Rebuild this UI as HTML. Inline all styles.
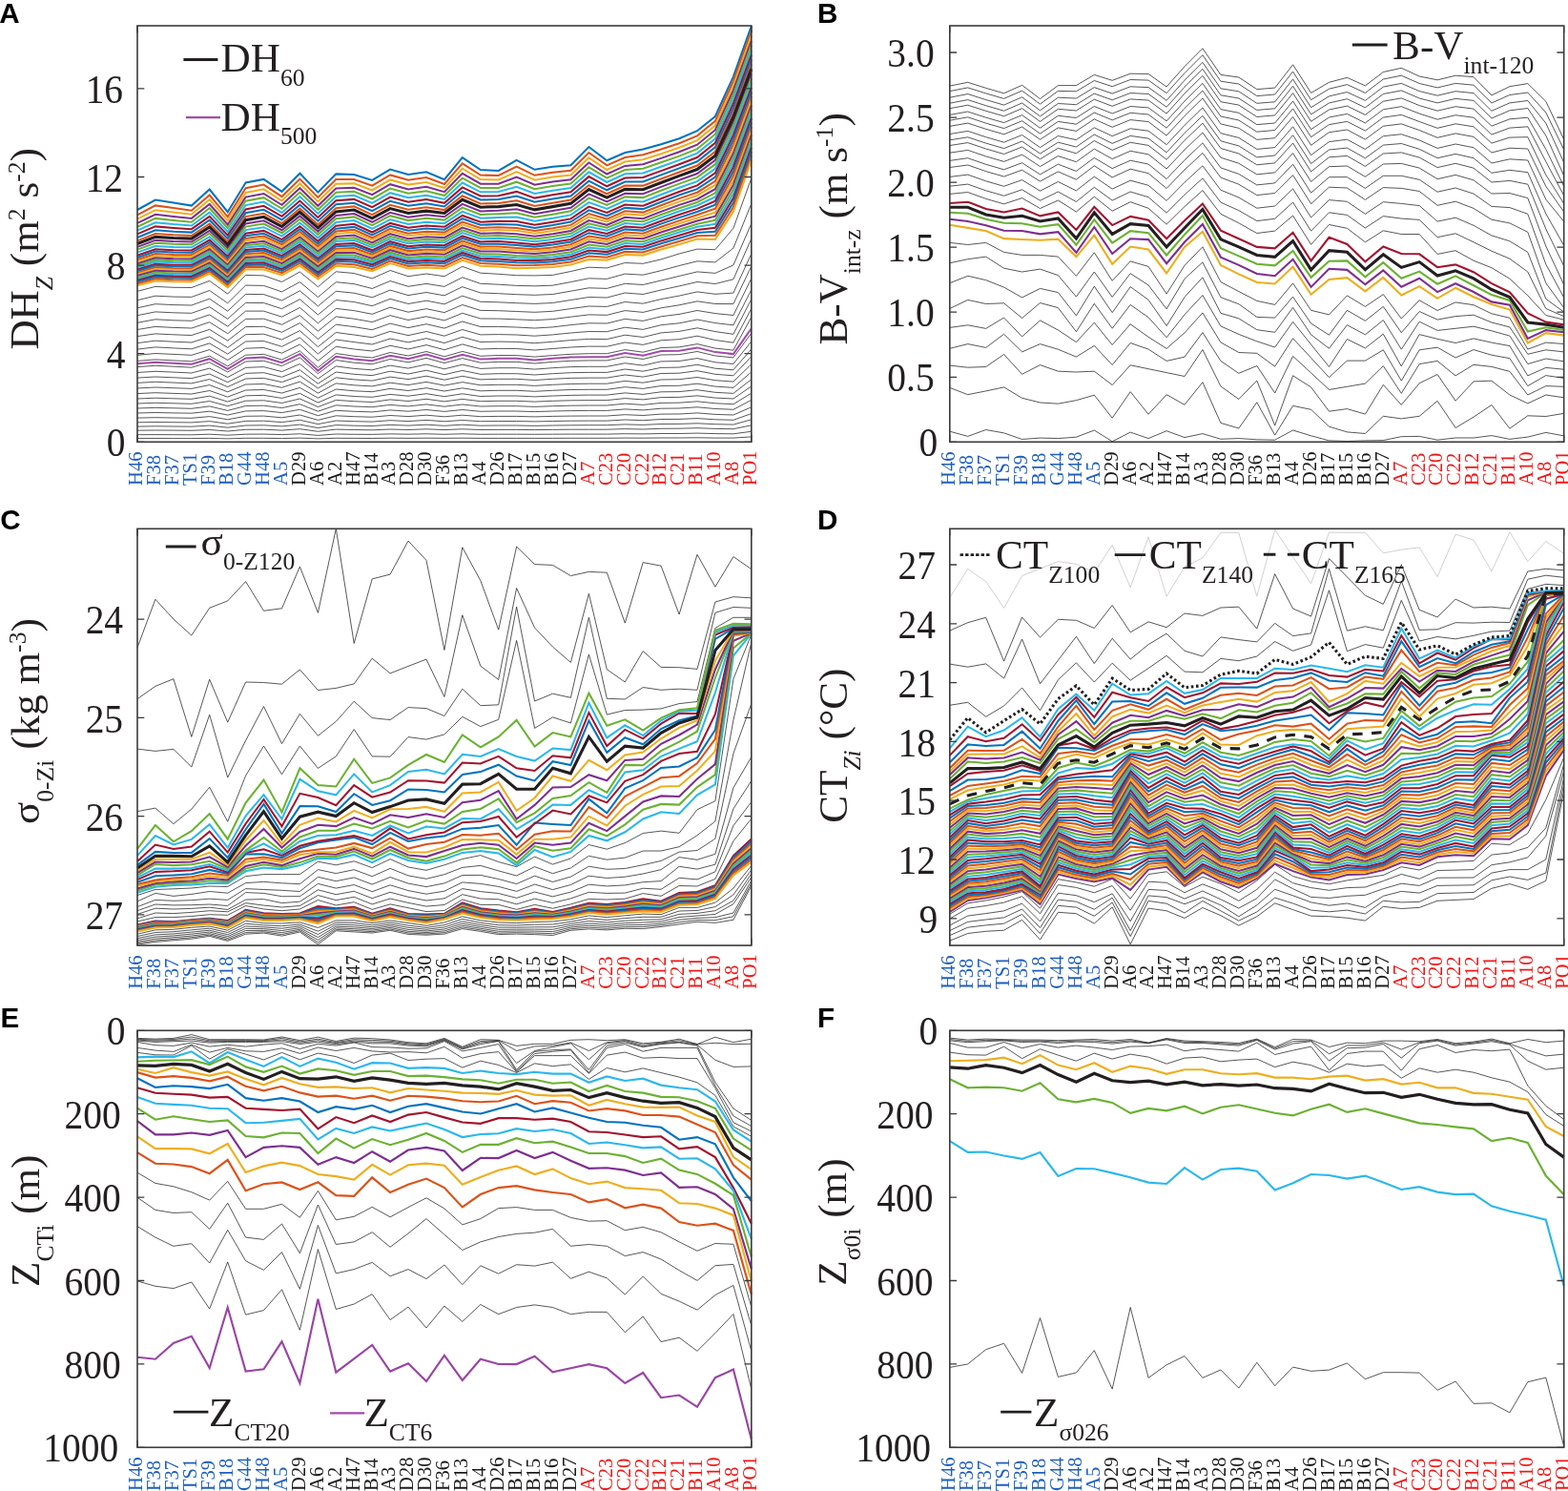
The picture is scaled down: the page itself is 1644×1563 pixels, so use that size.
<!DOCTYPE html>
<html lang="en"><head><meta charset="utf-8"><title>Figure</title>
<style>html,body{margin:0;padding:0;background:#fff}body{width:1644px;height:1563px;overflow:hidden}svg{display:block}</style></head>
<body>
<svg xmlns="http://www.w3.org/2000/svg" width="1644" height="1563" viewBox="0 0 1644 1563">
<rect width="1644" height="1563" fill="#fff"/>
<g id="panelA">
<clipPath id="clipA"><rect x="143" y="26.5" width="646" height="437.3"/></clipPath>
<g clip-path="url(#clipA)" fill="none" stroke-linejoin="miter" stroke-miterlimit="4" stroke-linecap="butt">
<polyline points="144,305.4 162.9,300.4 181.9,301.3 200.8,301.5 219.7,294.4 238.7,308.1 257.6,288.4 276.5,288.9 295.5,295.5 314.4,285 333.4,300.7 352.3,284.8 371.2,286.5 390.2,291.9 409.1,283.5 428,289.7 447,287 465.9,289.7 484.8,279.4 503.8,286.2 522.7,287.3 541.6,288.7 560.6,288.9 579.5,288.4 598.4,284.5 617.4,280.2 636.3,280.9 655.3,275.5 674.2,276.3 693.1,271.9 712.1,266 731,261.1 749.9,261.7 768.9,239.3 787.8,186.8" stroke="#262626" stroke-width="0.78"/>
<polyline points="144,314.7 162.9,310.2 181.9,311.1 200.8,311.4 219.7,304.5 238.7,317.8 257.6,299.1 276.5,299.4 295.5,305.9 314.4,295.6 333.4,311.5 352.3,295.7 371.2,297.6 390.2,302.5 409.1,294.5 428,300.3 447,297.4 465.9,300.4 484.8,290.8 503.8,297.3 522.7,298.2 541.6,299.4 560.6,299.8 579.5,299.2 598.4,295.6 617.4,291.8 636.3,292.4 655.3,287.1 674.2,288.2 693.1,283.7 712.1,278.5 731,273.8 749.9,274.9 768.9,260.1 787.8,213.5" stroke="#262626" stroke-width="0.78"/>
<polyline points="144,322.8 162.9,318.7 181.9,319.6 200.8,320 219.7,313.2 238.7,326.2 257.6,308.4 276.5,308.6 295.5,315 314.4,304.8 333.4,320.9 352.3,305.3 371.2,307.2 390.2,311.8 409.1,304.1 428,309.6 447,306.5 465.9,309.8 484.8,300.7 503.8,307 522.7,307.7 541.6,308.7 560.6,309.3 579.5,308.5 598.4,305.2 617.4,301.8 636.3,302.4 655.3,297.3 674.2,298.5 693.1,294 712.1,289.4 731,284.9 749.9,286.4 768.9,277.9 787.8,234.3" stroke="#262626" stroke-width="0.78"/>
<polyline points="144,330.7 162.9,326.9 181.9,327.8 200.8,328.3 219.7,321.7 238.7,334.3 257.6,317.4 276.5,317.5 295.5,323.7 314.4,313.7 333.4,330 352.3,314.5 371.2,316.5 390.2,320.7 409.1,313.3 428,318.5 447,315.2 465.9,318.8 484.8,310.2 503.8,316.3 522.7,316.8 541.6,317.7 560.6,318.4 579.5,317.5 598.4,314.5 617.4,311.5 636.3,312 655.3,307 674.2,308.5 693.1,304 712.1,299.9 731,295.5 749.9,297.5 768.9,292.8 787.8,250.2" stroke="#262626" stroke-width="0.78"/>
<polyline points="144,338.3 162.9,334.8 181.9,335.8 200.8,336.3 219.7,329.9 238.7,342.2 257.6,326.1 276.5,326.1 295.5,332.2 314.4,322.4 333.4,338.8 352.3,323.4 371.2,325.6 390.2,329.3 409.1,322.2 428,327.2 447,323.7 465.9,327.6 484.8,319.5 503.8,325.4 522.7,325.7 541.6,326.5 560.6,327.3 579.5,326.3 598.4,323.6 617.4,321 636.3,321.4 655.3,316.5 674.2,318.2 693.1,313.6 712.1,310.1 731,305.9 749.9,308.3 768.9,307.1 787.8,266" stroke="#262626" stroke-width="0.78"/>
<polyline points="144,345.5 162.9,342.4 181.9,343.4 200.8,344 219.7,337.7 238.7,349.7 257.6,334.4 276.5,334.2 295.5,340.3 314.4,330.6 333.4,347.2 352.3,331.9 371.2,334.2 390.2,337.6 409.1,330.7 428,335.5 447,331.8 465.9,335.9 484.8,328.3 503.8,334 522.7,334.1 541.6,334.8 560.6,335.7 579.5,334.6 598.4,332.2 617.4,329.9 636.3,330.3 655.3,325.6 674.2,327.4 693.1,322.8 712.1,319.8 731,315.8 749.9,318.5 768.9,318.6 787.8,279" stroke="#262626" stroke-width="0.78"/>
<polyline points="144,352.6 162.9,349.9 181.9,350.8 200.8,351.5 219.7,345.4 238.7,357.1 257.6,342.6 276.5,342.3 295.5,348.3 314.4,338.6 333.4,355.5 352.3,340.2 371.2,342.6 390.2,345.7 409.1,339.1 428,343.6 447,339.7 465.9,344.1 484.8,337 503.8,342.5 522.7,342.4 541.6,343 560.6,344 579.5,342.9 598.4,340.6 617.4,338.8 636.3,339 655.3,334.4 674.2,336.4 693.1,331.8 712.1,329.4 731,325.5 749.9,328.6 768.9,330.5 787.8,291.8" stroke="#262626" stroke-width="0.78"/>
<polyline points="144,359.6 162.9,357.2 181.9,358.2 200.8,359 219.7,352.9 238.7,364.4 257.6,350.7 276.5,350.2 295.5,356.1 314.4,346.6 333.4,363.6 352.3,348.5 371.2,351 390.2,353.7 409.1,347.4 428,351.6 447,347.5 465.9,352.2 484.8,345.5 503.8,350.9 522.7,350.6 541.6,351 560.6,352.2 579.5,350.9 598.4,349 617.4,347.5 636.3,347.7 655.3,343.2 674.2,345.4 693.1,340.7 712.1,338.8 731,335 749.9,338.6 768.9,340.8 787.8,303.7" stroke="#262626" stroke-width="0.78"/>
<polyline points="144,366.1 162.9,363.9 181.9,364.9 200.8,365.8 219.7,359.9 238.7,371.1 257.6,358 276.5,357.5 295.5,363.3 314.4,353.9 333.4,371 352.3,356 371.2,358.6 390.2,361 409.1,355 428,358.9 447,354.7 465.9,359.6 484.8,353.3 503.8,358.5 522.7,358.1 541.6,358.4 560.6,359.7 579.5,358.3 598.4,356.6 617.4,355.4 636.3,355.6 655.3,351.2 674.2,353.5 693.1,348.9 712.1,347.4 731,343.8 749.9,347.6 768.9,350.3 787.8,313.6" stroke="#262626" stroke-width="0.78"/>
<polyline points="144,372.3 162.9,370.5 181.9,371.4 200.8,372.3 219.7,366.6 238.7,377.5 257.6,365.2 276.5,364.5 295.5,370.2 314.4,361 333.4,378.3 352.3,363.3 371.2,366 390.2,368 409.1,362.3 428,366 447,361.6 465.9,366.7 484.8,360.9 503.8,366 522.7,365.4 541.6,365.5 560.6,367 579.5,365.5 598.4,364 617.4,363.1 636.3,363.2 655.3,359 674.2,361.4 693.1,356.8 712.1,355.7 731,352.2 749.9,356.5 768.9,359.2 787.8,323.5" stroke="#262626" stroke-width="0.78"/>
<polyline points="144,378.4 162.9,376.9 181.9,377.9 200.8,378.8 219.7,373.2 238.7,383.9 257.6,372.2 276.5,371.4 295.5,377.1 314.4,367.9 333.4,385.3 352.3,370.5 371.2,373.3 390.2,375 409.1,369.5 428,373 447,368.5 465.9,373.8 484.8,368.4 503.8,373.3 522.7,372.5 541.6,372.6 560.6,374.1 579.5,372.6 598.4,371.3 617.4,370.7 636.3,370.7 655.3,366.6 674.2,369.2 693.1,364.5 712.1,363.9 731,360.6 749.9,365.1 768.9,367.1 787.8,332.4" stroke="#262626" stroke-width="0.78"/>
<polyline points="144,384.6 162.9,383.3 181.9,384.2 200.8,385.2 219.7,379.8 238.7,390 257.6,379 276.5,378.3 295.5,383.6 314.4,374.9 333.4,391.7 352.3,377.5 371.2,380.2 390.2,381.7 409.1,376.5 428,379.8 447,375.4 465.9,380.6 484.8,375.6 503.8,380.2 522.7,379.4 541.6,379.4 560.6,381 579.5,379.4 598.4,378.3 617.4,377.9 636.3,377.9 655.3,374 674.2,376.5 693.1,372 712.1,371.7 731,368.5 749.9,373 768.9,374.9 787.8,349.3" stroke="#262626" stroke-width="0.78"/>
<polyline points="144,390.5 162.9,389.3 181.9,390.1 200.8,391 219.7,386.1 238.7,395.5 257.6,385.4 276.5,384.6 295.5,389.6 314.4,381.5 333.4,397.1 352.3,383.9 371.2,386.4 390.2,387.8 409.1,383.1 428,386.1 447,382 465.9,386.8 484.8,382.2 503.8,386.4 522.7,385.7 541.6,385.7 560.6,387.1 579.5,385.7 598.4,384.6 617.4,384.3 636.3,384.3 655.3,380.7 674.2,383.1 693.1,378.9 712.1,378.5 731,375.6 749.9,379.8 768.9,381.5 787.8,357.9" stroke="#262626" stroke-width="0.78"/>
<polyline points="144,396.1 162.9,395 181.9,395.8 200.8,396.6 219.7,392 238.7,400.7 257.6,391.4 276.5,390.7 295.5,395.3 314.4,387.8 333.4,402.2 352.3,390 371.2,392.3 390.2,393.6 409.1,389.2 428,392 447,388.2 465.9,392.7 484.8,388.4 503.8,392.3 522.7,391.7 541.6,391.7 560.6,393 579.5,391.7 598.4,390.7 617.4,390.4 636.3,390.4 655.3,387 674.2,389.2 693.1,385.4 712.1,385.1 731,382.3 749.9,386.2 768.9,387.8 787.8,366" stroke="#262626" stroke-width="0.78"/>
<polyline points="144,401.4 162.9,400.3 181.9,401.1 200.8,401.9 219.7,397.6 238.7,405.6 257.6,397 276.5,396.4 295.5,400.6 314.4,393.8 333.4,407 352.3,395.8 371.2,397.9 390.2,399.1 409.1,395.1 428,397.6 447,394.2 465.9,398.2 484.8,394.3 503.8,397.9 522.7,397.3 541.6,397.3 560.6,398.5 579.5,397.3 598.4,396.4 617.4,396.1 636.3,396.1 655.3,393 674.2,395.1 693.1,391.5 712.1,391.2 731,388.7 749.9,392.3 768.9,393.8 787.8,373.7" stroke="#262626" stroke-width="0.78"/>
<polyline points="144,407 162.9,406 181.9,406.7 200.8,407.4 219.7,403.6 238.7,410.8 257.6,403 276.5,402.5 295.5,406.3 314.4,400.1 333.4,412.1 352.3,401.9 371.2,403.8 390.2,404.9 409.1,401.2 428,403.6 447,400.4 465.9,404.1 484.8,400.6 503.8,403.8 522.7,403.3 541.6,403.3 560.6,404.4 579.5,403.3 598.4,402.5 617.4,402.2 636.3,402.2 655.3,399.4 674.2,401.2 693.1,398 712.1,397.7 731,395.5 749.9,398.7 768.9,400.1 787.8,381.8" stroke="#262626" stroke-width="0.78"/>
<polyline points="144,412.6 162.9,411.7 181.9,412.4 200.8,413 219.7,409.5 238.7,416.1 257.6,409 276.5,408.5 295.5,412 314.4,406.4 333.4,417.2 352.3,408 371.2,409.8 390.2,410.7 409.1,407.4 428,409.5 447,406.7 465.9,410 484.8,406.8 503.8,409.8 522.7,409.3 541.6,409.3 560.6,410.3 579.5,409.3 598.4,408.5 617.4,408.3 636.3,408.3 655.3,405.7 674.2,407.4 693.1,404.5 712.1,404.3 731,402.2 749.9,405.1 768.9,406.4 787.8,389.9" stroke="#262626" stroke-width="0.78"/>
<polyline points="144,418 162.9,417.2 181.9,417.8 200.8,418.3 219.7,415.2 238.7,421.1 257.6,414.8 276.5,414.4 295.5,417.4 314.4,412.4 333.4,422.1 352.3,413.9 371.2,415.5 390.2,416.3 409.1,413.4 428,415.2 447,412.7 465.9,415.7 484.8,412.8 503.8,415.5 522.7,415 541.6,415 560.6,415.9 579.5,415 598.4,414.4 617.4,414.1 636.3,414.1 655.3,411.9 674.2,413.4 693.1,410.8 712.1,410.6 731,408.7 749.9,411.3 768.9,412.4 787.8,397.7" stroke="#262626" stroke-width="0.78"/>
<polyline points="144,423 162.9,422.3 181.9,422.8 200.8,423.3 219.7,420.5 238.7,425.7 257.6,420.2 276.5,419.8 295.5,422.5 314.4,418 333.4,426.6 352.3,419.4 371.2,420.7 390.2,421.5 409.1,418.9 428,420.5 447,418.3 465.9,420.9 484.8,418.4 503.8,420.7 522.7,420.3 541.6,420.3 560.6,421.1 579.5,420.3 598.4,419.8 617.4,419.6 636.3,419.6 655.3,417.6 674.2,418.9 693.1,416.6 712.1,416.4 731,414.8 749.9,417.1 768.9,418 787.8,404.9" stroke="#262626" stroke-width="0.78"/>
<polyline points="144,428 162.9,427.4 181.9,427.8 200.8,428.3 219.7,425.9 238.7,430.4 257.6,425.5 276.5,425.2 295.5,427.6 314.4,423.7 333.4,431.2 352.3,424.8 371.2,426 390.2,426.7 409.1,424.4 428,425.9 447,423.9 465.9,426.2 484.8,424 503.8,426 522.7,425.7 541.6,425.7 560.6,426.4 579.5,425.7 598.4,425.2 617.4,425 636.3,425 655.3,423.2 674.2,424.4 693.1,422.4 712.1,422.2 731,420.8 749.9,422.8 768.9,423.7 787.8,412.2" stroke="#262626" stroke-width="0.78"/>
<polyline points="144,433 162.9,432.5 181.9,432.9 200.8,433.2 219.7,431.2 238.7,435.1 257.6,430.9 276.5,430.6 295.5,432.6 314.4,429.3 333.4,435.7 352.3,430.3 371.2,431.3 390.2,431.9 409.1,429.9 428,431.2 447,429.5 465.9,431.4 484.8,429.5 503.8,431.3 522.7,431 541.6,431 560.6,431.6 579.5,431 598.4,430.6 617.4,430.4 636.3,430.4 655.3,428.9 674.2,429.9 693.1,428.2 712.1,428 731,426.8 749.9,428.5 768.9,429.3 787.8,419.4" stroke="#262626" stroke-width="0.78"/>
<polyline points="144,438.1 162.9,437.7 181.9,438 200.8,438.3 219.7,436.6 238.7,439.8 257.6,436.3 276.5,436.1 295.5,437.8 314.4,435 333.4,440.4 352.3,435.8 371.2,436.7 390.2,437.2 409.1,435.5 428,436.6 447,435.2 465.9,436.8 484.8,435.2 503.8,436.7 522.7,436.4 541.6,436.4 560.6,436.9 579.5,436.4 598.4,436.1 617.4,436 636.3,436 655.3,434.7 674.2,435.5 693.1,434.1 712.1,434 731,432.9 749.9,434.4 768.9,435 787.8,426.8" stroke="#262626" stroke-width="0.78"/>
<polyline points="144,442.8 162.9,442.5 181.9,442.7 200.8,442.9 219.7,441.6 238.7,444.2 257.6,441.4 276.5,441.2 295.5,442.6 314.4,440.3 333.4,444.6 352.3,441 371.2,441.7 390.2,442.1 409.1,440.7 428,441.6 447,440.4 465.9,441.8 484.8,440.5 503.8,441.7 522.7,441.5 541.6,441.5 560.6,441.9 579.5,441.5 598.4,441.2 617.4,441.1 636.3,441.1 655.3,440 674.2,440.7 693.1,439.5 712.1,439.4 731,438.6 749.9,439.8 768.9,440.3 787.8,433.6" stroke="#262626" stroke-width="0.78"/>
<polyline points="144,447.1 162.9,446.8 181.9,447 200.8,447.2 219.7,446.1 238.7,448.2 257.6,446 276.5,445.8 295.5,446.9 314.4,445.1 333.4,448.6 352.3,445.6 371.2,446.2 390.2,446.5 409.1,445.4 428,446.1 447,445.2 465.9,446.3 484.8,445.2 503.8,446.2 522.7,446 541.6,446 560.6,446.4 579.5,446 598.4,445.8 617.4,445.7 636.3,445.7 655.3,444.9 674.2,445.4 693.1,444.5 712.1,444.4 731,443.8 749.9,444.7 768.9,445.1 787.8,439.8" stroke="#262626" stroke-width="0.78"/>
<polyline points="144,451.2 162.9,451 181.9,451.1 200.8,451.3 219.7,450.5 238.7,452 257.6,450.3 276.5,450.2 295.5,451.1 314.4,449.7 333.4,452.3 352.3,450.1 371.2,450.5 390.2,450.8 409.1,450 428,450.5 447,449.8 465.9,450.6 484.8,449.8 503.8,450.5 522.7,450.4 541.6,450.4 560.6,450.6 579.5,450.4 598.4,450.2 617.4,450.2 636.3,450.2 655.3,449.6 674.2,450 693.1,449.3 712.1,449.2 731,448.7 749.9,449.4 768.9,449.7 787.8,445.8" stroke="#262626" stroke-width="0.78"/>
<polyline points="144,455.7 162.9,455.6 181.9,455.7 200.8,455.8 219.7,455.2 238.7,456.2 257.6,455.2 276.5,455.1 295.5,455.6 314.4,454.8 333.4,456.4 352.3,455 371.2,455.3 390.2,455.4 409.1,454.9 428,455.2 447,454.8 465.9,455.3 484.8,454.8 503.8,455.3 522.7,455.2 541.6,455.2 560.6,455.3 579.5,455.2 598.4,455.1 617.4,455.1 636.3,455.1 655.3,454.7 674.2,454.9 693.1,454.5 712.1,454.5 731,454.1 749.9,454.6 768.9,454.8 787.8,452.3" stroke="#262626" stroke-width="0.78"/>
<polyline points="144,459.6 162.9,459.5 181.9,459.6 200.8,459.6 219.7,459.4 238.7,459.9 257.6,459.3 276.5,459.3 295.5,459.6 314.4,459.1 333.4,459.9 352.3,459.3 371.2,459.4 390.2,459.5 409.1,459.2 428,459.4 447,459.2 465.9,459.4 484.8,459.2 503.8,459.4 522.7,459.4 541.6,459.4 560.6,459.4 579.5,459.4 598.4,459.3 617.4,459.3 636.3,459.3 655.3,459.1 674.2,459.2 693.1,459 712.1,459 731,458.8 749.9,459.1 768.9,459.1 787.8,457.9" stroke="#262626" stroke-width="0.78"/>
<polyline points="144,220 162.9,209.6 181.9,212.6 200.8,215.6 219.7,198.6 238.7,222.2 257.6,191.5 276.5,187.9 295.5,200.8 314.4,181.7 333.4,201.6 352.3,182.4 371.2,183 390.2,189 409.1,177.5 428,183 447,180.3 465.9,188.2 484.8,165.1 503.8,178.1 522.7,178.9 541.6,167.9 560.6,177.8 579.5,174.8 598.4,173.2 617.4,154 636.3,168.2 655.3,160 674.2,156.6 693.1,151.2 712.1,145.2 731,137.2 749.9,122 768.9,80.3 787.8,27.4" stroke="#0072BD" stroke-width="2.05"/>
<polyline points="144,225.3 162.9,215.4 181.9,218.1 200.8,220.7 219.7,204.5 238.7,227.3 257.6,197.2 276.5,193.6 295.5,206.1 314.4,187.6 333.4,206.9 352.3,188 371.2,188 390.2,194.7 409.1,183.4 428,188.8 447,186.1 465.9,193 484.8,171.4 503.8,183.5 522.7,184 541.6,174.6 560.6,183.8 579.5,180.7 598.4,178.7 617.4,160 636.3,173.4 655.3,165 674.2,162.3 693.1,156.5 712.1,150.2 731,142.4 749.9,126.9 768.9,85.1 787.8,32.7" stroke="#DB5218" stroke-width="2.05"/>
<polyline points="144,229.6 162.9,220.2 181.9,222.6 200.8,224.8 219.7,209.3 238.7,231.4 257.6,202 276.5,198.3 295.5,210.5 314.4,192.5 333.4,211.4 352.3,192.8 371.2,192.4 390.2,199.5 409.1,188.4 428,193.6 447,191 465.9,197.1 484.8,176.7 503.8,188.1 522.7,188.4 541.6,180.1 560.6,188.8 579.5,185.6 598.4,183.5 617.4,165.3 636.3,178 655.3,169.5 674.2,167.3 693.1,161.2 712.1,154.8 731,147.1 749.9,131.5 768.9,89.8 787.8,37.7" stroke="#EDAE1F" stroke-width="2.05"/>
<polyline points="144,233.9 162.9,224.8 181.9,227 200.8,228.9 219.7,214 238.7,235.5 257.6,206.6 276.5,203 295.5,214.8 314.4,197.2 333.4,215.7 352.3,197.4 371.2,196.7 390.2,204.2 409.1,193.2 428,198.4 447,195.8 465.9,201.2 484.8,181.9 503.8,192.7 522.7,192.8 541.6,185.6 560.6,193.8 579.5,190.5 598.4,188.2 617.4,170.5 636.3,182.5 655.3,173.9 674.2,172.2 693.1,165.9 712.1,159.3 731,151.7 749.9,136.2 768.9,94.6 787.8,42.8" stroke="#7D2E8F" stroke-width="2.05"/>
<polyline points="144,237.7 162.9,228.9 181.9,231 200.8,232.7 219.7,218.2 238.7,239.2 257.6,210.8 276.5,207.2 295.5,218.8 314.4,201.6 333.4,219.8 352.3,201.7 371.2,200.7 390.2,208.5 409.1,197.6 428,202.8 447,200.2 465.9,205.1 484.8,186.7 503.8,196.9 522.7,196.9 541.6,190.7 560.6,198.3 579.5,195.1 598.4,192.5 617.4,175.3 636.3,186.7 655.3,178.1 674.2,176.7 693.1,170.3 712.1,163.6 731,156.1 749.9,140.7 768.9,99.3 787.8,47.7" stroke="#6BB132" stroke-width="2.05"/>
<polyline points="144,241.6 162.9,233.2 181.9,235.1 200.8,236.5 219.7,222.6 238.7,243 257.6,215.1 276.5,211.6 295.5,222.9 314.4,206.1 333.4,223.9 352.3,206.1 371.2,204.8 390.2,212.9 409.1,202.2 428,207.3 447,204.7 465.9,209 484.8,191.6 503.8,201.3 522.7,201.1 541.6,195.8 560.6,203 579.5,199.7 598.4,197 617.4,180.3 636.3,191 655.3,182.3 674.2,181.4 693.1,174.7 712.1,167.9 731,160.6 749.9,145.3 768.9,104.1 787.8,52.7" stroke="#2BB7EC" stroke-width="2.05"/>
<polyline points="144,245.4 162.9,237.4 181.9,239 200.8,240.2 219.7,226.8 238.7,246.7 257.6,219.4 276.5,215.8 295.5,226.8 314.4,210.5 333.4,227.9 352.3,210.3 371.2,208.9 390.2,217.2 409.1,206.6 428,211.7 447,209.1 465.9,212.8 484.8,196.4 503.8,205.5 522.7,205.2 541.6,200.9 560.6,207.6 579.5,204.2 598.4,201.3 617.4,185.1 636.3,195.3 655.3,186.5 674.2,186 693.1,179.1 712.1,172.2 731,165 749.9,149.8 768.9,108.8 787.8,57.7" stroke="#A1132E" stroke-width="2.05"/>
<polyline points="144,249 162.9,241.3 181.9,242.7 200.8,243.6 219.7,230.7 238.7,250.2 257.6,223.3 276.5,219.8 295.5,230.5 314.4,214.6 333.4,231.7 352.3,214.3 371.2,212.7 390.2,221.2 409.1,210.8 428,215.8 447,213.3 465.9,216.5 484.8,200.8 503.8,209.5 522.7,209.1 541.6,205.6 560.6,211.8 579.5,208.5 598.4,205.5 617.4,189.7 636.3,199.3 655.3,190.6 674.2,190.4 693.1,183.4 712.1,176.4 731,169.3 749.9,154.3 768.9,113.5 787.8,62.5" stroke="#0072BD" stroke-width="2.05"/>
<polyline points="144,252.4 162.9,245 181.9,246.3 200.8,247 219.7,234.5 238.7,253.5 257.6,227.1 276.5,223.7 295.5,234.2 314.4,218.6 333.4,235.4 352.3,218.3 371.2,216.4 390.2,225.2 409.1,214.8 428,219.8 447,217.3 465.9,220.1 484.8,205.2 503.8,213.5 522.7,212.9 541.6,210.2 560.6,216 579.5,212.7 598.4,209.6 617.4,194.3 636.3,203.3 655.3,194.6 674.2,194.6 693.1,187.5 712.1,180.5 731,173.5 749.9,158.8 768.9,118.3 787.8,67.4" stroke="#DB5218" stroke-width="2.05"/>
<polyline points="144,258.9 162.9,251.9 181.9,253 200.8,253.5 219.7,241.8 238.7,260 257.6,234.5 276.5,231.3 295.5,241.2 314.4,226.4 333.4,242.6 352.3,226 371.2,224 390.2,232.8 409.1,222.8 428,227.7 447,225.3 465.9,227.3 484.8,213.8 503.8,221.4 522.7,220.7 541.6,219.3 560.6,224.2 579.5,221 598.4,217.7 617.4,203.4 636.3,211.4 655.3,202.7 674.2,203.3 693.1,195.9 712.1,188.8 731,182 749.9,167.8 768.9,127.7 787.8,77.3" stroke="#7D2E8F" stroke-width="2.05"/>
<polyline points="144,261.6 162.9,254.8 181.9,255.8 200.8,256.2 219.7,244.7 238.7,262.7 257.6,237.6 276.5,234.6 295.5,244.2 314.4,229.7 333.4,245.8 352.3,229.3 371.2,227.4 390.2,236.1 409.1,226.2 428,231.1 447,228.8 465.9,230.6 484.8,217.6 503.8,224.9 522.7,224.2 541.6,223.2 560.6,227.8 579.5,224.7 598.4,221.3 617.4,207.6 636.3,215 655.3,206.4 674.2,207.1 693.1,199.8 712.1,192.6 731,185.9 749.9,172.2 768.9,132.5 787.8,82" stroke="#6BB132" stroke-width="2.05"/>
<polyline points="144,264.6 162.9,258 181.9,259 200.8,259.3 219.7,248.2 238.7,265.7 257.6,241.1 276.5,238.2 295.5,247.6 314.4,233.5 333.4,249.3 352.3,233.1 371.2,231.1 390.2,239.8 409.1,230 428,234.9 447,232.7 465.9,234.2 484.8,221.8 503.8,228.8 522.7,228.1 541.6,227.6 560.6,231.8 579.5,228.7 598.4,225.4 617.4,212.1 636.3,219 655.3,210.4 674.2,211.4 693.1,204 712.1,196.8 731,190.2 749.9,176.8 768.9,137.2 787.8,87" stroke="#2BB7EC" stroke-width="2.05"/>
<polyline points="144,267.7 162.9,261.2 181.9,262.2 200.8,262.4 219.7,251.6 238.7,268.8 257.6,244.7 276.5,241.9 295.5,251.1 314.4,237.3 333.4,252.9 352.3,236.8 371.2,234.8 390.2,243.5 409.1,233.9 428,238.7 447,236.6 465.9,237.8 484.8,226 503.8,232.7 522.7,231.9 541.6,232 560.6,235.8 579.5,232.8 598.4,229.4 617.4,216.6 636.3,223 655.3,214.5 674.2,215.7 693.1,208.2 712.1,201 731,194.4 749.9,181.3 768.9,141.9 787.8,91.9" stroke="#A1132E" stroke-width="2.05"/>
<polyline points="144,270 162.9,263.6 181.9,264.6 200.8,264.8 219.7,254.1 238.7,271.1 257.6,247.3 276.5,244.8 295.5,253.7 314.4,240.2 333.4,255.6 352.3,239.7 371.2,237.9 390.2,246.4 409.1,236.8 428,241.7 447,239.6 465.9,240.7 484.8,229.2 503.8,235.8 522.7,235.1 541.6,235.4 560.6,238.9 579.5,236 598.4,232.6 617.4,220.3 636.3,226.3 655.3,217.9 674.2,219.1 693.1,211.7 712.1,204.5 731,198.1 749.9,185.6 768.9,146.7 787.8,96.6" stroke="#0072BD" stroke-width="2.05"/>
<polyline points="144,272.3 162.9,266 181.9,267 200.8,267.2 219.7,256.7 238.7,273.5 257.6,250 276.5,247.6 295.5,256.3 314.4,243 333.4,258.4 352.3,242.6 371.2,240.9 390.2,249.3 409.1,239.8 428,244.7 447,242.7 465.9,243.6 484.8,232.5 503.8,238.9 522.7,238.3 541.6,238.9 560.6,242 579.5,239.3 598.4,235.9 617.4,224 636.3,229.6 655.3,221.3 674.2,222.6 693.1,215.2 712.1,208.1 731,201.7 749.9,189.8 768.9,151.4 787.8,101.2" stroke="#DB5218" stroke-width="2.05"/>
<polyline points="144,274.2 162.9,268 181.9,268.9 200.8,269.1 219.7,258.8 238.7,275.4 257.6,252.3 276.5,250 295.5,258.5 314.4,245.5 333.4,260.7 352.3,245.1 371.2,243.6 390.2,251.7 409.1,242.3 428,247.2 447,245.3 465.9,246.2 484.8,235.3 503.8,241.7 522.7,241.1 541.6,241.8 560.6,244.7 579.5,242.1 598.4,238.7 617.4,227.3 636.3,232.5 655.3,224.4 674.2,225.7 693.1,218.4 712.1,211.4 731,205 749.9,193.9 768.9,156.1 787.8,105.7" stroke="#EDAE1F" stroke-width="2.05"/>
<polyline points="144,276.4 162.9,270.4 181.9,271.3 200.8,271.5 219.7,261.3 238.7,277.7 257.6,254.9 276.5,252.8 295.5,261.1 314.4,248.4 333.4,263.5 352.3,248.1 371.2,246.6 390.2,254.5 409.1,245.2 428,250.2 447,248.3 465.9,249.1 484.8,238.5 503.8,244.8 522.7,244.3 541.6,245.2 560.6,247.8 579.5,245.3 598.4,242 617.4,231 636.3,235.8 655.3,227.8 674.2,229.2 693.1,221.9 712.1,214.9 731,208.7 749.9,198.2 768.9,160.8 787.8,110.3" stroke="#7D2E8F" stroke-width="2.05"/>
<polyline points="144,278.3 162.9,272.4 181.9,273.3 200.8,273.4 219.7,263.4 238.7,279.7 257.6,257.2 276.5,255.3 295.5,263.4 314.4,250.8 333.4,265.8 352.3,250.6 371.2,249.3 390.2,257 409.1,247.8 428,252.8 447,250.9 465.9,251.7 484.8,241.3 503.8,247.5 522.7,247.1 541.6,248.2 560.6,250.5 579.5,248.1 598.4,244.8 617.4,234.3 636.3,238.7 655.3,231 674.2,232.3 693.1,225 712.1,218.2 731,212 749.9,202.3 768.9,165.5 787.8,114.8" stroke="#6BB132" stroke-width="2.05"/>
<polyline points="144,280.2 162.9,274.4 181.9,275.3 200.8,275.4 219.7,265.5 238.7,281.6 257.6,259.5 276.5,257.7 295.5,265.6 314.4,253.3 333.4,268.2 352.3,253.1 371.2,251.9 390.2,259.4 409.1,250.3 428,255.3 447,253.5 465.9,254.3 484.8,244.1 503.8,250.3 522.7,249.9 541.6,251.1 560.6,253.2 579.5,250.9 598.4,247.7 617.4,237.6 636.3,241.7 655.3,234.1 674.2,235.4 693.1,228.2 712.1,221.5 731,215.3 749.9,206.4 768.9,170.2 787.8,119.3" stroke="#2BB7EC" stroke-width="2.05"/>
<polyline points="144,282.5 162.9,276.8 181.9,277.7 200.8,277.8 219.7,268.1 238.7,283.9 257.6,262.1 276.5,260.5 295.5,268.2 314.4,256.2 333.4,271 352.3,256 371.2,255 390.2,262.3 409.1,253.2 428,258.3 447,256.6 465.9,257.2 484.8,247.4 503.8,253.4 522.7,253.1 541.6,254.5 560.6,256.3 579.5,254.1 598.4,250.9 617.4,241.2 636.3,245 655.3,237.5 674.2,238.8 693.1,231.7 712.1,225 731,218.9 749.9,210.6 768.9,174.9 787.8,123.9" stroke="#A1132E" stroke-width="2.05"/>
<polyline points="144,284.1 162.9,278.4 181.9,279.3 200.8,279.5 219.7,269.8 238.7,285.6 257.6,264.1 276.5,262.6 295.5,270.1 314.4,258.3 333.4,273 352.3,258.2 371.2,257.4 390.2,264.4 409.1,255.4 428,260.5 447,258.8 465.9,259.6 484.8,249.8 503.8,255.8 522.7,255.7 541.6,257.1 560.6,258.6 579.5,256.6 598.4,253.5 617.4,244.2 636.3,247.7 655.3,240.4 674.2,241.6 693.1,234.6 712.1,228.1 731,222 749.9,214.6 768.9,179.6 787.8,128.3" stroke="#0072BD" stroke-width="2.05"/>
<polyline points="144,286 162.9,280.4 181.9,281.3 200.8,281.4 219.7,271.9 238.7,287.5 257.6,266.3 276.5,265 295.5,272.4 314.4,260.8 333.4,275.4 352.3,260.7 371.2,260.1 390.2,266.8 409.1,257.9 428,263.1 447,261.5 465.9,262.2 484.8,252.6 503.8,258.6 522.7,258.5 541.6,260 560.6,261.3 579.5,259.4 598.4,256.3 617.4,247.5 636.3,250.6 655.3,243.5 674.2,244.7 693.1,237.8 712.1,231.4 731,225.3 749.9,218.7 768.9,184.3 787.8,132.8" stroke="#DB5218" stroke-width="2.05"/>
<polyline points="144,287.5 162.9,282 181.9,282.8 200.8,283 219.7,273.6 238.7,289.1 257.6,268.1 276.5,267 295.5,274.2 314.4,262.8 333.4,277.3 352.3,262.8 371.2,262.4 390.2,268.8 409.1,260 428,265.2 447,263.6 465.9,264.5 484.8,254.9 503.8,260.9 522.7,261 541.6,262.4 560.6,263.5 579.5,261.8 598.4,258.8 617.4,250.4 636.3,253.2 655.3,246.3 674.2,247.4 693.1,240.6 712.1,234.3 731,228.4 749.9,222.7 768.9,189 787.8,137.1" stroke="#EDAE1F" stroke-width="2.05"/>
<polyline points="144,289.1 162.9,283.7 181.9,284.5 200.8,284.7 219.7,275.4 238.7,290.7 257.6,270.1 276.5,269.1 295.5,276.1 314.4,264.9 333.4,279.4 352.3,264.9 371.2,264.8 390.2,270.9 409.1,262.2 428,267.4 447,265.9 465.9,266.8 484.8,257.3 503.8,263.4 522.7,263.6 541.6,265 560.6,265.9 579.5,264.3 598.4,261.4 617.4,253.3 636.3,255.9 655.3,249.2 674.2,250.2 693.1,243.5 712.1,237.4 731,231.4 749.9,226.7 768.9,193.7 787.8,141.5" stroke="#7D2E8F" stroke-width="2.05"/>
<polyline points="144,290.9 162.9,285.6 181.9,286.5 200.8,286.7 219.7,277.5 238.7,292.7 257.6,272.3 276.5,271.5 295.5,278.4 314.4,267.3 333.4,281.8 352.3,267.4 371.2,267.5 390.2,273.3 409.1,264.7 428,269.9 447,268.5 465.9,269.4 484.8,260.1 503.8,266.1 522.7,266.4 541.6,267.9 560.6,268.6 579.5,267.1 598.4,264.2 617.4,256.6 636.3,258.8 655.3,252.3 674.2,253.3 693.1,246.7 712.1,240.7 731,234.8 749.9,230.8 768.9,198.4 787.8,146" stroke="#6BB132" stroke-width="2.05"/>
<polyline points="144,292.4 162.9,287.2 181.9,288 200.8,288.3 219.7,279.2 238.7,294.2 257.6,274.1 276.5,273.5 295.5,280.2 314.4,269.4 333.4,283.7 352.3,269.5 371.2,269.8 390.2,275.3 409.1,266.8 428,272.1 447,270.7 465.9,271.7 484.8,262.5 503.8,268.5 522.7,268.9 541.6,270.3 560.6,270.8 579.5,269.4 598.4,266.7 617.4,259.5 636.3,261.4 655.3,255.1 674.2,256 693.1,249.5 712.1,243.6 731,237.8 749.9,234.7 768.9,203.1 787.8,150.3" stroke="#2BB7EC" stroke-width="2.05"/>
<polyline points="144,294 162.9,288.9 181.9,289.7 200.8,290 219.7,280.9 238.7,295.9 257.6,276.1 276.5,275.6 295.5,282.1 314.4,271.5 333.4,285.8 352.3,271.7 371.2,272.2 390.2,277.4 409.1,269 428,274.3 447,273 465.9,274 484.8,264.9 503.8,271 522.7,271.5 541.6,272.9 560.6,273.1 579.5,271.9 598.4,269.2 617.4,262.5 636.3,264.1 655.3,258 674.2,258.7 693.1,252.4 712.1,246.7 731,240.9 749.9,238.7 768.9,207.8 787.8,154.7" stroke="#A1132E" stroke-width="2.05"/>
<polyline points="144,295.5 162.9,290.4 181.9,291.3 200.8,291.6 219.7,282.6 238.7,297.4 257.6,277.9 276.5,277.6 295.5,283.9 314.4,273.5 333.4,287.8 352.3,273.8 371.2,274.5 390.2,279.4 409.1,271.1 428,276.4 447,275.2 465.9,276.3 484.8,267.2 503.8,273.3 522.7,273.9 541.6,275.3 560.6,275.4 579.5,274.3 598.4,271.7 617.4,265.3 636.3,266.7 655.3,260.8 674.2,261.4 693.1,255.3 712.1,249.7 731,243.9 749.9,242.7 768.9,212.5 787.8,159" stroke="#0072BD" stroke-width="2.05"/>
<polyline points="144,297.4 162.9,292.4 181.9,293.2 200.8,293.5 219.7,284.7 238.7,299.4 257.6,280.1 276.5,280 295.5,286.2 314.4,275.9 333.4,290.1 352.3,276.3 371.2,277.2 390.2,281.9 409.1,273.6 428,279 447,277.8 465.9,278.9 484.8,270 503.8,276.1 522.7,276.8 541.6,278.3 560.6,278 579.5,277.1 598.4,274.5 617.4,268.6 636.3,269.7 655.3,263.9 674.2,264.5 693.1,258.4 712.1,252.9 731,247.2 749.9,246.8 768.9,217.2 787.8,163.5" stroke="#DB5218" stroke-width="2.05"/>
<polyline points="144,299.3 162.9,294.4 181.9,295.2 200.8,295.5 219.7,286.8 238.7,301.3 257.6,282.4 276.5,282.4 295.5,288.4 314.4,278.4 333.4,292.5 352.3,278.8 371.2,279.9 390.2,284.3 409.1,276.1 428,281.5 447,280.4 465.9,281.5 484.8,272.8 503.8,278.8 522.7,279.6 541.6,281.2 560.6,280.7 579.5,279.9 598.4,277.4 617.4,271.9 636.3,272.6 655.3,267 674.2,267.6 693.1,261.6 712.1,256.2 731,250.5 749.9,250.9 768.9,221.9 787.8,168" stroke="#EDAE1F" stroke-width="2.05"/>
<polyline points="144,381.2 162.9,379.8 181.9,380.8 200.8,381.8 219.7,376.2 238.7,386.8 257.6,375.4 276.5,374.6 295.5,380.2 314.4,371.1 333.4,388.6 352.3,373.8 371.2,376.6 390.2,378.2 409.1,372.8 428,376.2 447,371.6 465.9,377 484.8,371.8 503.8,376.6 522.7,375.8 541.6,375.8 560.6,377.4 579.5,375.8 598.4,374.6 617.4,374.2 636.3,374.2 655.3,370.1 674.2,372.8 693.1,368.1 712.1,367.7 731,364.4 749.9,369.1 768.9,371.1 787.8,344.4" stroke="#a24baa" stroke-width="2.0"/>
<polyline points="144,255.5 162.9,248.4 181.9,249.5 200.8,250.1 219.7,238 238.7,256.6 257.6,230.6 276.5,227.3 295.5,237.5 314.4,222.3 333.4,238.8 352.3,221.9 371.2,220 390.2,228.8 409.1,218.6 428,223.5 447,221.1 465.9,223.5 484.8,209.3 503.8,217.2 522.7,216.6 541.6,214.5 560.6,219.9 579.5,216.6 598.4,213.4 617.4,198.6 636.3,207.1 655.3,198.4 674.2,198.7 693.1,191.5 712.1,184.4 731,177.5 749.9,163.2 768.9,123 787.8,72.2" stroke="#231f20" stroke-width="3.1"/>
</g>
<rect x="144" y="27" width="643.8" height="436.3" fill="none" stroke="#3a3a3a" stroke-width="1.6"/>
<path d="M144 463.3h7.3M787.8 463.3h-7.3M144 370.7h7.3M787.8 370.7h-7.3M144 278.1h7.3M787.8 278.1h-7.3M144 185.5h7.3M787.8 185.5h-7.3M144 92.9h7.3M787.8 92.9h-7.3M144 463.3v-7.3M144 27v7.3M787.8 463.3v-7.3M787.8 27v7.3" stroke="#3a3a3a" stroke-width="1.3" fill="none"/>
<g font-family="'Liberation Serif',serif" font-size="40.5" fill="#231f20" text-anchor="end">
<text transform="translate(131.5 478.4) scale(0.975 1.045)">0</text>
<text transform="translate(131.5 385.8) scale(0.975 1.045)">4</text>
<text transform="translate(131.5 293.2) scale(0.975 1.045)">8</text>
<text transform="translate(129.1 200.6) scale(0.975 1.045)">12</text>
<text transform="translate(129.1 108) scale(0.975 1.045)">16</text>
</g>
<g font-family="'Liberation Serif',serif" font-size="20.5" text-anchor="start">
<text transform="translate(149.3 508.9) rotate(-90)" fill="#1f5fbf">H46</text>
<text transform="translate(168.2 508.9) rotate(-90)" fill="#1f5fbf">F38</text>
<text transform="translate(187.2 508.9) rotate(-90)" fill="#1f5fbf">F37</text>
<text transform="translate(206.1 508.9) rotate(-90)" fill="#1f5fbf">TS1</text>
<text transform="translate(225 508.9) rotate(-90)" fill="#1f5fbf">F39</text>
<text transform="translate(244 508.9) rotate(-90)" fill="#1f5fbf">B18</text>
<text transform="translate(262.9 508.9) rotate(-90)" fill="#1f5fbf">G44</text>
<text transform="translate(281.8 508.9) rotate(-90)" fill="#1f5fbf">H48</text>
<text transform="translate(300.8 508.9) rotate(-90)" fill="#1f5fbf">A5</text>
<text transform="translate(319.7 508.9) rotate(-90)" fill="#1a1a1a">D29</text>
<text transform="translate(338.7 508.9) rotate(-90)" fill="#1a1a1a">A6</text>
<text transform="translate(357.6 508.9) rotate(-90)" fill="#1a1a1a">A2</text>
<text transform="translate(376.5 508.9) rotate(-90)" fill="#1a1a1a">H47</text>
<text transform="translate(395.5 508.9) rotate(-90)" fill="#1a1a1a">B14</text>
<text transform="translate(414.4 508.9) rotate(-90)" fill="#1a1a1a">A3</text>
<text transform="translate(433.3 508.9) rotate(-90)" fill="#1a1a1a">D28</text>
<text transform="translate(452.3 508.9) rotate(-90)" fill="#1a1a1a">D30</text>
<text transform="translate(471.2 508.9) rotate(-90)" fill="#1a1a1a">F36</text>
<text transform="translate(490.1 508.9) rotate(-90)" fill="#1a1a1a">B13</text>
<text transform="translate(509.1 508.9) rotate(-90)" fill="#1a1a1a">A4</text>
<text transform="translate(528 508.9) rotate(-90)" fill="#1a1a1a">D26</text>
<text transform="translate(546.9 508.9) rotate(-90)" fill="#1a1a1a">B17</text>
<text transform="translate(565.9 508.9) rotate(-90)" fill="#1a1a1a">B15</text>
<text transform="translate(584.8 508.9) rotate(-90)" fill="#1a1a1a">B16</text>
<text transform="translate(603.7 508.9) rotate(-90)" fill="#1a1a1a">D27</text>
<text transform="translate(622.7 508.9) rotate(-90)" fill="#f01818">A7</text>
<text transform="translate(641.6 508.9) rotate(-90)" fill="#f01818">C23</text>
<text transform="translate(660.6 508.9) rotate(-90)" fill="#f01818">C20</text>
<text transform="translate(679.5 508.9) rotate(-90)" fill="#f01818">C22</text>
<text transform="translate(698.4 508.9) rotate(-90)" fill="#f01818">B12</text>
<text transform="translate(717.4 508.9) rotate(-90)" fill="#f01818">C21</text>
<text transform="translate(736.3 508.9) rotate(-90)" fill="#f01818">B11</text>
<text transform="translate(755.2 508.9) rotate(-90)" fill="#f01818">A10</text>
<text transform="translate(774.2 508.9) rotate(-90)" fill="#f01818">A8</text>
<text transform="translate(793.1 508.9) rotate(-90)" fill="#f01818">PO1</text>
</g>
<text x="-0.8" y="23.8" font-family="'Liberation Sans',sans-serif" font-weight="bold" font-size="29.6" fill="#000">A</text>
<text transform="translate(40.1 366.6) rotate(-90)" font-family="'Liberation Serif','DejaVu Serif',serif" font-size="43.2" fill="#231f20" xml:space="preserve"><tspan>DH</tspan><tspan font-size="25.6" font-style="italic" dy="14.7">Z</tspan><tspan dy="-14.7"> (m</tspan><tspan font-size="25.6" dy="-14.6">2</tspan><tspan dy="14.6"> s</tspan><tspan font-size="25.6" dy="-14.6">-2</tspan><tspan dy="14.6">)</tspan></text><line x1="192.4" y1="62.5" x2="228.4" y2="62.5" stroke="#231f20" stroke-width="2.9"/><text x="231.6" y="75.4" font-family="'Liberation Serif','DejaVu Serif',serif" font-size="43.2" fill="#231f20" xml:space="preserve"><tspan>DH</tspan><tspan font-size="25.6" dy="14.7">60</tspan></text><line x1="194.9" y1="123.2" x2="231.0" y2="123.2" stroke="#a24baa" stroke-width="2.3"/><text x="231.6" y="136.7" font-family="'Liberation Serif','DejaVu Serif',serif" font-size="43.2" fill="#231f20" xml:space="preserve"><tspan>DH</tspan><tspan font-size="25.6" dy="14.7">500</tspan></text>
</g>
<g id="panelB">
<clipPath id="clipB"><rect x="994.8" y="26.5" width="646.1" height="437.3"/></clipPath>
<g clip-path="url(#clipB)" fill="none" stroke-linejoin="miter" stroke-miterlimit="4" stroke-linecap="butt">
<polyline points="995.8,90.1 1014.7,86.3 1033.7,92.3 1052.6,97.8 1071.6,89.3 1090.5,103.6 1109.4,89.6 1128.4,89.6 1147.3,78.4 1166.2,84.3 1185.2,77.2 1204.1,77.5 1223.1,91 1242,69.7 1260.9,50.7 1279.9,78.4 1298.8,81 1317.8,93.6 1336.7,92.1 1355.6,67.8 1374.6,97.4 1393.5,86.3 1412.4,81.3 1431.4,89.9 1450.3,75.5 1469.3,71.3 1488.2,80 1507.1,83.8 1526.1,79.2 1545,80.7 1563.9,99.9 1582.9,90.7 1601.8,87.6 1620.8,106.3 1639.7,146.1" stroke="#262626" stroke-width="0.78"/>
<polyline points="995.8,95.6 1014.7,91.9 1033.7,97.9 1052.6,103.4 1071.6,95.1 1090.5,109.1 1109.4,95.4 1128.4,95.8 1147.3,84.5 1166.2,90.7 1185.2,83.5 1204.1,84.1 1223.1,97.7 1242,76.6 1260.9,57.7 1279.9,85.2 1298.8,88 1317.8,100.6 1336.7,99 1355.6,75.1 1374.6,104.7 1393.5,93.2 1412.4,88.6 1431.4,97.4 1450.3,83 1469.3,79.2 1488.2,87.5 1507.1,91.9 1526.1,87.4 1545,89.2 1563.9,108 1582.9,99.5 1601.8,97 1620.8,117.9 1639.7,156.8" stroke="#262626" stroke-width="0.78"/>
<polyline points="995.8,102.2 1014.7,98.5 1033.7,104.6 1052.6,110.1 1071.6,101.8 1090.5,115.8 1109.4,102.2 1128.4,103.1 1147.3,91.6 1166.2,98.1 1185.2,90.8 1204.1,91.6 1223.1,105.3 1242,84.2 1260.9,65.4 1279.9,92.8 1298.8,95.8 1317.8,108.3 1336.7,106.8 1355.6,83 1374.6,112.7 1393.5,100.9 1412.4,96.5 1431.4,105.4 1450.3,91.1 1469.3,87.4 1488.2,95.6 1507.1,100.2 1526.1,95.7 1545,97.6 1563.9,116.3 1582.9,107.9 1601.8,105.5 1620.8,129.1 1639.7,170.3" stroke="#262626" stroke-width="0.78"/>
<polyline points="995.8,108.2 1014.7,104.6 1033.7,110.7 1052.6,116.2 1071.6,108 1090.5,121.9 1109.4,108.5 1128.4,109.7 1147.3,98.1 1166.2,104.8 1185.2,97.5 1204.1,98.5 1223.1,112.3 1242,91.2 1260.9,72.4 1279.9,99.8 1298.8,103 1317.8,115.4 1336.7,113.8 1355.6,90.3 1374.6,119.9 1393.5,108 1412.4,103.7 1431.4,112.8 1450.3,98.5 1469.3,94.9 1488.2,103 1507.1,107.9 1526.1,103.4 1545,105.4 1563.9,124 1582.9,115.8 1601.8,113.5 1620.8,142.1 1639.7,184.1" stroke="#262626" stroke-width="0.78"/>
<polyline points="995.8,113.7 1014.7,110.2 1033.7,116.3 1052.6,121.8 1071.6,113.7 1090.5,127.4 1109.4,114.3 1128.4,116 1147.3,104.2 1166.2,111.3 1185.2,103.9 1204.1,105.1 1223.1,119.1 1242,98.1 1260.9,79.4 1279.9,106.7 1298.8,110.1 1317.8,122.5 1336.7,120.9 1355.6,97.6 1374.6,127.3 1393.5,115 1412.4,111.1 1431.4,120.4 1450.3,106.2 1469.3,102.9 1488.2,110.6 1507.1,116.2 1526.1,111.7 1545,114.1 1563.9,132.2 1582.9,124.8 1601.8,123.2 1620.8,156.4 1639.7,195.3" stroke="#262626" stroke-width="0.78"/>
<polyline points="995.8,120.4 1014.7,117 1033.7,123.2 1052.6,128.6 1071.6,120.6 1090.5,134.2 1109.4,121.3 1128.4,123.5 1147.3,111.5 1166.2,119 1185.2,111.5 1204.1,112.9 1223.1,126.9 1242,106.1 1260.9,87.4 1279.9,114.6 1298.8,118.3 1317.8,130.6 1336.7,129 1355.6,106 1374.6,135.7 1393.5,123 1412.4,119.4 1431.4,128.9 1450.3,114.8 1469.3,111.7 1488.2,119.1 1507.1,125.2 1526.1,120.7 1545,123.2 1563.9,141.1 1582.9,134.1 1601.8,132.8 1620.8,169.4 1639.7,205" stroke="#262626" stroke-width="0.78"/>
<polyline points="995.8,126.2 1014.7,122.8 1033.7,129.1 1052.6,134.6 1071.6,126.7 1090.5,140.1 1109.4,127.4 1128.4,130.2 1147.3,118 1166.2,125.9 1185.2,118.3 1204.1,120 1223.1,134.2 1242,113.5 1260.9,95 1279.9,122 1298.8,126 1317.8,138.2 1336.7,136.5 1355.6,113.9 1374.6,143.7 1393.5,130.6 1412.4,127.4 1431.4,137.1 1450.3,123.1 1469.3,120.4 1488.2,127.5 1507.1,134.3 1526.1,129.8 1545,132.8 1563.9,150.1 1582.9,144.1 1601.8,143.7 1620.8,183.3 1639.7,213.4" stroke="#262626" stroke-width="0.78"/>
<polyline points="995.8,132.3 1014.7,129.1 1033.7,135.3 1052.6,140.8 1071.6,133 1090.5,146.3 1109.4,133.9 1128.4,137.4 1147.3,124.9 1166.2,133.3 1185.2,125.6 1204.1,127.6 1223.1,142.1 1242,121.5 1260.9,103 1279.9,129.9 1298.8,134.3 1317.8,146.4 1336.7,144.7 1355.6,122.5 1374.6,152.3 1393.5,138.7 1412.4,136 1431.4,146.1 1450.3,132.2 1469.3,129.9 1488.2,136.5 1507.1,144.3 1526.1,139.9 1545,143.4 1563.9,160 1582.9,155.2 1601.8,156 1620.8,195.3 1639.7,222" stroke="#262626" stroke-width="0.78"/>
<polyline points="995.8,140.5 1014.7,137.4 1033.7,143.7 1052.6,149.2 1071.6,141.5 1090.5,154.6 1109.4,142.5 1128.4,146.6 1147.3,133.8 1166.2,142.7 1185.2,134.8 1204.1,137.2 1223.1,151.7 1242,131.3 1260.9,112.9 1279.9,139.7 1298.8,144.4 1317.8,156.4 1336.7,154.6 1355.6,132.8 1374.6,162.6 1393.5,148.6 1412.4,146.2 1431.4,156.5 1450.3,142.7 1469.3,140.7 1488.2,147 1507.1,155.4 1526.1,151 1545,154.7 1563.9,171 1582.9,166.8 1601.8,168 1620.8,209 1639.7,232.2" stroke="#262626" stroke-width="0.78"/>
<polyline points="995.8,146.8 1014.7,143.8 1033.7,150.1 1052.6,155.6 1071.6,148.1 1090.5,161 1109.4,149.2 1128.4,154 1147.3,141 1166.2,150.4 1185.2,142.4 1204.1,145.1 1223.1,159.8 1242,139.5 1260.9,121.3 1279.9,147.8 1298.8,152.9 1317.8,164.9 1336.7,163 1355.6,141.7 1374.6,171.5 1393.5,157 1412.4,155.1 1431.4,165.8 1450.3,152.1 1469.3,150.5 1488.2,156.3 1507.1,165.7 1526.1,161.4 1545,165.7 1563.9,181.3 1582.9,178.3 1601.8,180.7 1620.8,224 1639.7,257.3" stroke="#262626" stroke-width="0.78"/>
<polyline points="995.8,152.5 1014.7,149.6 1033.7,156 1052.6,161.5 1071.6,154.1 1090.5,166.8 1109.4,155.3 1128.4,160.8 1147.3,147.5 1166.2,157.4 1185.2,149.3 1204.1,152.4 1223.1,167.3 1242,147.2 1260.9,129.1 1279.9,155.5 1298.8,161 1317.8,172.8 1336.7,170.9 1355.6,150 1374.6,179.9 1393.5,164.8 1412.4,163.4 1431.4,174.4 1450.3,161 1469.3,159.9 1488.2,165.1 1507.1,175.6 1526.1,171.3 1545,176.2 1563.9,191 1582.9,189.4 1601.8,193.2 1620.8,240 1639.7,278.8" stroke="#262626" stroke-width="0.78"/>
<polyline points="995.8,160.2 1014.7,157.4 1033.7,163.9 1052.6,169.4 1071.6,162.1 1090.5,174.6 1109.4,163.5 1128.4,169.7 1147.3,156.1 1166.2,166.6 1185.2,158.3 1204.1,161.8 1223.1,177 1242,157 1260.9,139 1279.9,165.2 1298.8,171.2 1317.8,182.9 1336.7,180.9 1355.6,160.6 1374.6,190.5 1393.5,174.7 1412.4,174 1431.4,185.3 1450.3,172 1469.3,171.4 1488.2,176.1 1507.1,187.7 1526.1,183.4 1545,188.8 1563.9,203 1582.9,202.5 1601.8,207.6 1620.8,258 1639.7,298.5" stroke="#262626" stroke-width="0.78"/>
<polyline points="995.8,168.4 1014.7,165.7 1033.7,172.3 1052.6,177.8 1071.6,170.7 1090.5,182.9 1109.4,172.2 1128.4,179.4 1147.3,165.4 1166.2,176.6 1185.2,168.2 1204.1,172.1 1223.1,187.6 1242,167.8 1260.9,149.9 1279.9,175.9 1298.8,182.4 1317.8,193.9 1336.7,191.9 1355.6,172.2 1374.6,202.2 1393.5,185.7 1412.4,185.6 1431.4,197.4 1450.3,184.3 1469.3,184.3 1488.2,188.3 1507.1,201.2 1526.1,197 1545,203.1 1563.9,216.4 1582.9,217.6 1601.8,224.3 1620.8,277 1639.7,311.9" stroke="#262626" stroke-width="0.78"/>
<polyline points="995.8,175.5 1014.7,173 1033.7,179.6 1052.6,185.1 1071.6,178.2 1090.5,190.1 1109.4,179.9 1128.4,188.2 1147.3,173.8 1166.2,185.9 1185.2,177.2 1204.1,181.7 1223.1,197.5 1242,178 1260.9,160.4 1279.9,186.1 1298.8,193.2 1317.8,204.6 1336.7,202.5 1355.6,183.6 1374.6,213.7 1393.5,196.2 1412.4,197 1431.4,209.4 1450.3,196.6 1469.3,197.4 1488.2,200.5 1507.1,215.3 1526.1,211.2 1545,218.4 1563.9,230.2 1582.9,233.9 1601.8,243.3 1620.8,296.7 1639.7,322.6" stroke="#262626" stroke-width="0.78"/>
<polyline points="995.8,185.4 1014.7,183.1 1033.7,189.8 1052.6,195.3 1071.6,188.6 1090.5,200.2 1109.4,190.5 1128.4,199.9 1147.3,185.1 1166.2,198.1 1185.2,189.2 1204.1,194.3 1223.1,210.4 1242,191.2 1260.9,173.8 1279.9,199.2 1298.8,207 1317.8,218.2 1336.7,216 1355.6,197.9 1374.6,228 1393.5,209.6 1412.4,211.3 1431.4,224.3 1450.3,211.7 1469.3,213.4 1488.2,215.6 1507.1,232.1 1526.1,228.2 1545,236.3 1563.9,246.9 1582.9,252.8 1601.8,264.4 1620.8,313.3 1639.7,327.1" stroke="#262626" stroke-width="0.78"/>
<polyline points="995.8,195.2 1014.7,193.1 1033.7,199.8 1052.6,205.3 1071.6,198.8 1090.5,210.2 1109.4,201 1128.4,211.5 1147.3,196.3 1166.2,210.1 1185.2,201 1204.1,206.7 1223.1,223.2 1242,204.2 1260.9,186.9 1279.9,212.1 1298.8,220.6 1317.8,231.6 1336.7,229.3 1355.6,212 1374.6,242.2 1393.5,222.8 1412.4,225.4 1431.4,239 1450.3,226.6 1469.3,229.1 1488.2,230.4 1507.1,248.7 1526.1,244.8 1545,253.8 1563.9,263.2 1582.9,271.2 1601.8,285 1620.8,323.5 1639.7,331.6" stroke="#262626" stroke-width="0.78"/>
<polyline points="995.8,203.4 1014.7,201.5 1033.7,208.4 1052.6,213.8 1071.6,207.6 1090.5,218.5 1109.4,210 1128.4,222 1147.3,206.2 1166.2,221.2 1185.2,211.7 1204.1,218.3 1223.1,235.2 1242,216.6 1260.9,199.6 1279.9,224.3 1298.8,233.8 1317.8,244.5 1336.7,242.1 1355.6,226 1374.6,256.3 1393.5,235.5 1412.4,239.3 1431.4,253.8 1450.3,241.8 1469.3,245.5 1488.2,245.5 1507.1,266.4 1526.1,262.7 1545,273.2 1563.9,280.7 1582.9,292.2 1601.8,309.8 1620.8,330.5 1639.7,335.2" stroke="#262626" stroke-width="0.78"/>
<polyline points="995.8,254.4 1014.7,256.5 1033.7,254.4 1052.6,264.4 1071.6,267.4 1090.5,267.4 1109.4,269.1 1128.4,289.3 1147.3,264.8 1166.2,294.3 1185.2,273.9 1204.1,279.4 1223.1,308 1242,278.3 1260.9,258.8 1279.9,295.6 1298.8,305.5 1317.8,315.4 1336.7,319.4 1355.6,296.9 1374.6,325.3 1393.5,329.9 1412.4,309.9 1431.4,321.4 1450.3,308.6 1469.3,334 1488.2,314.8 1507.1,325.5 1526.1,316.9 1545,319.7 1563.9,328.8 1582.9,333.3 1601.8,366.1 1620.8,359.1 1639.7,360.5" stroke="#262626" stroke-width="0.78"/>
<polyline points="995.8,275.7 1014.7,271.7 1033.7,269.1 1052.6,281.2 1071.6,285 1090.5,282.1 1109.4,288.6 1128.4,311.1 1147.3,285 1166.2,311.4 1185.2,286.7 1204.1,298.9 1223.1,323.9 1242,292.3 1260.9,274.9 1279.9,311.7 1298.8,318.7 1317.8,332.4 1336.7,333.1 1355.6,311.2 1374.6,339.1 1393.5,351.2 1412.4,325.3 1431.4,336.3 1450.3,321.4 1469.3,348.7 1488.2,326.5 1507.1,335.1 1526.1,331.6 1545,330.2 1563.9,338 1582.9,342.9 1601.8,371.3 1620.8,366.8 1639.7,368.9" stroke="#262626" stroke-width="0.78"/>
<polyline points="995.8,296.7 1014.7,289.3 1033.7,293.6 1052.6,301.1 1071.6,311.9 1090.5,302.4 1109.4,306.6 1128.4,330.9 1147.3,300.2 1166.2,327.7 1185.2,300.6 1204.1,314.3 1223.1,341.6 1242,311.4 1260.9,290.8 1279.9,328.3 1298.8,333.8 1317.8,345.7 1336.7,348.3 1355.6,322.4 1374.6,350.8 1393.5,365.3 1412.4,340.7 1431.4,350.8 1450.3,335.6 1469.3,366.2 1488.2,337.2 1507.1,346.4 1526.1,344.3 1545,342.2 1563.9,346.8 1582.9,352.1 1601.8,381.6 1620.8,376 1639.7,378.8" stroke="#262626" stroke-width="0.78"/>
<polyline points="995.8,323.5 1014.7,314.4 1033.7,318.5 1052.6,317.8 1071.6,333.5 1090.5,317.5 1109.4,322.6 1128.4,347.7 1147.3,318.3 1166.2,344.2 1185.2,319.5 1204.1,332.7 1223.1,353.8 1242,329.8 1260.9,309.5 1279.9,341.9 1298.8,350.4 1317.8,357.8 1336.7,364 1355.6,337.4 1374.6,361.1 1393.5,384.5 1412.4,355.5 1431.4,364.9 1450.3,350.2 1469.3,383.9 1488.2,350.6 1507.1,355.3 1526.1,359.5 1545,354.9 1563.9,359.1 1582.9,362.6 1601.8,393.9 1620.8,385.4 1639.7,387.2" stroke="#262626" stroke-width="0.78"/>
<polyline points="995.8,343.4 1014.7,340.8 1033.7,344.4 1052.6,333 1071.6,352.9 1090.5,335.9 1109.4,346 1128.4,358.6 1147.3,338.2 1166.2,361.5 1185.2,339.8 1204.1,353.3 1223.1,365.4 1242,348.9 1260.9,327.9 1279.9,358.9 1298.8,369.5 1317.8,370.3 1336.7,384.2 1355.6,354.7 1374.6,375.2 1393.5,395.6 1412.4,378.1 1431.4,378.1 1450.3,366.8 1469.3,399.2 1488.2,366.8 1507.1,364.2 1526.1,375 1545,366.6 1563.9,372.2 1582.9,375.7 1601.8,404.6 1620.8,393.6 1639.7,396.4" stroke="#262626" stroke-width="0.78"/>
<polyline points="995.8,365.3 1014.7,360.6 1033.7,364.4 1052.6,350.3 1071.6,368.9 1090.5,360.6 1109.4,366.2 1128.4,374.1 1147.3,362.4 1166.2,382.5 1185.2,359.5 1204.1,366.1 1223.1,378.4 1242,374.2 1260.9,348.6 1279.9,378.4 1298.8,391.3 1317.8,383.5 1336.7,412 1355.6,373.4 1374.6,390.9 1393.5,408.5 1412.4,405.3 1431.4,402.1 1450.3,383.6 1469.3,412.3 1488.2,381.6 1507.1,378.4 1526.1,393.9 1545,382.3 1563.9,384.4 1582.9,389.4 1601.8,414 1620.8,404.6 1639.7,405.3" stroke="#262626" stroke-width="0.78"/>
<polyline points="995.8,383.1 1014.7,385.2 1033.7,384.5 1052.6,371.5 1071.6,392.3 1090.5,382.6 1109.4,389.2 1128.4,390 1147.3,389.2 1166.2,403.6 1185.2,382.8 1204.1,386.7 1223.1,390.6 1242,394.5 1260.9,366.6 1279.9,404.9 1298.8,418.5 1317.8,399 1336.7,446 1355.6,393.8 1374.6,405.9 1393.5,431.2 1412.4,428.6 1431.4,434.1 1450.3,403.4 1469.3,424.4 1488.2,401.8 1507.1,392.5 1526.1,420.3 1545,399.9 1563.9,399.2 1582.9,414 1601.8,422.9 1620.8,414 1639.7,416.8" stroke="#262626" stroke-width="0.78"/>
<polyline points="995.8,406.4 1014.7,413.7 1033.7,409.9 1052.6,405.9 1071.6,417.3 1090.5,422 1109.4,423.2 1128.4,419.7 1147.3,414.2 1166.2,438.2 1185.2,410.7 1204.1,434.3 1223.1,413.7 1242,424.3 1260.9,400.7 1279.9,443.4 1298.8,449 1317.8,421.8 1336.7,456.1 1355.6,425.4 1374.6,429.3 1393.5,447.2 1412.4,452.9 1431.4,454.5 1450.3,436.3 1469.3,438.9 1488.2,436.3 1507.1,420.3 1526.1,448.5 1545,437.2 1563.9,424.5 1582.9,449.2 1601.8,435.8 1620.8,436.5 1639.7,433.4" stroke="#262626" stroke-width="0.78"/>
<polyline points="995.8,452.2 1014.7,457.4 1033.7,450.5 1052.6,453.9 1071.6,460.5 1090.5,459.1 1109.4,459.6 1128.4,458.2 1147.3,451 1166.2,462.8 1185.2,453.1 1204.1,459.6 1223.1,451.7 1242,458.6 1260.9,454.6 1279.9,460.3 1298.8,459.6 1317.8,460.8 1336.7,461.2 1355.6,451 1374.6,456.8 1393.5,461.9 1412.4,462.5 1431.4,461.9 1450.3,461.6 1469.3,457.7 1488.2,457.4 1507.1,461.2 1526.1,459 1545,459 1563.9,456.6 1582.9,460.4 1601.8,458.1 1620.8,453.4 1639.7,456.9" stroke="#262626" stroke-width="0.78"/>
<polyline points="995.8,235.8 1014.7,238.9 1033.7,242 1052.6,250.1 1071.6,251 1090.5,251.8 1109.4,250.6 1128.4,269.1 1147.3,246.6 1166.2,276.8 1185.2,258.5 1204.1,261.5 1223.1,286.5 1242,258.9 1260.9,242.8 1279.9,277.9 1298.8,287.4 1317.8,296 1336.7,297.5 1355.6,279.6 1374.6,308.7 1393.5,292.9 1412.4,291.2 1431.4,305.4 1450.3,290.9 1469.3,309.5 1488.2,300.1 1507.1,312.8 1526.1,301.8 1545,311.2 1563.9,319 1582.9,324.6 1601.8,359.5 1620.8,349.2 1639.7,351.6" stroke="#EDAE1F" stroke-width="2.1"/>
<polyline points="995.8,229.7 1014.7,232 1033.7,236.3 1052.6,241.8 1071.6,242 1090.5,245.4 1109.4,243.2 1128.4,264.8 1147.3,238 1166.2,266 1185.2,250.2 1204.1,251.1 1223.1,276.2 1242,253.7 1260.9,235 1279.9,269.6 1298.8,277.9 1317.8,287 1336.7,289.2 1355.6,271.8 1374.6,300.9 1393.5,281.8 1412.4,282.9 1431.4,298.2 1450.3,283.4 1469.3,300.7 1488.2,291.7 1507.1,306.1 1526.1,297.2 1545,306 1563.9,316.4 1582.9,319.7 1601.8,354.9 1620.8,346.1 1639.7,348.3" stroke="#7D2E8F" stroke-width="2.1"/>
<polyline points="995.8,222.8 1014.7,223.7 1033.7,229.7 1052.6,233.7 1071.6,234.2 1090.5,237.7 1109.4,235.1 1128.4,256.7 1147.3,230.2 1166.2,254.7 1185.2,242.1 1204.1,244.2 1223.1,267.5 1242,245.9 1260.9,226.1 1279.9,260.3 1298.8,268.4 1317.8,276.7 1336.7,278.4 1355.6,263 1374.6,290.9 1393.5,273.8 1412.4,273.4 1431.4,290.4 1450.3,275.1 1469.3,291.7 1488.2,284.6 1507.1,297.7 1526.1,289.4 1545,299.3 1563.9,309.1 1582.9,315 1601.8,347.6 1620.8,343.2 1639.7,346" stroke="#6BB132" stroke-width="2.1"/>
<polyline points="995.8,213 1014.7,211.7 1033.7,219 1052.6,222.5 1071.6,218.5 1090.5,226.4 1109.4,222.5 1128.4,240.9 1147.3,216.8 1166.2,236.1 1185.2,226.9 1204.1,230.7 1223.1,250.2 1242,231.2 1260.9,213.5 1279.9,241.6 1298.8,250.2 1317.8,258.9 1336.7,260.3 1355.6,243.8 1374.6,273.4 1393.5,248.8 1412.4,256 1431.4,274.3 1450.3,258.5 1469.3,266 1488.2,266.3 1507.1,280.2 1526.1,277.4 1545,285.2 1563.9,297.2 1582.9,306.3 1601.8,328.5 1620.8,337.6 1639.7,340.4" stroke="#A2142F" stroke-width="2.1"/>
<polyline points="995.8,217.3 1014.7,217.3 1033.7,225 1052.6,228.2 1071.6,226.3 1090.5,232 1109.4,229 1128.4,250.1 1147.3,222.8 1166.2,245.4 1185.2,234.7 1204.1,236.4 1223.1,258.9 1242,239 1260.9,219.5 1279.9,250.8 1298.8,258.9 1317.8,267.5 1336.7,269.3 1355.6,252.6 1374.6,282.9 1393.5,262.6 1412.4,264.3 1431.4,282.6 1450.3,266.8 1469.3,280.4 1488.2,274.6 1507.1,289 1526.1,283.8 1545,291.9 1563.9,303.5 1582.9,311.5 1601.8,338 1620.8,340.1 1639.7,343.2" stroke="#231f20" stroke-width="3.1"/>
</g>
<rect x="995.8" y="27" width="643.9" height="436.3" fill="none" stroke="#3a3a3a" stroke-width="1.6"/>
<path d="M995.8 463.3h7.3M1639.7 463.3h-7.3M995.8 395.3h7.3M1639.7 395.3h-7.3M995.8 327.2h7.3M1639.7 327.2h-7.3M995.8 259.2h7.3M1639.7 259.2h-7.3M995.8 191.1h7.3M1639.7 191.1h-7.3M995.8 123.1h7.3M1639.7 123.1h-7.3M995.8 55h7.3M1639.7 55h-7.3M995.8 463.3v-7.3M995.8 27v7.3M1639.7 463.3v-7.3M1639.7 27v7.3" stroke="#3a3a3a" stroke-width="1.3" fill="none"/>
<g font-family="'Liberation Serif',serif" font-size="40.5" fill="#231f20" text-anchor="end">
<text transform="translate(983.3 478.4) scale(0.975 1.045)">0</text>
<text transform="translate(979.7 410.4) scale(0.975 1.045)">0.5</text>
<text transform="translate(979.7 342.3) scale(0.975 1.045)">1.0</text>
<text transform="translate(979.7 274.3) scale(0.975 1.045)">1.5</text>
<text transform="translate(979.7 206.2) scale(0.975 1.045)">2.0</text>
<text transform="translate(979.7 138.2) scale(0.975 1.045)">2.5</text>
<text transform="translate(979.7 70.1) scale(0.975 1.045)">3.0</text>
</g>
<g font-family="'Liberation Serif',serif" font-size="20.5" text-anchor="start">
<text transform="translate(1001.1 508.9) rotate(-90)" fill="#1f5fbf">H46</text>
<text transform="translate(1020 508.9) rotate(-90)" fill="#1f5fbf">F38</text>
<text transform="translate(1039 508.9) rotate(-90)" fill="#1f5fbf">F37</text>
<text transform="translate(1057.9 508.9) rotate(-90)" fill="#1f5fbf">TS1</text>
<text transform="translate(1076.9 508.9) rotate(-90)" fill="#1f5fbf">F39</text>
<text transform="translate(1095.8 508.9) rotate(-90)" fill="#1f5fbf">B18</text>
<text transform="translate(1114.7 508.9) rotate(-90)" fill="#1f5fbf">G44</text>
<text transform="translate(1133.7 508.9) rotate(-90)" fill="#1f5fbf">H48</text>
<text transform="translate(1152.6 508.9) rotate(-90)" fill="#1f5fbf">A5</text>
<text transform="translate(1171.5 508.9) rotate(-90)" fill="#1a1a1a">D29</text>
<text transform="translate(1190.5 508.9) rotate(-90)" fill="#1a1a1a">A6</text>
<text transform="translate(1209.4 508.9) rotate(-90)" fill="#1a1a1a">A2</text>
<text transform="translate(1228.4 508.9) rotate(-90)" fill="#1a1a1a">H47</text>
<text transform="translate(1247.3 508.9) rotate(-90)" fill="#1a1a1a">B14</text>
<text transform="translate(1266.2 508.9) rotate(-90)" fill="#1a1a1a">A3</text>
<text transform="translate(1285.2 508.9) rotate(-90)" fill="#1a1a1a">D28</text>
<text transform="translate(1304.1 508.9) rotate(-90)" fill="#1a1a1a">D30</text>
<text transform="translate(1323 508.9) rotate(-90)" fill="#1a1a1a">F36</text>
<text transform="translate(1342 508.9) rotate(-90)" fill="#1a1a1a">B13</text>
<text transform="translate(1360.9 508.9) rotate(-90)" fill="#1a1a1a">A4</text>
<text transform="translate(1379.9 508.9) rotate(-90)" fill="#1a1a1a">D26</text>
<text transform="translate(1398.8 508.9) rotate(-90)" fill="#1a1a1a">B17</text>
<text transform="translate(1417.7 508.9) rotate(-90)" fill="#1a1a1a">B15</text>
<text transform="translate(1436.7 508.9) rotate(-90)" fill="#1a1a1a">B16</text>
<text transform="translate(1455.6 508.9) rotate(-90)" fill="#1a1a1a">D27</text>
<text transform="translate(1474.6 508.9) rotate(-90)" fill="#f01818">A7</text>
<text transform="translate(1493.5 508.9) rotate(-90)" fill="#f01818">C23</text>
<text transform="translate(1512.4 508.9) rotate(-90)" fill="#f01818">C20</text>
<text transform="translate(1531.4 508.9) rotate(-90)" fill="#f01818">C22</text>
<text transform="translate(1550.3 508.9) rotate(-90)" fill="#f01818">B12</text>
<text transform="translate(1569.2 508.9) rotate(-90)" fill="#f01818">C21</text>
<text transform="translate(1588.2 508.9) rotate(-90)" fill="#f01818">B11</text>
<text transform="translate(1607.1 508.9) rotate(-90)" fill="#f01818">A10</text>
<text transform="translate(1626.1 508.9) rotate(-90)" fill="#f01818">A8</text>
<text transform="translate(1645 508.9) rotate(-90)" fill="#f01818">PO1</text>
</g>
<text x="857.0" y="23.8" font-family="'Liberation Sans',sans-serif" font-weight="bold" font-size="29.6" fill="#000">B</text>
<text transform="translate(887.7 361.6) rotate(-90)" font-family="'Liberation Serif','DejaVu Serif',serif" font-size="43.2" fill="#231f20" xml:space="preserve"><tspan>B-V</tspan><tspan font-size="25.6" dy="14.7">int-z</tspan><tspan dy="-14.7"> (m s</tspan><tspan font-size="25.6" dy="-14.6">-1</tspan><tspan dy="14.6">)</tspan></text><line x1="1417.8" y1="47.0" x2="1454.6" y2="47.0" stroke="#231f20" stroke-width="2.9"/><text x="1460.1" y="62.0" font-family="'Liberation Serif','DejaVu Serif',serif" font-size="43.2" fill="#231f20" xml:space="preserve"><tspan>B-V</tspan><tspan font-size="25.6" dy="14.7">int-120</tspan></text>
</g>
<g id="panelC">
<clipPath id="clipC"><rect x="143" y="553.8" width="646" height="437.8"/></clipPath>
<g clip-path="url(#clipC)" fill="none" stroke-linejoin="miter" stroke-miterlimit="4" stroke-linecap="butt">
<polyline points="144,678.9 162.9,628.2 181.9,649 200.8,666.1 219.7,637.3 238.7,629.9 257.6,609.6 276.5,640.3 295.5,637.8 314.4,594.1 333.4,642.3 352.3,554.2 371.2,674.4 390.2,606.9 409.1,602.1 428,567 447,587.4 465.9,681.4 484.8,573.8 503.8,608.6 522.7,660.1 541.6,573 560.6,591.6 579.5,592.4 598.4,603.6 617.4,599.4 636.3,600.2 655.3,653.1 674.2,589.6 693.1,593.2 712.1,644 731,581.3 749.9,615.2 768.9,583.6 787.8,596.6" stroke="#262626" stroke-width="0.78"/>
<polyline points="144,732.7 162.9,719.4 181.9,711.7 200.8,772.4 219.7,712.2 238.7,757.1 257.6,715 276.5,715.5 295.5,717.2 314.4,701.9 333.4,723.5 352.3,721.4 371.2,716.9 390.2,690.2 409.1,705.9 428,698.4 447,691.1 465.9,730.5 484.8,644.8 503.8,698.1 522.7,712.5 541.6,616.5 560.6,658.1 579.5,678.1 598.4,694.4 617.4,622.4 636.3,701.7 655.3,715 674.2,682.6 693.1,699.4 712.1,699.7 731,701.4 749.9,631 768.9,625.7 787.8,626.8" stroke="#262626" stroke-width="0.78"/>
<polyline points="144,785.1 162.9,787.4 181.9,785.4 200.8,804 219.7,749.3 238.7,815 257.6,776.3 276.5,740.5 295.5,779.6 314.4,748.3 333.4,771.3 352.3,756.3 371.2,735.2 390.2,752.6 409.1,754.6 428,741.6 447,742.6 465.9,750.5 484.8,722.2 503.8,739.7 522.7,738.8 541.6,636.2 560.6,735 579.5,727.2 598.4,731.3 617.4,647.3 636.3,732.3 655.3,733 674.2,720.5 693.1,723.3 712.1,722.2 731,723.3 749.9,642.3 768.9,636.5 787.8,637.3" stroke="#262626" stroke-width="0.78"/>
<polyline points="144,850.6 162.9,847.1 181.9,863.7 200.8,848.2 219.7,825.2 238.7,861.3 257.6,813.1 276.5,782 295.5,811.8 314.4,782 333.4,805.4 352.3,792.9 371.2,764.6 390.2,792.9 409.1,793.2 428,772.6 447,775.1 465.9,769.9 484.8,751.3 503.8,761.6 522.7,754.3 541.6,671.4 560.6,763.4 579.5,751.8 598.4,758 617.4,686.1 636.3,749.1 655.3,744.5 674.2,744.1 693.1,742.9 712.1,737.6 731,735.5 749.9,658.4 768.9,647.3 787.8,647.3" stroke="#262626" stroke-width="0.78"/>
<polyline points="144,938.5 162.9,932.5 181.9,931.8 200.8,931 219.7,929 238.7,929.5 257.6,918.6 276.5,916.6 295.5,916.6 314.4,916.6 333.4,903.2 352.3,906.8 371.2,902.8 390.2,909.6 409.1,900.6 428,909 447,912.3 465.9,906.8 484.8,900.5 503.8,896.6 522.7,903.5 541.6,908.7 560.6,898.1 579.5,906.1 598.4,899.9 617.4,885.5 636.3,890.2 655.3,883.6 674.2,873.5 693.1,871.1 712.1,873.3 731,848.7 749.9,839.7 768.9,711.8 787.8,665.2" stroke="#262626" stroke-width="0.78"/>
<polyline points="144,944.9 162.9,936.4 181.9,939.4 200.8,937.4 219.7,934.5 238.7,936.2 257.6,925.6 276.5,924.4 295.5,925.8 314.4,926.7 333.4,911.6 352.3,915.6 371.2,911.7 390.2,918.7 409.1,910.4 428,917.9 447,921.3 465.9,916.7 484.8,909.4 503.8,907.4 522.7,912.9 541.6,918 560.6,908.6 579.5,915.7 598.4,909.9 617.4,897.3 636.3,901.2 655.3,899.1 674.2,892 693.1,892 712.1,887.7 731,875.7 749.9,861 768.9,755 787.8,673.3" stroke="#262626" stroke-width="0.78"/>
<polyline points="144,950.6 162.9,943.4 181.9,944.3 200.8,943.7 219.7,942.2 238.7,943.4 257.6,931.6 276.5,932.5 295.5,933.3 314.4,934.5 333.4,919.3 352.3,923.7 371.2,919.9 390.2,927.1 409.1,919.5 428,926.1 447,929.6 465.9,925.9 484.8,917.5 503.8,917.4 522.7,921.5 541.6,926.6 560.6,918.2 579.5,924.5 598.4,919.1 617.4,908.2 636.3,911.3 655.3,910.5 674.2,906.7 693.1,902.4 712.1,893.1 731,891.5 749.9,879.2 768.9,790 787.8,737.7" stroke="#262626" stroke-width="0.78"/>
<polyline points="144,954.7 162.9,948 181.9,948.9 200.8,948.7 219.7,948 238.7,949.5 257.6,935.6 276.5,936.4 295.5,939.7 314.4,939.7 333.4,926.4 352.3,931.1 371.2,927.5 390.2,934.7 409.1,927.8 428,933.6 447,937.2 465.9,934.2 484.8,924.9 503.8,926.4 522.7,929.4 541.6,934.4 560.6,927 579.5,932.6 598.4,927.5 617.4,918.2 636.3,920.5 655.3,919.2 674.2,916 693.1,911.6 712.1,898.6 731,901.3 749.9,895.3 768.9,825.9 787.8,793.5" stroke="#262626" stroke-width="0.78"/>
<polyline points="144,958.4 162.9,952.2 181.9,953 200.8,952.4 219.7,951.2 238.7,953.5 257.6,943.1 276.5,942.6 295.5,946.6 314.4,945.2 333.4,932.8 352.3,937.7 371.2,934.3 390.2,941.7 409.1,935.3 428,940.3 447,944 465.9,941.8 484.8,931.6 503.8,934.6 522.7,936.5 541.6,941.4 560.6,935 579.5,939.9 598.4,935.1 617.4,927.2 636.3,928.9 655.3,927.9 674.2,924.7 693.1,923.6 712.1,908.3 731,911.1 749.9,906.2 768.9,847.9 787.8,818.5" stroke="#262626" stroke-width="0.78"/>
<polyline points="144,962.8 162.9,957 181.9,957.6 200.8,956.4 219.7,954.7 238.7,955.8 257.6,946.6 276.5,949.1 295.5,951 314.4,949.5 333.4,938.5 352.3,943.7 371.2,940.3 390.2,947.9 409.1,942 428,946.4 447,950.1 465.9,948.5 484.8,937.7 503.8,942 522.7,942.8 541.6,947.8 560.6,942.1 579.5,946.5 598.4,941.9 617.4,935.3 636.3,936.4 655.3,936.1 674.2,931.2 693.1,932.3 712.1,920.3 731,921.9 749.9,913.8 768.9,865.6 787.8,840.6" stroke="#262626" stroke-width="0.78"/>
<polyline points="144,966 162.9,961.6 181.9,961.6 200.8,960.5 219.7,958.7 238.7,959.3 257.6,949.5 276.5,953 295.5,954.7 314.4,953 333.4,943.5 352.3,949 371.2,945.7 390.2,953.4 409.1,947.9 428,951.7 447,955.6 465.9,954.5 484.8,943 503.8,948.4 522.7,948.4 541.6,953.4 560.6,948.4 579.5,952.3 598.4,947.9 617.4,942.4 636.3,943 655.3,942.2 674.2,936.6 693.1,939.3 712.1,928.5 731,929 749.9,921.4 768.9,881.8 787.8,858.2" stroke="#262626" stroke-width="0.78"/>
<polyline points="144,979.2 162.9,974.9 181.9,974.3 200.8,972.3 219.7,971 238.7,975.2 257.6,965.3 276.5,967.7 295.5,968 314.4,966.8 333.4,972.5 352.3,964.9 371.2,964.9 390.2,967.6 409.1,964.9 428,967.6 447,970.3 465.9,967 484.8,960.8 503.8,964.9 522.7,967 541.6,967.6 560.6,966.5 579.5,966 598.4,963.8 617.4,959.9 636.3,961.6 655.3,959.8 674.2,958.1 693.1,958.6 712.1,951.4 731,951.4 749.9,946.2 768.9,931.2 787.8,907.4" stroke="#262626" stroke-width="0.78"/>
<polyline points="144,981.5 162.9,977.5 181.9,976.7 200.8,974.8 219.7,973.2 238.7,977.5 257.6,968.2 276.5,969.9 295.5,970.7 314.4,969 333.4,976.2 352.3,967.1 371.2,967.4 390.2,969.8 409.1,967 428,970.1 447,972.4 465.9,969.6 484.8,963.4 503.8,967.3 522.7,969.7 541.6,970 560.6,969.2 579.5,969 598.4,966.2 617.4,962.8 636.3,964.4 655.3,962.6 674.2,961.3 693.1,961.3 712.1,955 731,954.5 749.9,950.6 768.9,938 787.8,911.8" stroke="#262626" stroke-width="0.78"/>
<polyline points="144,983.6 162.9,979.9 181.9,978.9 200.8,977.1 219.7,975.2 238.7,979.7 257.6,970.9 276.5,971.9 295.5,973.2 314.4,970.9 333.4,979.5 352.3,969.2 371.2,969.7 390.2,971.8 409.1,969 428,972.3 447,974.3 465.9,971.9 484.8,965.9 503.8,969.5 522.7,972.1 541.6,972.2 560.6,971.8 579.5,971.8 598.4,968.4 617.4,965.5 636.3,967 655.3,965.2 674.2,964.3 693.1,963.8 712.1,958.4 731,957.4 749.9,954.7 768.9,944.1 787.8,915.9" stroke="#262626" stroke-width="0.78"/>
<polyline points="144,985.5 162.9,982.1 181.9,980.9 200.8,979.1 219.7,977 238.7,981.6 257.6,973.3 276.5,973.7 295.5,975.5 314.4,972.7 333.4,982.6 352.3,971.2 371.2,971.8 390.2,973.6 409.1,970.8 428,974.4 447,976 465.9,974 484.8,968.1 503.8,971.5 522.7,974.3 541.6,974.2 560.6,974.1 579.5,974.3 598.4,970.4 617.4,968 636.3,969.3 655.3,967.6 674.2,967 693.1,966 712.1,961.5 731,960 749.9,958.4 768.9,947.7 787.8,919.6" stroke="#262626" stroke-width="0.78"/>
<polyline points="144,987.3 162.9,984.1 181.9,982.7 200.8,981 219.7,978.7 238.7,983.4 257.6,975.5 276.5,975.4 295.5,977.6 314.4,974.3 333.4,985.4 352.3,972.9 371.2,973.7 390.2,975.2 409.1,972.5 428,976.3 447,977.6 465.9,975.9 484.8,970.2 503.8,973.3 522.7,976.3 541.6,976 560.6,976.1 579.5,976.6 598.4,972.2 617.4,970.2 636.3,971.4 655.3,969.7 674.2,969.5 693.1,968.1 712.1,964.2 731,962.4 749.9,961.7 768.9,957 787.8,923" stroke="#262626" stroke-width="0.78"/>
<polyline points="144,988.8 162.9,985.9 181.9,984.4 200.8,982.7 219.7,980.1 238.7,985 257.6,977.5 276.5,976.8 295.5,979.5 314.4,975.7 333.4,987.9 352.3,974.4 371.2,975.4 390.2,976.7 409.1,974 428,977.9 447,979 465.9,977.6 484.8,972 503.8,974.9 522.7,978.1 541.6,977.7 560.6,978 579.5,978.7 598.4,973.8 617.4,972.2 636.3,973.3 655.3,971.7 674.2,971.6 693.1,969.9 712.1,966.7 731,964.5 749.9,964.7 768.9,960.7 787.8,926" stroke="#262626" stroke-width="0.78"/>
<polyline points="144,990.2 162.9,987.4 181.9,985.8 200.8,984.2 219.7,981.4 238.7,986.4 257.6,979.2 276.5,978.1 295.5,981.1 314.4,977 333.4,990 352.3,975.8 371.2,976.9 390.2,978 409.1,975.3 428,979.4 447,980.2 465.9,979.1 484.8,973.6 503.8,976.4 522.7,979.6 541.6,979.1 560.6,979.6 579.5,980.5 598.4,975.3 617.4,973.9 636.3,974.9 655.3,973.3 674.2,973.6 693.1,971.5 712.1,968.9 731,966.3 749.9,967.4 768.9,964.3 787.8,928.6" stroke="#262626" stroke-width="0.78"/>
<polyline points="144,969.4 162.9,965.6 181.9,966.2 200.8,964.2 219.7,962.9 238.7,965.1 257.6,953.9 276.5,957.2 295.5,957.9 314.4,957.5 333.4,950.1 352.3,952.3 371.2,950.7 390.2,957.8 409.1,952.3 428,958.1 447,958.6 465.9,957.8 484.8,946.3 503.8,952.3 522.7,954.5 541.6,956.2 560.6,952.9 579.5,955.9 598.4,951.8 617.4,946.8 636.3,948 655.3,945.9 674.2,942.4 693.1,944.7 712.1,935.9 731,934.9 749.9,928.2 768.9,897.1 787.8,879.6" stroke="#A1132E" stroke-width="2.05"/>
<polyline points="144,970.1 162.9,966.3 181.9,966.7 200.8,964.7 219.7,963.4 238.7,965.8 257.6,954.7 276.5,957.9 295.5,958.6 314.4,958.1 333.4,951.9 352.3,953.1 371.2,951.7 390.2,958.5 409.1,953.2 428,958.8 447,959.5 465.9,958.4 484.8,947.4 503.8,953.3 522.7,955.5 541.6,957 560.6,953.9 579.5,956.7 598.4,952.7 617.4,947.9 636.3,949 655.3,947 674.2,943.7 693.1,945.8 712.1,937.2 731,936.2 749.9,929.5 768.9,899.2 787.8,882" stroke="#0072BD" stroke-width="2.05"/>
<polyline points="144,970.8 162.9,967 181.9,967.3 200.8,965.3 219.7,964 238.7,966.6 257.6,955.6 276.5,958.7 295.5,959.3 314.4,958.7 333.4,953.7 352.3,953.9 371.2,952.6 390.2,959.3 409.1,954.1 428,959.5 447,960.4 465.9,959 484.8,948.5 503.8,954.3 522.7,956.5 541.6,957.9 560.6,955 579.5,957.4 598.4,953.6 617.4,948.9 636.3,950.1 655.3,948.1 674.2,945 693.1,947 712.1,938.5 731,937.5 749.9,930.9 768.9,901.2 787.8,884.4" stroke="#DB5218" stroke-width="2.05"/>
<polyline points="144,971.5 162.9,967.7 181.9,967.9 200.8,965.9 219.7,964.5 238.7,967.3 257.6,956.4 276.5,959.5 295.5,960 314.4,959.4 333.4,955.5 352.3,954.8 371.2,953.6 390.2,960.1 409.1,955 428,960.1 447,961.3 465.9,959.6 484.8,949.7 503.8,955.2 522.7,957.4 541.6,958.7 560.6,956.1 579.5,958.1 598.4,954.5 617.4,949.9 636.3,951.2 655.3,949.2 674.2,946.3 693.1,948.1 712.1,939.8 731,938.9 749.9,932.3 768.9,903.3 787.8,886.8" stroke="#EDAE1F" stroke-width="2.05"/>
<polyline points="144,972.2 162.9,968.4 181.9,968.5 200.8,966.5 219.7,965.1 238.7,968.1 257.6,957.2 276.5,960.3 295.5,960.7 314.4,960 333.4,957.3 352.3,955.6 371.2,954.6 390.2,960.8 409.1,955.9 428,960.8 447,962.2 465.9,960.2 484.8,950.8 503.8,956.2 522.7,958.4 541.6,959.6 560.6,957.2 579.5,958.8 598.4,955.5 617.4,951 636.3,952.2 655.3,950.3 674.2,947.6 693.1,949.2 712.1,941 731,940.2 749.9,933.7 768.9,905.4 787.8,889.2" stroke="#7D2E8F" stroke-width="2.05"/>
<polyline points="144,972.9 162.9,969.1 181.9,969.1 200.8,967 219.7,965.7 238.7,968.8 257.6,958 276.5,961.1 295.5,961.4 314.4,960.6 333.4,959.1 352.3,956.4 371.2,955.6 390.2,961.6 409.1,956.8 428,961.5 447,963.1 465.9,960.8 484.8,951.9 503.8,957.2 522.7,959.4 541.6,960.5 560.6,958.3 579.5,959.5 598.4,956.4 617.4,952 636.3,953.3 655.3,951.4 674.2,948.9 693.1,950.3 712.1,942.3 731,941.5 749.9,935.1 768.9,907.4 787.8,891.6" stroke="#6BB132" stroke-width="2.05"/>
<polyline points="144,973.6 162.9,969.8 181.9,969.7 200.8,967.6 219.7,966.2 238.7,969.6 257.6,958.9 276.5,961.8 295.5,962.1 314.4,961.3 333.4,960.9 352.3,957.2 371.2,956.5 390.2,962.3 409.1,957.7 428,962.1 447,963.9 465.9,961.3 484.8,953 503.8,958.2 522.7,960.4 541.6,961.3 560.6,959.4 579.5,960.3 598.4,957.3 617.4,953 636.3,954.4 655.3,952.5 674.2,950.2 693.1,951.4 712.1,943.6 731,942.9 749.9,936.4 768.9,909.5 787.8,894" stroke="#2BB7EC" stroke-width="2.05"/>
<polyline points="144,974.3 162.9,970.5 181.9,970.3 200.8,968.2 219.7,966.8 238.7,970.3 257.6,959.7 276.5,962.6 295.5,962.8 314.4,961.9 333.4,962.7 352.3,958 371.2,957.5 390.2,963.1 409.1,958.6 428,962.8 447,964.8 465.9,961.9 484.8,954.2 503.8,959.1 522.7,961.3 541.6,962.2 560.6,960.5 579.5,961 598.4,958.2 617.4,954.1 636.3,955.4 655.3,953.6 674.2,951.5 693.1,952.6 712.1,944.9 731,944.2 749.9,937.8 768.9,911.5 787.8,896.5" stroke="#A1132E" stroke-width="2.05"/>
<polyline points="144,975 162.9,971.2 181.9,970.9 200.8,968.7 219.7,967.3 238.7,971.1 257.6,960.5 276.5,963.4 295.5,963.5 314.4,962.5 333.4,964.5 352.3,958.8 371.2,958.5 390.2,963.8 409.1,959.5 428,963.5 447,965.7 465.9,962.5 484.8,955.3 503.8,960.1 522.7,962.3 541.6,963.1 560.6,961.5 579.5,961.7 598.4,959.1 617.4,955.1 636.3,956.5 655.3,954.7 674.2,952.8 693.1,953.7 712.1,946.1 731,945.5 749.9,939.2 768.9,913.6 787.8,898.9" stroke="#0072BD" stroke-width="2.05"/>
<polyline points="144,975.7 162.9,971.9 181.9,971.5 200.8,969.3 219.7,967.9 238.7,971.9 257.6,961.4 276.5,964.2 295.5,964.2 314.4,963.2 333.4,966.3 352.3,959.6 371.2,959.4 390.2,964.6 409.1,960.4 428,964.1 447,966.6 465.9,963.1 484.8,956.4 503.8,961.1 522.7,963.3 541.6,963.9 560.6,962.6 579.5,962.4 598.4,960.1 617.4,956.1 636.3,957.6 655.3,955.8 674.2,954.1 693.1,954.8 712.1,947.4 731,946.8 749.9,940.6 768.9,915.6 787.8,901.3" stroke="#DB5218" stroke-width="2.05"/>
<polyline points="144,976.4 162.9,972.6 181.9,972.1 200.8,969.9 219.7,968.5 238.7,972.6 257.6,962.2 276.5,965 295.5,965 314.4,963.8 333.4,968.1 352.3,960.4 371.2,960.4 390.2,965.4 409.1,961.3 428,964.8 447,967.5 465.9,963.7 484.8,957.5 503.8,962.1 522.7,964.3 541.6,964.8 560.6,963.7 579.5,963.2 598.4,961 617.4,957.1 636.3,958.6 655.3,956.9 674.2,955.4 693.1,955.9 712.1,948.7 731,948.2 749.9,942 768.9,917.7 787.8,903.7" stroke="#EDAE1F" stroke-width="2.05"/>
<polyline points="144,935.8 162.9,929.7 181.9,928.1 200.8,927.6 219.7,925.9 238.7,925.9 257.6,913.3 276.5,909.5 295.5,911.1 314.4,907.1 333.4,899.7 352.3,900.3 371.2,895.9 390.2,904.1 409.1,894.8 428,901.9 447,904.9 465.9,900.8 484.8,893.9 503.8,892.1 522.7,894.5 541.6,907.1 560.6,891 579.5,898.4 598.4,892.9 617.4,875.9 636.3,881.3 655.3,872.3 674.2,858.5 693.1,851.2 712.1,852.9 731,833.3 749.9,822.3 768.9,687.4 787.8,664.2" stroke="#2BB7EC" stroke-width="2.05"/>
<polyline points="144,933.6 162.9,927.6 181.9,925.9 200.8,925.4 219.7,923.2 238.7,924.3 257.6,910.6 276.5,906.2 295.5,908.9 314.4,904.1 333.4,897.6 352.3,897.9 371.2,892.6 390.2,900.5 409.1,891 428,899.2 447,902.7 465.9,897.6 484.8,890.6 503.8,888.2 522.7,890.2 541.6,904.4 560.6,887.1 579.5,891.8 598.4,889.3 617.4,869.3 636.3,876.4 655.3,864.3 674.2,848.7 693.1,842.9 712.1,843.6 731,825.1 749.9,812.1 768.9,679.5 787.8,663.8" stroke="#6BB132" stroke-width="2.05"/>
<polyline points="144,931.4 162.9,925.9 181.9,924.3 200.8,923.5 219.7,920.7 238.7,922.4 257.6,907.9 276.5,903.8 295.5,907.1 314.4,900.2 333.4,894.8 352.3,895.7 371.2,889.9 390.2,897.6 409.1,887.7 428,896.5 447,898.1 465.9,892.1 484.8,886.1 503.8,883.8 522.7,885.8 541.6,900 560.6,883.6 579.5,885.8 598.4,883.6 617.4,862.8 636.3,871.1 655.3,855.6 674.2,840.4 693.1,834.4 712.1,834.9 731,816.4 749.9,801.1 768.9,671.8 787.8,663.6" stroke="#7D2E8F" stroke-width="2.05"/>
<polyline points="144,929 162.9,924.3 181.9,922.4 200.8,921.5 219.7,918.3 238.7,919.9 257.6,903.8 276.5,900.7 295.5,904 314.4,896.1 333.4,893.2 352.3,892.9 371.2,887.7 390.2,894.8 409.1,882.8 428,893.2 447,893.5 465.9,888.3 484.8,880 503.8,880.3 522.7,880.8 541.6,895.6 560.6,879.7 579.5,879.7 598.4,877.6 617.4,855.7 636.3,865.4 655.3,844.7 674.2,832.8 693.1,824.6 712.1,824.1 731,807.7 749.9,787.4 768.9,666.8 787.8,663.4" stroke="#EDAE1F" stroke-width="2.05"/>
<polyline points="144,927 162.9,922.4 181.9,920.4 200.8,919.3 219.7,915.5 238.7,917.7 257.6,900.7 276.5,898.5 295.5,901.6 314.4,893.1 333.4,890.4 352.3,888.5 371.2,883.9 390.2,889.1 409.1,878.6 428,889.6 447,885 465.9,882.8 484.8,875 503.8,875.7 522.7,873.7 541.6,890.7 560.6,874.8 579.5,871.3 598.4,871.5 617.4,846.1 636.3,857.4 655.3,834.9 674.2,825.1 693.1,815.3 712.1,813.7 731,800.1 749.9,774.6 768.9,665.3 787.8,663.1" stroke="#DB5218" stroke-width="2.05"/>
<polyline points="144,924.8 162.9,918.3 181.9,917.4 200.8,916.3 219.7,911.9 238.7,915.8 257.6,895.5 276.5,895.3 295.5,899.1 314.4,889.3 333.4,883.3 352.3,880.4 371.2,877.9 390.2,885 409.1,872.9 428,881.9 447,878.4 465.9,876.4 484.8,868.9 503.8,867.7 522.7,865 541.6,885.8 560.6,862.6 579.5,863.9 598.4,865 617.4,837.6 636.3,852.4 655.3,826.4 674.2,818.1 693.1,805 712.1,803.4 731,794.1 749.9,765 768.9,663.8 787.8,662.8" stroke="#0072BD" stroke-width="2.05"/>
<polyline points="144,922.1 162.9,913.9 181.9,913.3 200.8,912.2 219.7,908.2 238.7,914.4 257.6,893.9 276.5,890.3 295.5,896.9 314.4,886.8 333.4,881.7 352.3,878.9 371.2,876 390.2,881.7 409.1,868.3 428,879.5 447,875.3 465.9,872.4 484.8,862.2 503.8,861.1 522.7,856 541.6,877.6 560.6,863.5 579.5,849.6 598.4,853.5 617.4,834.3 636.3,841.4 655.3,818.8 674.2,812.1 693.1,797.9 712.1,790 731,787.8 749.9,748.6 768.9,663.4 787.8,662.4" stroke="#A1132E" stroke-width="2.05"/>
<polyline points="144,919.9 162.9,910.6 181.9,910.6 200.8,910 219.7,906 238.7,912.6 257.6,893.1 276.5,884.3 295.5,895 314.4,881.9 333.4,876 352.3,875.3 371.2,870.7 390.2,876 409.1,865.5 428,873.5 447,866.6 465.9,868.5 484.8,858.1 503.8,858.4 522.7,848 541.6,869.3 560.6,857.9 579.5,843.6 598.4,843.9 617.4,828.3 636.3,836.6 655.3,809.5 674.2,807.2 693.1,792.8 712.1,784.9 731,777.3 749.9,726 768.9,662.7 787.8,662" stroke="#2BB7EC" stroke-width="2.05"/>
<polyline points="144,917.7 162.9,906 181.9,907.1 200.8,906.2 219.7,902.7 238.7,910.8 257.6,891.4 276.5,878 295.5,892.5 314.4,877.5 333.4,870.7 352.3,870.7 371.2,863.6 390.2,868.5 409.1,860.9 428,867.4 447,860.3 465.9,863.6 484.8,850.9 503.8,848 522.7,837.4 541.6,862.2 560.6,852.4 579.5,837 598.4,834.1 617.4,820.1 636.3,830.8 655.3,801.9 674.2,802.3 693.1,787.1 712.1,777.6 731,766.7 749.9,710.5 768.9,662 787.8,661.5" stroke="#6BB132" stroke-width="2.05"/>
<polyline points="144,915 162.9,903.5 181.9,904 200.8,903.5 219.7,898.3 238.7,908.9 257.6,886.5 276.5,869 295.5,888.5 314.4,872 333.4,864.7 352.3,866.1 371.2,857 390.2,863.6 409.1,854.3 428,857 447,853.2 465.9,857 484.8,841.3 503.8,838.7 522.7,829.1 541.6,858.6 560.6,843.9 579.5,825.6 598.4,825 617.4,812.2 636.3,818.3 655.3,796.9 674.2,795.8 693.1,779.8 712.1,770.5 731,759.6 749.9,701.7 768.9,661.2 787.8,661" stroke="#7D2E8F" stroke-width="2.05"/>
<polyline points="144,912.8 162.9,900.7 181.9,900.7 200.8,900.7 219.7,893.6 238.7,906.8 257.6,881 276.5,860 295.5,884.9 314.4,864.9 333.4,857.8 352.3,861.4 371.2,849.9 390.2,857.4 409.1,848.3 428,848.1 447,845.9 465.9,850.8 484.8,831.6 503.8,830.5 522.7,819.9 541.6,849.9 560.6,836.5 579.5,813.5 598.4,818.8 617.4,796.8 636.3,807.2 655.3,791.4 674.2,788.5 693.1,774.3 712.1,762.9 731,755.3 749.9,692.6 768.9,660.5 787.8,660.5" stroke="#EDAE1F" stroke-width="2.05"/>
<polyline points="144,906.8 162.9,892.9 181.9,893.9 200.8,893.9 219.7,879.1 238.7,899.1 257.6,869.5 276.5,842.9 295.5,873.6 314.4,845.1 333.4,845.3 352.3,851 371.2,832.2 390.2,843.9 409.1,839.2 428,827.5 447,828 465.9,830.4 484.8,812 503.8,809.1 522.7,801.7 541.6,813.5 560.6,818.4 579.5,798.2 598.4,802 617.4,755.5 636.3,788.9 655.3,773.2 674.2,780.3 693.1,764 712.1,755.3 731,750.4 749.9,669.8 768.9,658.7 787.8,658.5" stroke="#0072BD" stroke-width="2.05"/>
<polyline points="144,902.9 162.9,885.6 181.9,890 200.8,887.6 219.7,871.7 238.7,893.6 257.6,863.5 276.5,838.1 295.5,866.2 314.4,831.8 333.4,836 352.3,844.2 371.2,823.1 390.2,835.7 409.1,830.5 428,818.2 447,818.4 465.9,820.6 484.8,799.6 503.8,800.4 522.7,792.9 541.6,805.3 560.6,808 579.5,792.2 598.4,794.3 617.4,747.1 636.3,782 655.3,764.9 674.2,774.3 693.1,758.6 712.1,747.7 731,747.9 749.9,665.5 768.9,657.6 787.8,657" stroke="#A1132E" stroke-width="2.05"/>
<polyline points="144,896.9 162.9,876.1 181.9,885.4 200.8,879.9 219.7,864.1 238.7,888.7 257.6,855.3 276.5,833.2 295.5,858.6 314.4,816.8 333.4,829.3 352.3,833.3 371.2,811.4 390.2,830.4 409.1,823.1 428,808.9 447,806.7 465.9,811.4 484.8,790.8 503.8,792.9 522.7,785 541.6,792.9 560.6,797.6 579.5,784.5 598.4,786.1 617.4,736.7 636.3,773.4 655.3,760.3 674.2,771.1 693.1,755.3 712.1,745.7 731,744.6 749.9,662.8 768.9,655.8 787.8,655.5" stroke="#2BB7EC" stroke-width="2.05"/>
<polyline points="144,889.8 162.9,865.1 181.9,882.3 200.8,871.2 219.7,853.1 238.7,879.7 257.6,841.6 276.5,817.5 295.5,851.5 314.4,805.3 333.4,823.1 352.3,824.5 371.2,795.7 390.2,820.9 409.1,815.4 428,801.8 447,791 465.9,799 484.8,770.4 503.8,783.4 522.7,772.4 541.6,754.9 560.6,782.6 579.5,768.1 598.4,772.4 617.4,726.7 636.3,760.8 655.3,754.3 674.2,765.6 693.1,752.6 712.1,744.2 731,742.2 749.9,660.7 768.9,653.8 787.8,654.3" stroke="#6BB132" stroke-width="2.05"/>
<polyline points="144,910 162.9,897.2 181.9,897.4 200.8,897.8 219.7,886.8 238.7,903.8 257.6,875.6 276.5,850.6 295.5,879.1 314.4,856.2 333.4,851.2 352.3,855.6 371.2,841.7 390.2,851.6 409.1,845.6 428,839 447,837.9 465.9,842.3 484.8,822.1 503.8,821.7 522.7,811.3 541.6,827.2 560.6,827.2 579.5,805.3 598.4,810.8 617.4,772.4 636.3,798.3 655.3,782.1 674.2,784.1 693.1,768.3 712.1,758 731,752 749.9,681.8 768.9,659.7 787.8,659.7" stroke="#231f20" stroke-width="3.1"/>
</g>
<rect x="144" y="554.3" width="643.8" height="436.8" fill="none" stroke="#3a3a3a" stroke-width="1.6"/>
<path d="M144 649.2h7.3M787.8 649.2h-7.3M144 752.4h7.3M787.8 752.4h-7.3M144 855.7h7.3M787.8 855.7h-7.3M144 958.9h7.3M787.8 958.9h-7.3M144 991.1v-7.3M144 554.3v7.3M787.8 991.1v-7.3M787.8 554.3v7.3" stroke="#3a3a3a" stroke-width="1.3" fill="none"/>
<g font-family="'Liberation Serif',serif" font-size="40.5" fill="#231f20" text-anchor="end">
<text transform="translate(129.1 664.3) scale(0.975 1.045)">24</text>
<text transform="translate(129.1 767.5) scale(0.975 1.045)">25</text>
<text transform="translate(129.1 870.8) scale(0.975 1.045)">26</text>
<text transform="translate(129.1 974) scale(0.975 1.045)">27</text>
</g>
<g font-family="'Liberation Serif',serif" font-size="20.5" text-anchor="start">
<text transform="translate(149.3 1036.7) rotate(-90)" fill="#1f5fbf">H46</text>
<text transform="translate(168.2 1036.7) rotate(-90)" fill="#1f5fbf">F38</text>
<text transform="translate(187.2 1036.7) rotate(-90)" fill="#1f5fbf">F37</text>
<text transform="translate(206.1 1036.7) rotate(-90)" fill="#1f5fbf">TS1</text>
<text transform="translate(225 1036.7) rotate(-90)" fill="#1f5fbf">F39</text>
<text transform="translate(244 1036.7) rotate(-90)" fill="#1f5fbf">B18</text>
<text transform="translate(262.9 1036.7) rotate(-90)" fill="#1f5fbf">G44</text>
<text transform="translate(281.8 1036.7) rotate(-90)" fill="#1f5fbf">H48</text>
<text transform="translate(300.8 1036.7) rotate(-90)" fill="#1f5fbf">A5</text>
<text transform="translate(319.7 1036.7) rotate(-90)" fill="#1a1a1a">D29</text>
<text transform="translate(338.7 1036.7) rotate(-90)" fill="#1a1a1a">A6</text>
<text transform="translate(357.6 1036.7) rotate(-90)" fill="#1a1a1a">A2</text>
<text transform="translate(376.5 1036.7) rotate(-90)" fill="#1a1a1a">H47</text>
<text transform="translate(395.5 1036.7) rotate(-90)" fill="#1a1a1a">B14</text>
<text transform="translate(414.4 1036.7) rotate(-90)" fill="#1a1a1a">A3</text>
<text transform="translate(433.3 1036.7) rotate(-90)" fill="#1a1a1a">D28</text>
<text transform="translate(452.3 1036.7) rotate(-90)" fill="#1a1a1a">D30</text>
<text transform="translate(471.2 1036.7) rotate(-90)" fill="#1a1a1a">F36</text>
<text transform="translate(490.1 1036.7) rotate(-90)" fill="#1a1a1a">B13</text>
<text transform="translate(509.1 1036.7) rotate(-90)" fill="#1a1a1a">A4</text>
<text transform="translate(528 1036.7) rotate(-90)" fill="#1a1a1a">D26</text>
<text transform="translate(546.9 1036.7) rotate(-90)" fill="#1a1a1a">B17</text>
<text transform="translate(565.9 1036.7) rotate(-90)" fill="#1a1a1a">B15</text>
<text transform="translate(584.8 1036.7) rotate(-90)" fill="#1a1a1a">B16</text>
<text transform="translate(603.7 1036.7) rotate(-90)" fill="#1a1a1a">D27</text>
<text transform="translate(622.7 1036.7) rotate(-90)" fill="#f01818">A7</text>
<text transform="translate(641.6 1036.7) rotate(-90)" fill="#f01818">C23</text>
<text transform="translate(660.6 1036.7) rotate(-90)" fill="#f01818">C20</text>
<text transform="translate(679.5 1036.7) rotate(-90)" fill="#f01818">C22</text>
<text transform="translate(698.4 1036.7) rotate(-90)" fill="#f01818">B12</text>
<text transform="translate(717.4 1036.7) rotate(-90)" fill="#f01818">C21</text>
<text transform="translate(736.3 1036.7) rotate(-90)" fill="#f01818">B11</text>
<text transform="translate(755.2 1036.7) rotate(-90)" fill="#f01818">A10</text>
<text transform="translate(774.2 1036.7) rotate(-90)" fill="#f01818">A8</text>
<text transform="translate(793.1 1036.7) rotate(-90)" fill="#f01818">PO1</text>
</g>
<text x="0.2" y="555.1" font-family="'Liberation Sans',sans-serif" font-weight="bold" font-size="29.6" fill="#000">C</text>
<text transform="translate(41.3 864.0) rotate(-90)" font-family="'Liberation Serif','DejaVu Serif',serif" font-size="43.2" fill="#231f20" xml:space="preserve"><tspan>σ</tspan><tspan font-size="25.6" dy="14.7">0-Zi</tspan><tspan dy="-14.7"> (kg m</tspan><tspan font-size="25.6" dy="-14.6">-3</tspan><tspan dy="14.6">)</tspan></text><line x1="173.8" y1="573.0" x2="205.6" y2="573.0" stroke="#231f20" stroke-width="2.9"/><text x="210.6" y="582.3" font-family="'Liberation Serif','DejaVu Serif',serif" font-size="43.2" fill="#231f20" xml:space="preserve"><tspan>σ</tspan><tspan font-size="25.6" dy="14.7">0-Z120</tspan></text>
</g>
<g id="panelD">
<clipPath id="clipD"><rect x="994.8" y="553.8" width="646.1" height="437.8"/></clipPath>
<g clip-path="url(#clipD)" fill="none" stroke-linejoin="miter" stroke-miterlimit="4" stroke-linecap="butt">
<polyline points="995.8,626.5 1014.7,596.3 1033.7,609.6 1052.6,637.4 1071.6,603.6 1090.5,596.1 1109.4,588.6 1128.4,591.3 1147.3,599.9 1166.2,571.4 1185.2,615.8 1204.1,562.8 1223.1,625.2 1242,594.3 1260.9,584.9 1279.9,558.3 1298.8,558.3 1317.8,625.2 1336.7,555.4 1355.6,583.6 1374.6,611.8 1393.5,558.1 1412.4,558.3 1431.4,558.3 1450.3,579.8 1469.3,576.2 1488.2,573.9 1507.1,604.6 1526.1,560.1 1545,566.1 1563.9,599 1582.9,557.8 1601.8,588.6 1620.8,567.5 1639.7,580.2" stroke="#c4c4c4" stroke-width="0.8"/>
<polyline points="995.8,661.1 1014.7,652.7 1033.7,647.3 1052.6,693.1 1071.6,647 1090.5,668.1 1109.4,649.3 1128.4,650.3 1147.3,658.5 1166.2,634.5 1185.2,662.8 1204.1,651.8 1223.1,657.7 1242,643 1260.9,645.4 1279.9,637 1298.8,636.2 1317.8,659.1 1336.7,601.7 1355.6,638 1374.6,646.1 1393.5,585.6 1412.4,604.8 1431.4,624.2 1450.3,633.3 1469.3,591.9 1488.2,639.3 1507.1,647 1526.1,628.1 1545,637 1563.9,636.2 1582.9,638.1 1601.8,599 1620.8,596.3 1639.7,597.8" stroke="#262626" stroke-width="0.78"/>
<polyline points="995.8,696.1 1014.7,699.2 1033.7,695.9 1052.6,711.1 1071.6,670.1 1090.5,716.9 1109.4,692.1 1128.4,667.3 1147.3,695.6 1166.2,669.3 1185.2,691.1 1204.1,675.6 1223.1,664.2 1242,682.3 1260.9,688 1279.9,667.9 1298.8,670.6 1317.8,672.9 1336.7,653.4 1355.6,666.6 1374.6,663.9 1393.5,596.3 1412.4,661.2 1431.4,656.8 1450.3,660.8 1469.3,609.1 1488.2,660.4 1507.1,659.8 1526.1,652.7 1545,653.1 1563.9,652.2 1582.9,652.5 1601.8,607.2 1620.8,603.2 1639.7,605.3" stroke="#262626" stroke-width="0.78"/>
<polyline points="995.8,739.3 1014.7,736.3 1033.7,751.3 1052.6,740 1071.6,721 1090.5,744.7 1109.4,712.7 1128.4,694.8 1147.3,715 1166.2,695.2 1185.2,713.2 1204.1,700.5 1223.1,687.3 1242,704.1 1260.9,704.8 1279.9,690.4 1298.8,692.7 1317.8,688 1336.7,672.5 1355.6,682.3 1374.6,676 1393.5,618.8 1412.4,682.7 1431.4,675.6 1450.3,679.2 1469.3,629.3 1488.2,672 1507.1,667.5 1526.1,669.8 1545,666.3 1563.9,662 1582.9,661.1 1601.8,617.4 1620.8,612.4 1639.7,613.6" stroke="#262626" stroke-width="0.78"/>
<polyline points="995.8,958.3 1014.7,946.8 1033.7,944 1052.6,940.2 1071.6,934.7 1090.5,952.2 1109.4,921.6 1128.4,924.9 1147.3,929.2 1166.2,921.4 1185.2,942.2 1204.1,916.5 1223.1,913.8 1242,929.6 1260.9,919.2 1279.9,926.4 1298.8,935.7 1317.8,923.1 1336.7,906.3 1355.6,918.5 1374.6,924 1393.5,926.8 1412.4,922.9 1431.4,920.2 1450.3,917.4 1469.3,908.7 1488.2,912 1507.1,904.3 1526.1,903.4 1545,902.4 1563.9,884.4 1582.9,885.5 1601.8,873.6 1620.8,838.4 1639.7,794.1" stroke="#262626" stroke-width="0.78"/>
<polyline points="995.8,963 1014.7,952.2 1033.7,949.5 1052.6,946.1 1071.6,939.7 1090.5,957.8 1109.4,927.5 1128.4,930.4 1147.3,935.8 1166.2,928.5 1185.2,954.3 1204.1,924.2 1223.1,925.3 1242,935.7 1260.9,926.9 1279.9,934 1298.8,944.4 1317.8,932.4 1336.7,914.2 1355.6,925.7 1374.6,930.6 1393.5,933.3 1412.4,930.6 1431.4,930 1450.3,923.5 1469.3,916.4 1488.2,921.3 1507.1,912.5 1526.1,912.1 1545,911.6 1563.9,896.1 1582.9,894 1601.8,888.4 1620.8,868 1639.7,801.1" stroke="#262626" stroke-width="0.78"/>
<polyline points="995.8,970 1014.7,960.1 1033.7,957.6 1052.6,954.9 1071.6,947.1 1090.5,966 1109.4,936.2 1128.4,938.7 1147.3,945.6 1166.2,936.8 1185.2,965.8 1204.1,932.4 1223.1,933.5 1242,942.2 1260.9,934 1279.9,942.8 1298.8,952.1 1317.8,941.7 1336.7,921.9 1355.6,931.7 1374.6,940.4 1393.5,941.5 1412.4,939.3 1431.4,938.3 1450.3,931.7 1469.3,926.2 1488.2,928.4 1507.1,920.2 1526.1,920.1 1545,920 1563.9,906.7 1582.9,903.8 1601.8,898.9 1620.8,876.4 1639.7,808.1" stroke="#262626" stroke-width="0.78"/>
<polyline points="995.8,975.6 1014.7,966.4 1033.7,964 1052.6,961.9 1071.6,953 1090.5,972.6 1109.4,943.1 1128.4,945.2 1147.3,953.3 1166.2,941.1 1185.2,975.6 1204.1,938.9 1223.1,940.6 1242,947.7 1260.9,940.6 1279.9,948.8 1298.8,960.8 1317.8,948.8 1336.7,932.3 1355.6,938.8 1374.6,945.9 1393.5,949.2 1412.4,947 1431.4,951.4 1450.3,939.3 1469.3,934.4 1488.2,936.1 1507.1,928.4 1526.1,928.1 1545,927.8 1563.9,915.1 1582.9,911.6 1601.8,911.6 1620.8,901 1639.7,815.2" stroke="#262626" stroke-width="0.78"/>
<polyline points="995.8,980.6 1014.7,972.2 1033.7,969.9 1052.6,968.2 1071.6,958.4 1090.5,978.5 1109.4,949.3 1128.4,951.1 1147.3,960.3 1166.2,946.1 1185.2,981.6 1204.1,944.4 1223.1,947.2 1242,957 1260.9,944.4 1279.9,954.8 1298.8,965.2 1317.8,955.9 1336.7,941.1 1355.6,947 1374.6,954.1 1393.5,955.8 1412.4,954.1 1431.4,958 1450.3,944.3 1469.3,945.9 1488.2,945.4 1507.1,936.6 1526.1,936.1 1545,935.5 1563.9,922.8 1582.9,919 1601.8,922.4 1620.8,915.1 1639.7,822.2" stroke="#262626" stroke-width="0.78"/>
<polyline points="995.8,986.2 1014.7,978.5 1033.7,976.3 1052.6,975.2 1071.6,964.3 1090.5,985.1 1109.4,956.3 1128.4,957.7 1147.3,968.1 1166.2,951 1185.2,989.9 1204.1,952.1 1223.1,954.8 1242,962.5 1260.9,951.5 1279.9,959.7 1298.8,970.2 1317.8,960.8 1336.7,946.8 1355.6,953.6 1374.6,960.2 1393.5,960.7 1412.4,962.3 1431.4,965.1 1450.3,950.3 1469.3,952.5 1488.2,951.4 1507.1,944.3 1526.1,943.4 1545,942.5 1563.9,931.3 1582.9,926.6 1601.8,932.3 1620.8,923.3 1639.7,829.3" stroke="#262626" stroke-width="0.78"/>
<polyline points="995.8,955.9 1014.7,944 1033.7,941.3 1052.6,937.5 1071.6,933.1 1090.5,947.8 1109.4,916.6 1128.4,921 1147.3,924.3 1166.2,920.4 1185.2,932.9 1204.1,911.6 1223.1,908.8 1242,928 1260.9,914.3 1279.9,924.2 1298.8,930.7 1317.8,920.9 1336.7,905.5 1355.6,913.1 1374.6,919.6 1393.5,922.4 1412.4,916.9 1431.4,916.4 1450.3,912 1469.3,904.3 1488.2,907 1507.1,898.2 1526.1,896.2 1545,897.2 1563.9,879.3 1582.9,879.8 1601.8,865 1620.8,813.4 1639.7,786.2" stroke="#7D2E8F" stroke-width="2.05"/>
<polyline points="995.8,953.8 1014.7,942.1 1033.7,939.8 1052.6,936.1 1071.6,931.5 1090.5,945.2 1109.4,914.1 1128.4,919 1147.3,922.4 1166.2,918.2 1185.2,927.4 1204.1,908.7 1223.1,906.4 1242,926.1 1260.9,912.1 1279.9,921.7 1298.8,928.3 1317.8,919.2 1336.7,902.1 1355.6,909.8 1374.6,918 1393.5,919.6 1412.4,914.4 1431.4,914.4 1450.3,910.1 1469.3,901.4 1488.2,904.2 1507.1,895.9 1526.1,893.1 1545,894.8 1563.9,876.6 1582.9,876.5 1601.8,861.9 1620.8,808.8 1639.7,783.2" stroke="#EDAE1F" stroke-width="2.05"/>
<polyline points="995.8,951.7 1014.7,940.2 1033.7,938.3 1052.6,934.8 1071.6,929.8 1090.5,942.6 1109.4,911.7 1128.4,916.9 1147.3,920.5 1166.2,915.9 1185.2,922 1204.1,905.8 1223.1,903.9 1242,924.2 1260.9,909.9 1279.9,919.2 1298.8,925.8 1317.8,917.6 1336.7,898.6 1355.6,906.5 1374.6,916.4 1393.5,916.9 1412.4,912 1431.4,912.5 1450.3,908.1 1469.3,898.6 1488.2,901.3 1507.1,893.6 1526.1,890 1545,892.3 1563.9,873.9 1582.9,873.1 1601.8,858.8 1620.8,804.2 1639.7,780.1" stroke="#DB5218" stroke-width="2.05"/>
<polyline points="995.8,949.6 1014.7,938.3 1033.7,936.8 1052.6,933.4 1071.6,928.1 1090.5,940.1 1109.4,909.2 1128.4,914.8 1147.3,918.5 1166.2,913.6 1185.2,916.5 1204.1,902.9 1223.1,901.4 1242,922.2 1260.9,907.7 1279.9,916.8 1298.8,923.3 1317.8,916 1336.7,895.2 1355.6,903.2 1374.6,914.7 1393.5,914.2 1412.4,909.5 1431.4,910.6 1450.3,906.2 1469.3,895.7 1488.2,898.4 1507.1,891.3 1526.1,887 1545,889.9 1563.9,871.2 1582.9,869.8 1601.8,855.7 1620.8,799.6 1639.7,777.1" stroke="#0072BD" stroke-width="2.05"/>
<polyline points="995.8,947.5 1014.7,936.4 1033.7,935.3 1052.6,932 1071.6,926.5 1090.5,937.5 1109.4,906.8 1128.4,912.8 1147.3,916.6 1166.2,911.4 1185.2,911 1204.1,900.1 1223.1,899 1242,920.3 1260.9,905.6 1279.9,914.3 1298.8,920.9 1317.8,914.3 1336.7,891.8 1355.6,899.9 1374.6,913.1 1393.5,911.4 1412.4,907 1431.4,908.7 1450.3,904.3 1469.3,892.8 1488.2,895.6 1507.1,889 1526.1,883.9 1545,887.5 1563.9,868.5 1582.9,866.5 1601.8,852.7 1620.8,795 1639.7,774" stroke="#A1132E" stroke-width="2.05"/>
<polyline points="995.8,945.5 1014.7,934.3 1033.7,933.1 1052.6,929.8 1071.6,924.6 1090.5,936.2 1109.4,904 1128.4,910.5 1147.3,914.3 1166.2,909.5 1185.2,906.3 1204.1,897.9 1223.1,896.4 1242,917.2 1260.9,902.4 1279.9,912.1 1298.8,918.2 1317.8,912 1336.7,889.1 1355.6,898.3 1374.6,909.8 1393.5,909.3 1412.4,904.2 1431.4,906.7 1450.3,901.7 1469.3,890.2 1488.2,892.9 1507.1,886.4 1526.1,880.5 1545,884 1563.9,865.3 1582.9,863.6 1601.8,849.5 1620.8,790.4 1639.7,771" stroke="#2BB7EC" stroke-width="2.05"/>
<polyline points="995.8,943.6 1014.7,932.2 1033.7,930.9 1052.6,927.6 1071.6,922.8 1090.5,935 1109.4,901.2 1128.4,908.3 1147.3,912.1 1166.2,907.5 1185.2,901.6 1204.1,895.7 1223.1,893.8 1242,914.1 1260.9,899.3 1279.9,909.9 1298.8,915.6 1317.8,909.8 1336.7,886.3 1355.6,896.6 1374.6,906.5 1393.5,907.2 1412.4,901.3 1431.4,904.8 1450.3,899 1469.3,887.5 1488.2,890.2 1507.1,883.7 1526.1,877 1545,880.6 1563.9,862.1 1582.9,860.6 1601.8,846.4 1620.8,785.8 1639.7,767.4" stroke="#6BB132" stroke-width="2.05"/>
<polyline points="995.8,941.6 1014.7,930.1 1033.7,928.7 1052.6,925.4 1071.6,920.9 1090.5,933.7 1109.4,898.4 1128.4,906 1147.3,909.8 1166.2,905.6 1185.2,896.9 1204.1,893.5 1223.1,891.2 1242,910.9 1260.9,896.2 1279.9,907.7 1298.8,912.9 1317.8,907.5 1336.7,883.6 1355.6,895 1374.6,903.2 1393.5,905.1 1412.4,898.4 1431.4,902.8 1450.3,896.3 1469.3,884.8 1488.2,887.6 1507.1,881.1 1526.1,873.6 1545,877.2 1563.9,858.9 1582.9,857.7 1601.8,843.2 1620.8,781.2 1639.7,763.8" stroke="#7D2E8F" stroke-width="2.05"/>
<polyline points="995.8,939.6 1014.7,927.9 1033.7,926.5 1052.6,923.2 1071.6,919 1090.5,932.5 1109.4,895.5 1128.4,903.7 1147.3,907.6 1166.2,903.7 1185.2,892.3 1204.1,891.3 1223.1,888.7 1242,907.8 1260.9,893 1279.9,905.6 1298.8,910.2 1317.8,905.2 1336.7,880.8 1355.6,893.4 1374.6,899.9 1393.5,903 1412.4,895.5 1431.4,900.9 1450.3,893.7 1469.3,882.2 1488.2,884.9 1507.1,878.4 1526.1,870.1 1545,873.7 1563.9,855.7 1582.9,854.8 1601.8,840.1 1620.8,776.6 1639.7,760.2" stroke="#EDAE1F" stroke-width="2.05"/>
<polyline points="995.8,937.6 1014.7,925.8 1033.7,924.3 1052.6,921 1071.6,917.1 1090.5,931.2 1109.4,892.7 1128.4,901.4 1147.3,905.3 1166.2,901.8 1185.2,887.6 1204.1,889.1 1223.1,886.1 1242,904.7 1260.9,889.9 1279.9,903.4 1298.8,907.6 1317.8,903 1336.7,878.1 1355.6,891.7 1374.6,896.6 1393.5,900.9 1412.4,892.6 1431.4,898.9 1450.3,891 1469.3,879.5 1488.2,882.3 1507.1,875.8 1526.1,866.7 1545,870.3 1563.9,852.4 1582.9,851.9 1601.8,836.9 1620.8,772 1639.7,756.6" stroke="#DB5218" stroke-width="2.05"/>
<polyline points="995.8,935.7 1014.7,923.7 1033.7,922.1 1052.6,918.8 1071.6,915.3 1090.5,930 1109.4,889.9 1128.4,899.2 1147.3,903.1 1166.2,899.9 1185.2,882.9 1204.1,886.9 1223.1,883.5 1242,901.6 1260.9,886.8 1279.9,901.2 1298.8,904.9 1317.8,900.7 1336.7,875.4 1355.6,890.1 1374.6,893.4 1393.5,898.8 1412.4,889.7 1431.4,897 1450.3,888.4 1469.3,876.9 1488.2,879.6 1507.1,873.1 1526.1,863.3 1545,866.9 1563.9,849.2 1582.9,848.9 1601.8,833.8 1620.8,767.5 1639.7,753" stroke="#0072BD" stroke-width="2.05"/>
<polyline points="995.8,933.7 1014.7,921.6 1033.7,919.9 1052.6,916.6 1071.6,913.4 1090.5,928.7 1109.4,887.1 1128.4,896.9 1147.3,900.8 1166.2,897.9 1185.2,878.2 1204.1,884.7 1223.1,880.9 1242,898.4 1260.9,883.7 1279.9,899 1298.8,902.3 1317.8,898.4 1336.7,872.6 1355.6,888.4 1374.6,890.1 1393.5,896.6 1412.4,886.8 1431.4,895 1450.3,885.7 1469.3,874.2 1488.2,876.9 1507.1,870.5 1526.1,859.8 1545,863.4 1563.9,846 1582.9,846 1601.8,830.7 1620.8,762.9 1639.7,748.6" stroke="#A1132E" stroke-width="2.05"/>
<polyline points="995.8,931.4 1014.7,918.8 1033.7,917.1 1052.6,913.9 1071.6,910.9 1090.5,925.4 1109.4,885.1 1128.4,894.7 1147.3,898.4 1166.2,895.7 1185.2,874.6 1204.1,882.8 1223.1,878.1 1242,895.1 1260.9,881 1279.9,896.1 1298.8,899.6 1317.8,895.2 1336.7,870.1 1355.6,885.4 1374.6,886.4 1393.5,893.8 1412.4,884.1 1431.4,892.3 1450.3,882.6 1469.3,870.8 1488.2,873.4 1507.1,867.4 1526.1,857.1 1545,860.6 1563.9,842.4 1582.9,842.6 1601.8,827.4 1620.8,758.3 1639.7,744.2" stroke="#2BB7EC" stroke-width="2.05"/>
<polyline points="995.8,929.1 1014.7,916 1033.7,914.3 1052.6,911.3 1071.6,908.4 1090.5,922.1 1109.4,883 1128.4,892.5 1147.3,895.9 1166.2,893.5 1185.2,871 1204.1,880.8 1223.1,875.3 1242,891.9 1260.9,878.3 1279.9,893.2 1298.8,896.9 1317.8,892 1336.7,867.5 1355.6,882.3 1374.6,882.7 1393.5,891 1412.4,881.5 1431.4,889.5 1450.3,879.4 1469.3,867.3 1488.2,869.9 1507.1,864.4 1526.1,854.4 1545,857.9 1563.9,838.7 1582.9,839.3 1601.8,824.2 1620.8,753.7 1639.7,739.8" stroke="#6BB132" stroke-width="2.05"/>
<polyline points="995.8,926.8 1014.7,913.2 1033.7,911.5 1052.6,908.6 1071.6,905.9 1090.5,918.8 1109.4,881 1128.4,890.3 1147.3,893.5 1166.2,891.3 1185.2,867.4 1204.1,878.9 1223.1,872.5 1242,888.6 1260.9,875.7 1279.9,890.3 1298.8,894.3 1317.8,888.8 1336.7,865 1355.6,879.3 1374.6,879 1393.5,888.2 1412.4,878.8 1431.4,886.8 1450.3,876.3 1469.3,863.9 1488.2,866.4 1507.1,861.3 1526.1,851.7 1545,855.1 1563.9,835 1582.9,835.9 1601.8,821 1620.8,749.1 1639.7,735.4" stroke="#7D2E8F" stroke-width="2.05"/>
<polyline points="995.8,924.5 1014.7,910.3 1033.7,908.6 1052.6,906 1071.6,903.3 1090.5,915.6 1109.4,878.9 1128.4,888.2 1147.3,891.1 1166.2,889 1185.2,863.8 1204.1,876.9 1223.1,869.7 1242,885.3 1260.9,873 1279.9,887.4 1298.8,891.6 1317.8,885.6 1336.7,862.5 1355.6,876.2 1374.6,875.4 1393.5,885.4 1412.4,876.2 1431.4,884.1 1450.3,873.2 1469.3,860.4 1488.2,862.9 1507.1,858.2 1526.1,849 1545,852.3 1563.9,831.4 1582.9,832.6 1601.8,817.8 1620.8,744.5 1639.7,731" stroke="#EDAE1F" stroke-width="2.05"/>
<polyline points="995.8,922.2 1014.7,907.5 1033.7,905.8 1052.6,903.3 1071.6,900.8 1090.5,912.3 1109.4,876.9 1128.4,886 1147.3,888.7 1166.2,886.8 1185.2,860.2 1204.1,875 1223.1,866.8 1242,882 1260.9,870.4 1279.9,884.5 1298.8,889 1317.8,882.4 1336.7,859.9 1355.6,873.2 1374.6,871.7 1393.5,882.6 1412.4,873.5 1431.4,881.3 1450.3,870.1 1469.3,857 1488.2,859.3 1507.1,855.2 1526.1,846.3 1545,849.5 1563.9,827.7 1582.9,829.2 1601.8,814.6 1620.8,739.9 1639.7,725.5" stroke="#DB5218" stroke-width="2.05"/>
<polyline points="995.8,919.9 1014.7,904.7 1033.7,903 1052.6,900.7 1071.6,898.3 1090.5,909 1109.4,874.8 1128.4,883.8 1147.3,886.2 1166.2,884.6 1185.2,856.6 1204.1,873 1223.1,864 1242,878.7 1260.9,867.7 1279.9,881.6 1298.8,886.3 1317.8,879.2 1336.7,857.4 1355.6,870.1 1374.6,868 1393.5,879.8 1412.4,870.8 1431.4,878.6 1450.3,866.9 1469.3,853.6 1488.2,855.8 1507.1,852.1 1526.1,843.6 1545,846.7 1563.9,824.1 1582.9,825.8 1601.8,811.3 1620.8,735.3 1639.7,720" stroke="#0072BD" stroke-width="2.05"/>
<polyline points="995.8,917.6 1014.7,901.9 1033.7,900.2 1052.6,898 1071.6,895.8 1090.5,905.7 1109.4,872.8 1128.4,881.6 1147.3,883.8 1166.2,882.3 1185.2,853 1204.1,871.1 1223.1,861.2 1242,875.4 1260.9,865 1279.9,878.7 1298.8,883.7 1317.8,876 1336.7,854.8 1355.6,867.1 1374.6,864.3 1393.5,876.9 1412.4,868.2 1431.4,875.8 1450.3,863.8 1469.3,850.1 1488.2,852.3 1507.1,849 1526.1,840.9 1545,844 1563.9,820.4 1582.9,822.5 1601.8,808.1 1620.8,730.7 1639.7,714.5" stroke="#A1132E" stroke-width="2.05"/>
<polyline points="995.8,914.9 1014.7,898.8 1033.7,897.6 1052.6,895.7 1071.6,893.7 1090.5,902.8 1109.4,870.6 1128.4,878 1147.3,880.9 1166.2,879.5 1185.2,849.4 1204.1,868.4 1223.1,858.4 1242,871.4 1260.9,862.6 1279.9,875.1 1298.8,880.4 1317.8,871.9 1336.7,852.1 1355.6,863 1374.6,861 1393.5,872.7 1412.4,864.2 1431.4,871.5 1450.3,860.5 1469.3,846.7 1488.2,848.6 1507.1,845.1 1526.1,836.9 1545,839.6 1563.9,816.3 1582.9,818.4 1601.8,804.4 1620.8,726.1 1639.7,709" stroke="#2BB7EC" stroke-width="2.05"/>
<polyline points="995.8,912.1 1014.7,895.8 1033.7,895.1 1052.6,893.5 1071.6,891.6 1090.5,899.9 1109.4,868.4 1128.4,874.5 1147.3,878.1 1166.2,876.6 1185.2,845.9 1204.1,865.8 1223.1,855.7 1242,867.4 1260.9,860.1 1279.9,871.5 1298.8,877.2 1317.8,867.8 1336.7,849.4 1355.6,859 1374.6,857.7 1393.5,868.4 1412.4,860.2 1431.4,867.1 1450.3,857.3 1469.3,843.3 1488.2,844.8 1507.1,841.3 1526.1,833 1545,835.2 1563.9,812.2 1582.9,814.3 1601.8,800.7 1620.8,721.5 1639.7,703.5" stroke="#6BB132" stroke-width="2.05"/>
<polyline points="995.8,909.4 1014.7,892.7 1033.7,892.5 1052.6,891.2 1071.6,889.5 1090.5,897 1109.4,866.2 1128.4,870.9 1147.3,875.2 1166.2,873.7 1185.2,842.3 1204.1,863.2 1223.1,852.9 1242,863.4 1260.9,857.7 1279.9,867.8 1298.8,873.9 1317.8,863.7 1336.7,846.7 1355.6,854.9 1374.6,854.3 1393.5,864.1 1412.4,856.3 1431.4,862.8 1450.3,854 1469.3,839.9 1488.2,841.1 1507.1,837.4 1526.1,829 1545,830.8 1563.9,808.1 1582.9,810.2 1601.8,796.9 1620.8,716.9 1639.7,697.8" stroke="#7D2E8F" stroke-width="2.05"/>
<polyline points="995.8,906.6 1014.7,889.7 1033.7,889.9 1052.6,889 1071.6,887.4 1090.5,894.1 1109.4,863.9 1128.4,867.4 1147.3,872.4 1166.2,870.8 1185.2,838.8 1204.1,860.6 1223.1,850.1 1242,859.3 1260.9,855.2 1279.9,864.2 1298.8,870.7 1317.8,859.6 1336.7,844 1355.6,850.9 1374.6,851 1393.5,859.8 1412.4,852.3 1431.4,858.4 1450.3,850.7 1469.3,836.4 1488.2,837.4 1507.1,833.5 1526.1,825.1 1545,826.4 1563.9,804 1582.9,806.1 1601.8,793.2 1620.8,712.3 1639.7,695.2" stroke="#EDAE1F" stroke-width="2.05"/>
<polyline points="995.8,903.9 1014.7,886.6 1033.7,887.3 1052.6,886.7 1071.6,885.3 1090.5,891.2 1109.4,861.7 1128.4,863.8 1147.3,869.5 1166.2,868 1185.2,835.2 1204.1,858 1223.1,847.3 1242,855.3 1260.9,852.7 1279.9,860.6 1298.8,867.4 1317.8,855.5 1336.7,841.3 1355.6,846.9 1374.6,847.6 1393.5,855.5 1412.4,848.3 1431.4,854.1 1450.3,847.5 1469.3,833 1488.2,833.6 1507.1,829.6 1526.1,821.1 1545,822 1563.9,799.9 1582.9,802 1601.8,789.5 1620.8,707.7 1639.7,692.7" stroke="#DB5218" stroke-width="2.05"/>
<polyline points="995.8,901.1 1014.7,883.6 1033.7,884.8 1052.6,884.5 1071.6,883.2 1090.5,888.3 1109.4,859.5 1128.4,860.3 1147.3,866.7 1166.2,865.1 1185.2,831.7 1204.1,855.4 1223.1,844.6 1242,851.3 1260.9,850.3 1279.9,856.9 1298.8,864.2 1317.8,851.4 1336.7,838.6 1355.6,842.8 1374.6,844.3 1393.5,851.3 1412.4,844.4 1431.4,849.7 1450.3,844.2 1469.3,829.6 1488.2,829.9 1507.1,825.7 1526.1,817.2 1545,817.6 1563.9,795.8 1582.9,797.9 1601.8,785.7 1620.8,703.1 1639.7,688.2" stroke="#0072BD" stroke-width="2.05"/>
<polyline points="995.8,898.4 1014.7,880.5 1033.7,882.2 1052.6,882.2 1071.6,881.1 1090.5,885.4 1109.4,857.3 1128.4,856.7 1147.3,863.8 1166.2,862.2 1185.2,828.1 1204.1,852.7 1223.1,841.8 1242,847.3 1260.9,847.8 1279.9,853.3 1298.8,861 1317.8,847.3 1336.7,835.9 1355.6,838.8 1374.6,841 1393.5,847 1412.4,840.4 1431.4,845.3 1450.3,841 1469.3,826.2 1488.2,826.2 1507.1,821.9 1526.1,813.2 1545,813.2 1563.9,791.7 1582.9,793.8 1601.8,782 1620.8,698.5 1639.7,682.4" stroke="#A1132E" stroke-width="2.05"/>
<polyline points="995.8,895.5 1014.7,877.6 1033.7,879.5 1052.6,879.1 1071.6,877.5 1090.5,881.5 1109.4,854.2 1128.4,853.6 1147.3,860.2 1166.2,859.1 1185.2,825.2 1204.1,848.9 1223.1,838 1242,844 1260.9,843 1279.9,849.9 1298.8,857 1317.8,843.7 1336.7,832.6 1355.6,834.7 1374.6,837.9 1393.5,843.2 1412.4,837.4 1431.4,841.7 1450.3,837.4 1469.3,822.8 1488.2,822.1 1507.1,818 1526.1,809.4 1545,809.6 1563.9,790.1 1582.9,791.2 1601.8,778.2 1620.8,693.9 1639.7,677.3" stroke="#2BB7EC" stroke-width="2.05"/>
<polyline points="995.8,892.6 1014.7,874.6 1033.7,876.8 1052.6,876 1071.6,873.9 1090.5,877.7 1109.4,851.1 1128.4,850.5 1147.3,856.5 1166.2,856 1185.2,822.3 1204.1,845.1 1223.1,834.1 1242,840.7 1260.9,838.3 1279.9,846.6 1298.8,853 1317.8,840.2 1336.7,829.3 1355.6,830.6 1374.6,834.9 1393.5,839.5 1412.4,834.3 1431.4,838.1 1450.3,833.8 1469.3,819.4 1488.2,818 1507.1,814.1 1526.1,805.6 1545,805.9 1563.9,788.4 1582.9,788.7 1601.8,774.4 1620.8,689.3 1639.7,670.9" stroke="#6BB132" stroke-width="2.05"/>
<polyline points="995.8,889.7 1014.7,871.7 1033.7,874.1 1052.6,872.9 1071.6,870.3 1090.5,873.8 1109.4,848 1128.4,847.4 1147.3,852.9 1166.2,852.9 1185.2,819.4 1204.1,841.2 1223.1,830.3 1242,837.4 1260.9,833.5 1279.9,843.2 1298.8,849 1317.8,836.7 1336.7,826 1355.6,826.6 1374.6,831.8 1393.5,835.7 1412.4,831.3 1431.4,834.5 1450.3,830.2 1469.3,816.1 1488.2,814 1507.1,810.2 1526.1,801.8 1545,802.3 1563.9,786.7 1582.9,786.1 1601.8,770.5 1620.8,684.8 1639.7,661.9" stroke="#7D2E8F" stroke-width="2.05"/>
<polyline points="995.8,886.7 1014.7,868.8 1033.7,871.3 1052.6,869.8 1071.6,866.7 1090.5,870 1109.4,845 1128.4,844.4 1147.3,849.3 1166.2,849.9 1185.2,816.5 1204.1,837.4 1223.1,826.5 1242,834.1 1260.9,828.7 1279.9,839.8 1298.8,845 1317.8,833.2 1336.7,822.8 1355.6,822.5 1374.6,828.8 1393.5,832 1412.4,828.2 1431.4,830.9 1450.3,826.6 1469.3,812.7 1488.2,809.9 1507.1,806.3 1526.1,798 1545,798.6 1563.9,785 1582.9,783.6 1601.8,766.7 1620.8,680.2 1639.7,654.3" stroke="#EDAE1F" stroke-width="2.05"/>
<polyline points="995.8,883.8 1014.7,865.9 1033.7,868.6 1052.6,866.7 1071.6,863.1 1090.5,866.1 1109.4,841.9 1128.4,841.3 1147.3,845.7 1166.2,846.8 1185.2,813.6 1204.1,833.6 1223.1,822.6 1242,830.8 1260.9,824 1279.9,836.5 1298.8,841 1317.8,829.7 1336.7,819.5 1355.6,818.4 1374.6,825.7 1393.5,828.2 1412.4,825.2 1431.4,827.3 1450.3,823 1469.3,809.4 1488.2,805.8 1507.1,802.4 1526.1,794.2 1545,795 1563.9,783.3 1582.9,781 1601.8,762.9 1620.8,675.6 1639.7,645.3" stroke="#DB5218" stroke-width="2.05"/>
<polyline points="995.8,880.9 1014.7,862.9 1033.7,865.9 1052.6,863.6 1071.6,859.5 1090.5,862.3 1109.4,838.8 1128.4,838.2 1147.3,842 1166.2,843.7 1185.2,810.7 1204.1,829.7 1223.1,818.8 1242,827.6 1260.9,819.2 1279.9,833.1 1298.8,837 1317.8,826.2 1336.7,816.2 1355.6,814.4 1374.6,822.7 1393.5,824.5 1412.4,822.1 1431.4,823.7 1450.3,819.4 1469.3,806 1488.2,801.8 1507.1,798.5 1526.1,790.4 1545,791.3 1563.9,781.6 1582.9,778.4 1601.8,759 1620.8,671 1639.7,637.6" stroke="#0072BD" stroke-width="2.05"/>
<polyline points="995.8,878 1014.7,860 1033.7,863.2 1052.6,860.5 1071.6,855.9 1090.5,858.4 1109.4,835.7 1128.4,835.1 1147.3,838.4 1166.2,840.6 1185.2,807.9 1204.1,825.9 1223.1,815 1242,824.3 1260.9,814.4 1279.9,829.7 1298.8,833 1317.8,822.6 1336.7,812.9 1355.6,810.3 1374.6,819.6 1393.5,820.7 1412.4,819.1 1431.4,820.2 1450.3,815.8 1469.3,802.6 1488.2,797.7 1507.1,794.6 1526.1,786.6 1545,787.6 1563.9,780 1582.9,775.9 1601.8,755.2 1620.8,666.4 1639.7,631.2" stroke="#A1132E" stroke-width="2.05"/>
<polyline points="995.8,874.6 1014.7,857.5 1033.7,860 1052.6,857.4 1071.6,852.8 1090.5,855 1109.4,832.6 1128.4,831.7 1147.3,834.3 1166.2,836.2 1185.2,805.3 1204.1,821.3 1223.1,811.3 1242,820.6 1260.9,810.4 1279.9,825 1298.8,828.4 1317.8,818.4 1336.7,809.3 1355.6,806.2 1374.6,815.1 1393.5,817.4 1412.4,813.4 1431.4,816.5 1450.3,811.1 1469.3,796.2 1488.2,793.9 1507.1,790.5 1526.1,781.7 1545,782.4 1563.9,776.3 1582.9,768.5 1601.8,748.4 1620.8,661.8 1639.7,626.8" stroke="#2BB7EC" stroke-width="2.05"/>
<polyline points="995.8,871.2 1014.7,855 1033.7,856.8 1052.6,854.2 1071.6,849.7 1090.5,851.6 1109.4,829.5 1128.4,828.4 1147.3,830.2 1166.2,831.8 1185.2,802.7 1204.1,816.6 1223.1,807.7 1242,817 1260.9,806.4 1279.9,820.3 1298.8,823.7 1317.8,814.2 1336.7,805.6 1355.6,802.1 1374.6,810.7 1393.5,814.1 1412.4,807.7 1431.4,812.9 1450.3,806.5 1469.3,789.7 1488.2,790 1507.1,786.3 1526.1,776.8 1545,777.2 1563.9,772.7 1582.9,761.1 1601.8,741.7 1620.8,657.2 1639.7,624.5" stroke="#6BB132" stroke-width="2.05"/>
<polyline points="995.8,867.8 1014.7,852.5 1033.7,853.5 1052.6,851.1 1071.6,846.6 1090.5,848.1 1109.4,826.4 1128.4,825 1147.3,826.1 1166.2,827.5 1185.2,800.2 1204.1,812 1223.1,804 1242,813.3 1260.9,802.4 1279.9,815.5 1298.8,819.1 1317.8,810 1336.7,802 1355.6,798 1374.6,806.2 1393.5,810.8 1412.4,802.1 1431.4,809.2 1450.3,801.8 1469.3,783.2 1488.2,786.2 1507.1,782.2 1526.1,771.9 1545,771.9 1563.9,769.1 1582.9,753.7 1601.8,735 1620.8,652.6 1639.7,623.8" stroke="#7D2E8F" stroke-width="2.05"/>
<polyline points="995.8,864.4 1014.7,850 1033.7,850.3 1052.6,848 1071.6,843.5 1090.5,844.7 1109.4,823.3 1128.4,821.6 1147.3,822 1166.2,823.1 1185.2,797.6 1204.1,807.3 1223.1,800.4 1242,809.7 1260.9,798.4 1279.9,810.8 1298.8,814.4 1317.8,805.8 1336.7,798.3 1355.6,793.9 1374.6,801.7 1393.5,807.6 1412.4,796.4 1431.4,805.6 1450.3,797.2 1469.3,776.7 1488.2,782.4 1507.1,778 1526.1,767 1545,766.7 1563.9,765.5 1582.9,746.4 1601.8,728.2 1620.8,648 1639.7,623.6" stroke="#EDAE1F" stroke-width="2.05"/>
<polyline points="995.8,861 1014.7,847.5 1033.7,847.1 1052.6,844.8 1071.6,840.4 1090.5,841.3 1109.4,820.2 1128.4,818.2 1147.3,817.9 1166.2,818.7 1185.2,795.1 1204.1,802.6 1223.1,796.7 1242,806 1260.9,794.3 1279.9,806 1298.8,809.8 1317.8,801.6 1336.7,794.7 1355.6,789.8 1374.6,797.2 1393.5,804.3 1412.4,790.8 1431.4,801.9 1450.3,792.5 1469.3,770.2 1488.2,778.5 1507.1,773.8 1526.1,762.1 1545,761.4 1563.9,761.9 1582.9,739 1601.8,721.5 1620.8,643.4 1639.7,623.4" stroke="#DB5218" stroke-width="2.05"/>
<polyline points="995.8,857.6 1014.7,845 1033.7,843.9 1052.6,841.7 1071.6,837.3 1090.5,837.9 1109.4,817 1128.4,814.9 1147.3,813.8 1166.2,814.3 1185.2,792.5 1204.1,798 1223.1,793.1 1242,802.4 1260.9,790.3 1279.9,801.3 1298.8,805.1 1317.8,797.4 1336.7,791 1355.6,785.7 1374.6,792.8 1393.5,801 1412.4,785.1 1431.4,798.3 1450.3,787.9 1469.3,763.8 1488.2,774.7 1507.1,769.7 1526.1,757.2 1545,756.2 1563.9,758.2 1582.9,731.6 1601.8,714.7 1620.8,634.1 1639.7,623.2" stroke="#0072BD" stroke-width="2.05"/>
<polyline points="995.8,854.3 1014.7,842.8 1033.7,840.6 1052.6,837.9 1071.6,833.5 1090.5,832.9 1109.4,814.9 1128.4,811.6 1147.3,809.4 1166.2,807.2 1185.2,790.3 1204.1,793.6 1223.1,788.7 1242,798.5 1260.9,786.5 1279.9,796.9 1298.8,800.7 1317.8,793.6 1336.7,787.7 1355.6,782.4 1374.6,787.3 1393.5,798.8 1412.4,780.7 1431.4,791.7 1450.3,784.6 1469.3,757.2 1488.2,770.9 1507.1,763.3 1526.1,751.1 1545,749 1563.9,748 1582.9,727 1601.8,708.1 1620.8,627.7 1639.7,622.9" stroke="#A1132E" stroke-width="2.05"/>
<polyline points="995.8,851 1014.7,840.4 1033.7,836.8 1052.6,833.5 1071.6,829.6 1090.5,829.1 1109.4,810.5 1128.4,805 1147.3,806.1 1166.2,800.7 1185.2,788.7 1204.1,790.3 1223.1,784.3 1242,793.1 1260.9,782.7 1279.9,793.1 1298.8,796.4 1317.8,789.8 1336.7,783.3 1355.6,780.2 1374.6,782.4 1393.5,795.5 1412.4,776.4 1431.4,785.7 1450.3,779.1 1469.3,750.6 1488.2,764.9 1507.1,752.7 1526.1,744.4 1545,738.3 1563.9,738.8 1582.9,722.4 1601.8,700.9 1620.8,624.2 1639.7,622.7" stroke="#2BB7EC" stroke-width="2.05"/>
<polyline points="995.8,847.7 1014.7,838.4 1033.7,832.9 1052.6,829.1 1071.6,825.3 1090.5,826.4 1109.4,805 1128.4,799.5 1147.3,803.1 1166.2,795.5 1185.2,786 1204.1,787.6 1223.1,781.6 1242,789.8 1260.9,778.3 1279.9,788.7 1298.8,792 1317.8,786 1336.7,777.9 1355.6,775 1374.6,776.9 1393.5,792.2 1412.4,773.1 1431.4,777.4 1450.3,773.9 1469.3,745.1 1488.2,761 1507.1,747.4 1526.1,735.7 1545,731.6 1563.9,730.1 1582.9,716.8 1601.8,693.7 1620.8,623.8 1639.7,622.5" stroke="#6BB132" stroke-width="2.05"/>
<polyline points="995.8,837.9 1014.7,828.5 1033.7,825.3 1052.6,822.5 1071.6,817.6 1090.5,818.5 1109.4,795.7 1128.4,790.8 1147.3,794.6 1166.2,785.9 1185.2,778.8 1204.1,780.5 1223.1,775 1242,781 1260.9,768.4 1279.9,780.5 1298.8,781 1317.8,771.2 1336.7,766.4 1355.6,764.9 1374.6,765.4 1393.5,780.7 1412.4,764.3 1431.4,762.7 1450.3,761.6 1469.3,732.6 1488.2,751.2 1507.1,732.3 1526.1,727 1545,717.8 1563.9,716.3 1582.9,708.1 1601.8,677.3 1620.8,623.1 1639.7,622" stroke="#EDAE1F" stroke-width="2.05"/>
<polyline points="995.8,834 1014.7,823.9 1033.7,821.4 1052.6,818.7 1071.6,813.8 1090.5,814.5 1109.4,790 1128.4,787.8 1147.3,790.8 1166.2,781.8 1185.2,775 1204.1,775 1223.1,770.1 1242,775 1260.9,764.1 1279.9,775.6 1298.8,769.5 1317.8,765.7 1336.7,760.3 1355.6,761.6 1374.6,758.6 1393.5,774.7 1412.4,758.6 1431.4,755 1450.3,755.6 1469.3,724.9 1488.2,744.6 1507.1,724.7 1526.1,720.9 1545,712.7 1563.9,710.6 1582.9,704.5 1601.8,668.1 1620.8,622.7 1639.7,621.8" stroke="#DB5218" stroke-width="2.05"/>
<polyline points="995.8,829.1 1014.7,817.6 1033.7,817 1052.6,814.3 1071.6,807.2 1090.5,811 1109.4,783.7 1128.4,784.2 1147.3,786.9 1166.2,777.4 1185.2,768.4 1204.1,766.2 1223.1,765.1 1242,770.1 1260.9,759.1 1279.9,766.2 1298.8,764.6 1317.8,760.8 1336.7,755.4 1355.6,752.8 1374.6,749.5 1393.5,765.4 1412.4,747.3 1431.4,747.9 1450.3,749.5 1469.3,717.8 1488.2,739.7 1507.1,719.4 1526.1,715.7 1545,707 1563.9,705 1582.9,699.9 1601.8,659.9 1620.8,622.3 1639.7,621.5" stroke="#0072BD" stroke-width="2.05"/>
<polyline points="995.8,824.2 1014.7,811 1033.7,809.1 1052.6,807.7 1071.6,802.3 1090.5,808 1109.4,781.5 1128.4,778.2 1147.3,785.3 1166.2,773.9 1185.2,765.7 1204.1,763.5 1223.1,762.6 1242,766.2 1260.9,755.3 1279.9,764.1 1298.8,760.8 1317.8,755.8 1336.7,749.7 1355.6,746.8 1374.6,740.8 1393.5,758.3 1412.4,745.7 1431.4,736.4 1450.3,740.8 1469.3,715 1488.2,730.4 1507.1,713.8 1526.1,712.2 1545,703.5 1563.9,698.8 1582.9,696.8 1601.8,652.3 1620.8,622 1639.7,621.3" stroke="#A1132E" stroke-width="2.05"/>
<polyline points="995.8,816.5 1014.7,798.4 1033.7,799.9 1052.6,798.4 1071.6,794.1 1090.5,800.1 1109.4,774.9 1128.4,764.5 1147.3,778.2 1166.2,762.5 1185.2,755.8 1204.1,755.8 1223.1,750.1 1242,753.7 1260.9,748.2 1279.9,753.1 1298.8,744.3 1317.8,746.5 1336.7,739.7 1355.6,736.7 1374.6,726.2 1393.5,744.1 1412.4,737.5 1431.4,727.3 1450.3,727.6 1469.3,704.1 1488.2,721.6 1507.1,705.4 1526.1,707 1545,696.8 1563.9,691.2 1582.9,686.6 1601.8,634.3 1620.8,621 1639.7,620.8" stroke="#6BB132" stroke-width="2.05"/>
<polyline points="995.8,812.3 1014.7,794.4 1033.7,795.5 1052.6,794.4 1071.6,788.6 1090.5,796.8 1109.4,770.3 1128.4,756.1 1147.3,774.7 1166.2,757.7 1185.2,749.8 1204.1,752.3 1223.1,744.9 1242,750.4 1260.9,744.3 1279.9,743.8 1298.8,738.3 1317.8,741.1 1336.7,733 1355.6,730.6 1374.6,720.7 1393.5,741.3 1412.4,732.3 1431.4,721.1 1450.3,721.6 1469.3,700.8 1488.2,714.5 1507.1,702.7 1526.1,704 1545,693.7 1563.9,687.1 1582.9,680.9 1601.8,629.2 1620.8,620.8 1639.7,620.5" stroke="#7D2E8F" stroke-width="2.05"/>
<polyline points="995.8,808.8 1014.7,790.8 1033.7,790.4 1052.6,790.4 1071.6,782.3 1090.5,794.1 1109.4,766.7 1128.4,748.1 1147.3,771.1 1166.2,751.2 1185.2,743.8 1204.1,747.6 1223.1,739.6 1242,747.1 1260.9,739.4 1279.9,736.1 1298.8,732.8 1317.8,735.6 1336.7,726.1 1355.6,724.3 1374.6,715 1393.5,735.8 1412.4,727.1 1431.4,713.9 1450.3,716.7 1469.3,694.8 1488.2,709 1507.1,699.8 1526.1,699.4 1545,690.7 1563.9,682.5 1582.9,676.8 1601.8,625.6 1620.8,620.5 1639.7,620.2" stroke="#EDAE1F" stroke-width="2.05"/>
<polyline points="995.8,805.3 1014.7,786.7 1033.7,786.9 1052.6,786.7 1071.6,774.9 1090.5,790 1109.4,761.8 1128.4,739.9 1147.3,765 1166.2,744.8 1185.2,738.3 1204.1,743.8 1223.1,732.8 1242,743.8 1260.9,736.1 1279.9,728.7 1298.8,726.8 1317.8,729 1336.7,719.5 1355.6,718.5 1374.6,710.1 1393.5,722.2 1412.4,720.5 1431.4,709.6 1450.3,711.8 1469.3,681.6 1488.2,704.1 1507.1,694.8 1526.1,697.3 1545,686.6 1563.9,678.9 1582.9,673.8 1601.8,624.1 1620.8,620.2 1639.7,620" stroke="#DB5218" stroke-width="2.05"/>
<polyline points="995.8,799.2 1014.7,780.4 1033.7,782 1052.6,780.9 1071.6,766.7 1090.5,784.7 1109.4,755.7 1128.4,734.4 1147.3,759 1166.2,735.5 1185.2,735 1204.1,740 1223.1,726.3 1242,737.8 1260.9,731.8 1279.9,720.8 1298.8,720.6 1317.8,720.6 1336.7,713 1355.6,710.7 1374.6,705.4 1393.5,713.4 1412.4,715 1431.4,705.2 1450.3,708.7 1469.3,672.2 1488.2,699.2 1507.1,690 1526.1,695.3 1545,683.5 1563.9,675.8 1582.9,672.2 1601.8,623.1 1620.8,620 1639.7,619.7" stroke="#0072BD" stroke-width="2.05"/>
<polyline points="995.8,791.9 1014.7,772.2 1033.7,777.3 1052.6,773.8 1071.6,759.3 1090.5,776.5 1109.4,749.2 1128.4,730.8 1147.3,751.9 1166.2,725.8 1185.2,731.2 1204.1,735 1223.1,720.3 1242,731.2 1260.9,726.3 1279.9,716.4 1298.8,717 1317.8,714.8 1336.7,705.6 1355.6,705.7 1374.6,701.7 1393.5,707.9 1412.4,709.6 1431.4,701.7 1450.3,703.5 1469.3,666.2 1488.2,695.3 1507.1,684.5 1526.1,691.7 1545,679.4 1563.9,670.2 1582.9,670.2 1601.8,622.3 1620.8,619.8 1639.7,619.5" stroke="#A1132E" stroke-width="2.05"/>
<polyline points="995.8,784.4 1014.7,761.7 1033.7,772.1 1052.6,765.5 1071.6,752.3 1090.5,772.4 1109.4,743.2 1128.4,727.5 1147.3,744.7 1166.2,716.6 1185.2,728.5 1204.1,727.2 1223.1,714 1242,726.8 1260.9,723 1279.9,710.9 1298.8,710.9 1317.8,710.9 1336.7,700.7 1355.6,701.9 1374.6,697.5 1393.5,700.8 1412.4,704.3 1431.4,697.3 1450.3,699.7 1469.3,658.8 1488.2,690.4 1507.1,681.6 1526.1,689.6 1545,677.3 1563.9,670.2 1582.9,669.2 1601.8,621.5 1620.8,619.5 1639.7,619.2" stroke="#2BB7EC" stroke-width="2.05"/>
<polyline points="995.8,842.8 1014.7,834 1033.7,829.6 1052.6,825.8 1071.6,820.7 1090.5,822.5 1109.4,800.1 1128.4,796.8 1147.3,799.2 1166.2,790.3 1185.2,781.6 1204.1,783.8 1223.1,778.8 1242,785.4 1260.9,773.9 1279.9,784.3 1298.8,784.9 1317.8,781 1336.7,772.9 1355.6,770.3 1374.6,772.5 1393.5,785.1 1412.4,769.8 1431.4,769.2 1450.3,767.6 1469.3,741.3 1488.2,754.5 1507.1,742.1 1526.1,731.1 1545,723.9 1563.9,722.9 1582.9,714.2 1601.8,687.6 1620.8,623.4 1639.7,622.3" stroke="#231f20" stroke-width="3.1" stroke-dasharray="10.5 9.5"/>
<polyline points="995.8,820.9 1014.7,805.6 1033.7,805.6 1052.6,804.5 1071.6,799 1090.5,805.6 1109.4,780.9 1128.4,771.6 1147.3,783.1 1166.2,768.4 1185.2,760.2 1204.1,759.1 1223.1,757.5 1242,760.8 1260.9,752.6 1279.9,759.1 1298.8,750.9 1317.8,752.3 1336.7,745.8 1355.6,744.1 1374.6,734.2 1393.5,750.1 1412.4,743 1431.4,731.5 1450.3,733.1 1469.3,709 1488.2,726.5 1507.1,708.5 1526.1,710.6 1545,700.9 1563.9,696.3 1582.9,691.7 1601.8,648.7 1620.8,621.6 1639.7,621" stroke="#231f20" stroke-width="3.1"/>
<polyline points="995.8,775.4 1014.7,752.5 1033.7,767.9 1052.6,755.6 1071.6,743.6 1090.5,758.9 1109.4,732.6 1128.4,718.9 1147.3,738.9 1166.2,711.1 1185.2,723.5 1204.1,722.4 1223.1,706 1242,720.8 1260.9,718.6 1279.9,707.1 1298.8,703.3 1317.8,706 1336.7,691.4 1355.6,696.4 1374.6,688.8 1393.5,673.4 1412.4,696.4 1431.4,688.2 1450.3,690.4 1469.3,652.4 1488.2,681.1 1507.1,676.8 1526.1,686 1545,675.8 1563.9,668.1 1582.9,666.6 1601.8,619.5 1620.8,616.8 1639.7,616.8" stroke="#231f20" stroke-width="3.1" stroke-dasharray="2.6 2.6"/>
</g>
<rect x="995.8" y="554.3" width="643.9" height="436.8" fill="none" stroke="#3a3a3a" stroke-width="1.6"/>
<path d="M995.8 962.8h7.3M1639.7 962.8h-7.3M995.8 901h7.3M1639.7 901h-7.3M995.8 839.2h7.3M1639.7 839.2h-7.3M995.8 777.4h7.3M1639.7 777.4h-7.3M995.8 715.6h7.3M1639.7 715.6h-7.3M995.8 653.8h7.3M1639.7 653.8h-7.3M995.8 592h7.3M1639.7 592h-7.3M995.8 991.1v-7.3M995.8 554.3v7.3M1639.7 991.1v-7.3M1639.7 554.3v7.3" stroke="#3a3a3a" stroke-width="1.3" fill="none"/>
<g font-family="'Liberation Serif',serif" font-size="40.5" fill="#231f20" text-anchor="end">
<text transform="translate(983.3 977.9) scale(0.975 1.045)">9</text>
<text transform="translate(980.9 916.1) scale(0.975 1.045)">12</text>
<text transform="translate(980.9 854.3) scale(0.975 1.045)">15</text>
<text transform="translate(980.9 792.5) scale(0.975 1.045)">18</text>
<text transform="translate(980.9 730.7) scale(0.975 1.045)">21</text>
<text transform="translate(980.9 668.9) scale(0.975 1.045)">24</text>
<text transform="translate(980.9 607.1) scale(0.975 1.045)">27</text>
</g>
<g font-family="'Liberation Serif',serif" font-size="20.5" text-anchor="start">
<text transform="translate(1001.1 1036.7) rotate(-90)" fill="#1f5fbf">H46</text>
<text transform="translate(1020 1036.7) rotate(-90)" fill="#1f5fbf">F38</text>
<text transform="translate(1039 1036.7) rotate(-90)" fill="#1f5fbf">F37</text>
<text transform="translate(1057.9 1036.7) rotate(-90)" fill="#1f5fbf">TS1</text>
<text transform="translate(1076.9 1036.7) rotate(-90)" fill="#1f5fbf">F39</text>
<text transform="translate(1095.8 1036.7) rotate(-90)" fill="#1f5fbf">B18</text>
<text transform="translate(1114.7 1036.7) rotate(-90)" fill="#1f5fbf">G44</text>
<text transform="translate(1133.7 1036.7) rotate(-90)" fill="#1f5fbf">H48</text>
<text transform="translate(1152.6 1036.7) rotate(-90)" fill="#1f5fbf">A5</text>
<text transform="translate(1171.5 1036.7) rotate(-90)" fill="#1a1a1a">D29</text>
<text transform="translate(1190.5 1036.7) rotate(-90)" fill="#1a1a1a">A6</text>
<text transform="translate(1209.4 1036.7) rotate(-90)" fill="#1a1a1a">A2</text>
<text transform="translate(1228.4 1036.7) rotate(-90)" fill="#1a1a1a">H47</text>
<text transform="translate(1247.3 1036.7) rotate(-90)" fill="#1a1a1a">B14</text>
<text transform="translate(1266.2 1036.7) rotate(-90)" fill="#1a1a1a">A3</text>
<text transform="translate(1285.2 1036.7) rotate(-90)" fill="#1a1a1a">D28</text>
<text transform="translate(1304.1 1036.7) rotate(-90)" fill="#1a1a1a">D30</text>
<text transform="translate(1323 1036.7) rotate(-90)" fill="#1a1a1a">F36</text>
<text transform="translate(1342 1036.7) rotate(-90)" fill="#1a1a1a">B13</text>
<text transform="translate(1360.9 1036.7) rotate(-90)" fill="#1a1a1a">A4</text>
<text transform="translate(1379.9 1036.7) rotate(-90)" fill="#1a1a1a">D26</text>
<text transform="translate(1398.8 1036.7) rotate(-90)" fill="#1a1a1a">B17</text>
<text transform="translate(1417.7 1036.7) rotate(-90)" fill="#1a1a1a">B15</text>
<text transform="translate(1436.7 1036.7) rotate(-90)" fill="#1a1a1a">B16</text>
<text transform="translate(1455.6 1036.7) rotate(-90)" fill="#1a1a1a">D27</text>
<text transform="translate(1474.6 1036.7) rotate(-90)" fill="#f01818">A7</text>
<text transform="translate(1493.5 1036.7) rotate(-90)" fill="#f01818">C23</text>
<text transform="translate(1512.4 1036.7) rotate(-90)" fill="#f01818">C20</text>
<text transform="translate(1531.4 1036.7) rotate(-90)" fill="#f01818">C22</text>
<text transform="translate(1550.3 1036.7) rotate(-90)" fill="#f01818">B12</text>
<text transform="translate(1569.2 1036.7) rotate(-90)" fill="#f01818">C21</text>
<text transform="translate(1588.2 1036.7) rotate(-90)" fill="#f01818">B11</text>
<text transform="translate(1607.1 1036.7) rotate(-90)" fill="#f01818">A10</text>
<text transform="translate(1626.1 1036.7) rotate(-90)" fill="#f01818">A8</text>
<text transform="translate(1645 1036.7) rotate(-90)" fill="#f01818">PO1</text>
</g>
<text x="857.0" y="555.1" font-family="'Liberation Sans',sans-serif" font-weight="bold" font-size="29.6" fill="#000">D</text>
<text transform="translate(887.7 862.8) rotate(-90)" font-family="'Liberation Serif','DejaVu Serif',serif" font-size="43.2" fill="#231f20" xml:space="preserve"><tspan>CT</tspan><tspan font-size="25.6" font-style="italic" dy="14.7">Zi</tspan><tspan dy="-14.7"> (°C)</tspan></text><line x1="1006.6" y1="581.6" x2="1037.6" y2="581.6" stroke="#231f20" stroke-width="2.9" stroke-dasharray="3.4 2.1"/><text x="1044.0" y="595.8" font-family="'Liberation Serif','DejaVu Serif',serif" font-size="43.2" fill="#231f20" xml:space="preserve"><tspan>CT</tspan><tspan font-size="25.6" dy="14.7">Z100</tspan></text><line x1="1168.7" y1="581.6" x2="1201.0" y2="581.6" stroke="#231f20" stroke-width="2.9"/><text x="1204.8" y="595.8" font-family="'Liberation Serif','DejaVu Serif',serif" font-size="43.2" fill="#231f20" xml:space="preserve"><tspan>CT</tspan><tspan font-size="25.6" dy="14.7">Z140</tspan></text><line x1="1324.8" y1="581.2" x2="1362.2" y2="581.2" stroke="#231f20" stroke-width="2.9" stroke-dasharray="12.6 12.4"/><text x="1364.7" y="595.8" font-family="'Liberation Serif','DejaVu Serif',serif" font-size="43.2" fill="#231f20" xml:space="preserve"><tspan>CT</tspan><tspan font-size="25.6" dy="14.7">Z165</tspan></text>
</g>
<g id="panelE">
<clipPath id="clipE"><rect x="143" y="1079.8" width="646" height="438"/></clipPath>
<g clip-path="url(#clipE)" fill="none" stroke-linejoin="miter" stroke-miterlimit="4" stroke-linecap="butt">
<polyline points="144,1088.4 162.9,1089.1 181.9,1088.4 200.8,1084.6 219.7,1089.7 238.7,1089.7 257.6,1089.7 276.5,1090 295.5,1087 314.4,1090.6 333.4,1087.2 352.3,1091.5 371.2,1088.1 390.2,1088.7 409.1,1090 428,1092.7 447,1093.8 465.9,1088.4 484.8,1097.3 503.8,1089.7 522.7,1090.3 541.6,1096.4 560.6,1094.3 579.5,1094.3 598.4,1090.3 617.4,1089.7 636.3,1090.7 655.3,1089.7 674.2,1093.8 693.1,1092.3 712.1,1089.2 731,1094.6 749.9,1087.2 768.9,1092.7 787.8,1089.2" stroke="#262626" stroke-width="0.78"/>
<polyline points="144,1089.3 162.9,1090.1 181.9,1089.5 200.8,1087 219.7,1090.8 238.7,1090.7 257.6,1090.7 276.5,1090.8 295.5,1088.4 314.4,1091.9 333.4,1089.2 352.3,1092.6 371.2,1089.7 390.2,1090.4 409.1,1091.2 428,1093.8 447,1094.9 465.9,1089.2 484.8,1098.3 503.8,1091.5 522.7,1090.7 541.6,1101.5 560.6,1096.9 579.5,1096.1 598.4,1093 617.4,1101.5 636.3,1092.7 655.3,1090.6 674.2,1095.3 693.1,1093 712.1,1090.7 731,1094.6 749.9,1093.3 768.9,1094.6 787.8,1094.3" stroke="#262626" stroke-width="0.78"/>
<polyline points="144,1090.1 162.9,1091.2 181.9,1090.5 200.8,1089.1 219.7,1091.9 238.7,1091.5 257.6,1091.5 276.5,1091.6 295.5,1090 314.4,1093.2 333.4,1090.7 352.3,1093.5 371.2,1091 390.2,1092.1 409.1,1092.4 428,1094.9 447,1095.8 465.9,1090 484.8,1099.2 503.8,1093 522.7,1091.2 541.6,1114.5 560.6,1101.5 579.5,1097.6 598.4,1093.8 617.4,1110.7 636.3,1093.8 655.3,1091.5 674.2,1096.9 693.1,1093.8 712.1,1092.3 731,1095.3 749.9,1111.2 768.9,1118.4 787.8,1117.9" stroke="#262626" stroke-width="0.78"/>
<polyline points="144,1091.1 162.9,1092.4 181.9,1091.7 200.8,1091.1 219.7,1093.1 238.7,1092.4 257.6,1092.4 276.5,1092.4 295.5,1091.7 314.4,1094.5 333.4,1092.3 352.3,1094.6 371.2,1092.3 390.2,1093.8 409.1,1093.8 428,1096.1 447,1096.9 465.9,1090.7 484.8,1099.9 503.8,1094.6 522.7,1091.5 541.6,1121.5 560.6,1102.3 579.5,1100.7 598.4,1099.9 617.4,1121.5 636.3,1096.1 655.3,1092.9 674.2,1097.6 693.1,1094.6 712.1,1093 731,1096.1 749.9,1134.5 768.9,1162.1 787.8,1174.4" stroke="#262626" stroke-width="0.78"/>
<polyline points="144,1092.4 162.9,1095.7 181.9,1096.4 200.8,1093.1 219.7,1097.1 238.7,1095.3 257.6,1097.1 276.5,1095.1 295.5,1093.7 314.4,1099.6 333.4,1094.3 352.3,1096.1 371.2,1093 390.2,1097.6 409.1,1098 428,1099.2 447,1098.9 465.9,1091.5 484.8,1101.9 503.8,1098.4 522.7,1094.6 541.6,1123 560.6,1104.6 579.5,1102.3 598.4,1100.7 617.4,1124.5 636.3,1098.4 655.3,1094.6 674.2,1102.2 693.1,1098.4 712.1,1098.4 731,1098.4 749.9,1138.3 768.9,1169.8 787.8,1180.6" stroke="#262626" stroke-width="0.78"/>
<polyline points="144,1098.4 162.9,1101.1 181.9,1102.4 200.8,1095.1 219.7,1103.1 238.7,1098.4 257.6,1101.8 276.5,1102.4 295.5,1098.8 314.4,1104.3 333.4,1098 352.3,1101.5 371.2,1098.4 390.2,1101.9 409.1,1103 428,1102.6 447,1103.8 465.9,1097.3 484.8,1109.2 503.8,1104.6 522.7,1102.6 541.6,1123.8 560.6,1106.6 579.5,1106.6 598.4,1106.6 617.4,1125.3 636.3,1106.1 655.3,1103 674.2,1109.2 693.1,1108.4 712.1,1109.6 731,1109.6 749.9,1140.6 768.9,1176.7 787.8,1185.9" stroke="#262626" stroke-width="0.78"/>
<polyline points="144,1103.4 162.9,1105.8 181.9,1106 200.8,1096.1 219.7,1110.1 238.7,1099.8 257.6,1105.1 276.5,1110.9 295.5,1103.4 314.4,1110.8 333.4,1104.1 352.3,1107.6 371.2,1114.5 390.2,1106.1 409.1,1104.1 428,1111.5 447,1110.2 465.9,1109.6 484.8,1119.1 503.8,1112.2 522.7,1116.4 541.6,1124.5 560.6,1114.8 579.5,1117.6 598.4,1115.8 617.4,1131.4 636.3,1119.5 655.3,1123.8 674.2,1119.9 693.1,1124.5 712.1,1129.1 731,1134.8 749.9,1148.3 768.9,1180.9 787.8,1191.3" stroke="#262626" stroke-width="0.78"/>
<polyline points="144,1229.2 162.9,1240.4 181.9,1243.8 200.8,1249.7 219.7,1258.1 238.7,1238.4 257.6,1267.3 276.5,1267.3 295.5,1262.3 314.4,1276.3 333.4,1248.4 352.3,1278.8 371.2,1275.3 390.2,1265.3 409.1,1275.8 428,1265.6 447,1255.8 465.9,1266.9 484.8,1283.9 503.8,1277.6 522.7,1266.6 541.6,1265.6 560.6,1268.4 579.5,1268.4 598.4,1276.4 617.4,1280.2 636.3,1279.7 655.3,1289.7 674.2,1286.3 693.1,1291.8 712.1,1301.9 731,1311.3 749.9,1303.5 768.9,1304.3 787.8,1370.1" stroke="#262626" stroke-width="0.78"/>
<polyline points="144,1255.3 162.9,1268.4 181.9,1271.5 200.8,1270.7 219.7,1288.4 238.7,1261.2 257.6,1297.1 276.5,1299.4 295.5,1283 314.4,1313.7 333.4,1263 352.3,1304.5 371.2,1301.9 390.2,1291.7 409.1,1307.3 428,1293 447,1277.6 465.9,1294.2 484.8,1310.5 503.8,1301.9 522.7,1296.5 541.6,1293.4 560.6,1292.2 579.5,1288.4 598.4,1306.3 617.4,1304.5 636.3,1306.3 655.3,1316.6 674.2,1312.6 693.1,1320 712.1,1331.7 731,1342.4 749.9,1326.7 768.9,1325.4 787.8,1389.7" stroke="#262626" stroke-width="0.78"/>
<polyline points="144,1285.6 162.9,1297.1 181.9,1306.3 200.8,1303.7 219.7,1324 238.7,1289.4 257.6,1321.8 276.5,1331.4 295.5,1312.6 314.4,1351.3 333.4,1284.5 352.3,1334.9 371.2,1330.6 390.2,1323.4 409.1,1337.8 428,1330.6 447,1340.6 465.9,1326 484.8,1346.7 503.8,1326.8 522.7,1335.2 541.6,1325.7 560.6,1327.1 579.5,1323.2 598.4,1340.3 617.4,1333.2 636.3,1339.8 655.3,1357.1 674.2,1338 693.1,1356.3 712.1,1364.1 731,1373.2 749.9,1357.6 768.9,1347.4 787.8,1416.3" stroke="#262626" stroke-width="0.78"/>
<polyline points="144,1342.9 162.9,1348.3 181.9,1350.6 200.8,1344 219.7,1372.1 238.7,1322.9 257.6,1378.2 276.5,1373.6 295.5,1351.8 314.4,1394.3 333.4,1309.6 352.3,1372.5 371.2,1367 390.2,1356.7 409.1,1383.6 428,1370.1 447,1392 465.9,1369 484.8,1385.4 503.8,1367.5 522.7,1377.7 541.6,1370.5 560.6,1367.9 579.5,1370.5 598.4,1377.7 617.4,1375.4 636.3,1375.4 655.3,1396.7 674.2,1380 693.1,1406.6 712.1,1402.2 731,1416.3 749.9,1397.5 768.9,1377.5 787.8,1456.3" stroke="#262626" stroke-width="0.78"/>
<polyline points="144,1422.8 162.9,1424.7 181.9,1407.9 200.8,1400.8 219.7,1434 238.7,1370.5 257.6,1437.6 276.5,1435.3 295.5,1406.3 314.4,1449.9 333.4,1361.8 352.3,1438.6 371.2,1424.3 390.2,1410 409.1,1437.6 428,1429.2 447,1448.1 465.9,1420.9 484.8,1446.9 503.8,1424.7 522.7,1430 541.6,1430.1 560.6,1421.7 579.5,1438.4 598.4,1434.3 617.4,1430.1 636.3,1434.3 655.3,1450 674.2,1439 693.1,1465.2 712.1,1462.5 731,1474.8 749.9,1444.2 768.9,1435.6 787.8,1508.8" stroke="#9a44a6" stroke-width="2.15"/>
<polyline points="144,1108.4 162.9,1107.6 181.9,1108.1 200.8,1102.3 219.7,1114.5 238.7,1103 257.6,1110.7 276.5,1117.9 295.5,1108.1 314.4,1117.9 333.4,1109.6 352.3,1113.8 371.2,1120.7 390.2,1114.2 409.1,1114.5 428,1119.9 447,1119.1 465.9,1119.9 484.8,1125 503.8,1122.5 522.7,1125 541.6,1126.1 560.6,1123.8 579.5,1125.6 598.4,1125.6 617.4,1134.8 636.3,1128.4 655.3,1133 674.2,1130.7 693.1,1137.6 712.1,1140.3 731,1142.2 749.9,1154.5 768.9,1184.4 787.8,1196.7" stroke="#2BB7EC" stroke-width="2.15"/>
<polyline points="144,1112.7 162.9,1111.8 181.9,1111.5 200.8,1111.2 219.7,1116.1 238.7,1107.6 257.6,1118.4 276.5,1123.8 295.5,1117.6 314.4,1125.6 333.4,1120.4 352.3,1122.2 371.2,1126.8 390.2,1123 409.1,1123 428,1128.1 447,1127.6 465.9,1129.1 484.8,1131.4 503.8,1132.2 522.7,1135.7 541.6,1131.7 560.6,1131.7 579.5,1135.7 598.4,1134.5 617.4,1144 636.3,1137.9 655.3,1144 674.2,1145.6 693.1,1149.9 712.1,1150.2 731,1154.2 749.9,1161.8 768.9,1193.6 787.8,1205.9" stroke="#6BB132" stroke-width="2.15"/>
<polyline points="144,1120.7 162.9,1125 181.9,1119.1 200.8,1124.1 219.7,1127.6 238.7,1123.4 257.6,1131.1 276.5,1137.3 295.5,1129.9 314.4,1136.3 333.4,1139.9 352.3,1139.4 371.2,1141 390.2,1140.3 409.1,1145.3 428,1141 447,1142.5 465.9,1143.7 484.8,1145.6 503.8,1146 522.7,1146.8 541.6,1143 560.6,1147.6 579.5,1148.6 598.4,1148.3 617.4,1158.8 636.3,1152.9 655.3,1157.2 674.2,1160.6 693.1,1160.9 712.1,1160.6 731,1169.5 749.9,1176 768.9,1212.8 787.8,1225.9" stroke="#EDAE1F" stroke-width="2.15"/>
<polyline points="144,1124.1 162.9,1129.6 181.9,1128.1 200.8,1129.9 219.7,1133.3 238.7,1128.7 257.6,1138.8 276.5,1143.4 295.5,1138.8 314.4,1145.4 333.4,1149.6 352.3,1148.6 371.2,1151.7 390.2,1148.6 409.1,1153.7 428,1148.8 447,1149.6 465.9,1151.4 484.8,1154.3 503.8,1155.2 522.7,1154.5 541.6,1148.8 560.6,1157.2 579.5,1154.2 598.4,1155.7 617.4,1164.5 636.3,1162.1 655.3,1164.4 674.2,1169 693.1,1169 712.1,1170.6 731,1178.7 749.9,1187 768.9,1221.3 787.8,1236.6" stroke="#DB5218" stroke-width="2.15"/>
<polyline points="144,1130.2 162.9,1139.9 181.9,1138.3 200.8,1139.1 219.7,1141.1 238.7,1136.8 257.6,1151.1 276.5,1153.7 295.5,1151.1 314.4,1154.5 333.4,1166 352.3,1160.2 371.2,1162.9 390.2,1158.8 409.1,1166 428,1159.8 447,1157.2 465.9,1161.4 484.8,1165.5 503.8,1167.5 522.7,1162.2 541.6,1157.2 560.6,1165.5 579.5,1161.4 598.4,1166.5 617.4,1171.7 636.3,1176 655.3,1176.7 674.2,1179.8 693.1,1181.8 712.1,1194.7 731,1192.1 749.9,1199.3 768.9,1234.3 787.8,1259.2" stroke="#0072BD" stroke-width="2.15"/>
<polyline points="144,1140.3 162.9,1145.7 181.9,1146.8 200.8,1147.6 219.7,1150.6 238.7,1149.9 257.6,1161.7 276.5,1162.9 295.5,1164 314.4,1162.6 333.4,1183.3 352.3,1171.1 371.2,1177.2 390.2,1169.5 409.1,1176 428,1168.6 447,1166 465.9,1171.4 484.8,1176.5 503.8,1177.8 522.7,1172.1 541.6,1172.1 560.6,1173.7 579.5,1172.6 598.4,1176 617.4,1186.3 636.3,1187 655.3,1189.5 674.2,1192.1 693.1,1191.3 712.1,1204.4 731,1202.1 749.9,1213.1 768.9,1245.1 787.8,1282.7" stroke="#A1132E" stroke-width="2.15"/>
<polyline points="144,1149.9 162.9,1156.8 181.9,1157.9 200.8,1158.8 219.7,1161.7 238.7,1162.2 257.6,1177.2 276.5,1176.7 295.5,1174.9 314.4,1172.9 333.4,1194.4 352.3,1182.9 371.2,1188 390.2,1181.4 409.1,1185.5 428,1181.4 447,1177.5 465.9,1184 484.8,1192.1 503.8,1189 522.7,1188.3 541.6,1183.2 560.6,1186 579.5,1184 598.4,1188 617.4,1199 636.3,1197.5 655.3,1200.2 674.2,1203.3 693.1,1202.4 712.1,1214.7 731,1214.3 749.9,1225.4 768.9,1248.1 787.8,1298.8" stroke="#2BB7EC" stroke-width="2.15"/>
<polyline points="144,1161.7 162.9,1173.7 181.9,1170.3 200.8,1173.2 219.7,1176 238.7,1174.4 257.6,1191 276.5,1192.4 295.5,1187.5 314.4,1188 333.4,1209 352.3,1193.6 371.2,1203.6 390.2,1194.1 409.1,1200.2 428,1194.7 447,1188 465.9,1195.9 484.8,1207.9 503.8,1199.8 522.7,1199.8 541.6,1193.2 560.6,1198.2 579.5,1196.7 598.4,1202.4 617.4,1209 636.3,1209 655.3,1212.1 674.2,1219 693.1,1214.7 712.1,1226.6 731,1230.9 749.9,1240.8 768.9,1253 787.8,1317.5" stroke="#6BB132" stroke-width="2.15"/>
<polyline points="144,1175.2 162.9,1189.3 181.9,1189.3 200.8,1187.5 219.7,1189.8 238.7,1184.9 257.6,1213.1 276.5,1202.9 295.5,1201.3 314.4,1202.9 333.4,1220.8 352.3,1213.1 371.2,1219 390.2,1207.2 409.1,1217.7 428,1205.5 447,1202.9 465.9,1206.4 484.8,1227 503.8,1213.9 522.7,1214.1 541.6,1205.9 560.6,1214.1 579.5,1207.9 598.4,1216.7 617.4,1224.8 636.3,1224.3 655.3,1226.6 674.2,1232 693.1,1229.4 712.1,1244.8 731,1244.3 749.9,1252 768.9,1267.3 787.8,1330.1" stroke="#7D2E8F" stroke-width="2.15"/>
<polyline points="144,1191.3 162.9,1204.1 181.9,1204.1 200.8,1204.4 219.7,1209.3 238.7,1199 257.6,1229 276.5,1222.4 295.5,1218.7 314.4,1222.1 333.4,1231 352.3,1233.1 371.2,1236.6 390.2,1220.8 409.1,1231.6 428,1221.3 447,1219.7 465.9,1221.7 484.8,1241.7 503.8,1234 522.7,1226.7 541.6,1222.4 560.6,1231 579.5,1225.4 598.4,1235.1 617.4,1241.2 636.3,1238.6 655.3,1245.1 674.2,1246.3 693.1,1247.8 712.1,1261.2 731,1262 749.9,1266.6 768.9,1273.9 787.8,1342.7" stroke="#EDAE1F" stroke-width="2.15"/>
<polyline points="144,1208.2 162.9,1219.7 181.9,1220.5 200.8,1223.1 219.7,1230.2 238.7,1215.9 257.6,1248.2 276.5,1241.2 295.5,1239.4 314.4,1247.1 333.4,1239.3 352.3,1253.1 371.2,1253.8 390.2,1234.3 409.1,1250 428,1241.7 447,1235.6 465.9,1245.1 484.8,1265.4 503.8,1252 522.7,1245.1 541.6,1243.2 560.6,1247.4 579.5,1250 598.4,1252 617.4,1260.4 636.3,1257.1 655.3,1266.3 674.2,1262.7 693.1,1266.6 712.1,1281.1 731,1284.7 749.9,1282.7 768.9,1289.9 787.8,1356.9" stroke="#DB5218" stroke-width="2.15"/>
<polyline points="144,1116.8 162.9,1117.3 181.9,1115.3 200.8,1116.4 219.7,1123 238.7,1115.3 257.6,1124.5 276.5,1131.4 295.5,1123.4 314.4,1130.7 333.4,1131.1 352.3,1128.8 371.2,1133.3 390.2,1129.9 409.1,1132.2 428,1135.3 447,1136.3 465.9,1135.3 484.8,1137.9 503.8,1139.1 522.7,1141.9 541.6,1135.7 560.6,1139.1 579.5,1143.4 598.4,1142.5 617.4,1150.6 636.3,1145.6 655.3,1150.6 674.2,1154.2 693.1,1156.3 712.1,1155.7 731,1161.4 749.9,1170.6 768.9,1203.3 787.8,1215.9" stroke="#231f20" stroke-width="3.2"/>
</g>
<rect x="144" y="1080.3" width="643.8" height="437" fill="none" stroke="#3a3a3a" stroke-width="1.6"/>
<path d="M144 1080.3h7.3M787.8 1080.3h-7.3M144 1167.7h7.3M787.8 1167.7h-7.3M144 1255.1h7.3M787.8 1255.1h-7.3M144 1342.5h7.3M787.8 1342.5h-7.3M144 1429.9h7.3M787.8 1429.9h-7.3M144 1517.3h7.3M787.8 1517.3h-7.3M144 1517.3v-7.3M144 1080.3v7.3M787.8 1517.3v-7.3M787.8 1080.3v7.3" stroke="#3a3a3a" stroke-width="1.3" fill="none"/>
<g font-family="'Liberation Serif',serif" font-size="40.5" fill="#231f20" text-anchor="end">
<text transform="translate(131.5 1095.4) scale(0.975 1.045)">0</text>
<text transform="translate(126.7 1182.8) scale(0.975 1.045)">200</text>
<text transform="translate(126.7 1270.2) scale(0.975 1.045)">400</text>
<text transform="translate(126.7 1357.6) scale(0.975 1.045)">600</text>
<text transform="translate(126.7 1445) scale(0.975 1.045)">800</text>
<text transform="translate(124.3 1532.4) scale(0.975 1.045)">1000</text>
</g>
<g font-family="'Liberation Serif',serif" font-size="20.5" text-anchor="start">
<text transform="translate(149.3 1562.9) rotate(-90)" fill="#1f5fbf">H46</text>
<text transform="translate(168.2 1562.9) rotate(-90)" fill="#1f5fbf">F38</text>
<text transform="translate(187.2 1562.9) rotate(-90)" fill="#1f5fbf">F37</text>
<text transform="translate(206.1 1562.9) rotate(-90)" fill="#1f5fbf">TS1</text>
<text transform="translate(225 1562.9) rotate(-90)" fill="#1f5fbf">F39</text>
<text transform="translate(244 1562.9) rotate(-90)" fill="#1f5fbf">B18</text>
<text transform="translate(262.9 1562.9) rotate(-90)" fill="#1f5fbf">G44</text>
<text transform="translate(281.8 1562.9) rotate(-90)" fill="#1f5fbf">H48</text>
<text transform="translate(300.8 1562.9) rotate(-90)" fill="#1f5fbf">A5</text>
<text transform="translate(319.7 1562.9) rotate(-90)" fill="#1a1a1a">D29</text>
<text transform="translate(338.7 1562.9) rotate(-90)" fill="#1a1a1a">A6</text>
<text transform="translate(357.6 1562.9) rotate(-90)" fill="#1a1a1a">A2</text>
<text transform="translate(376.5 1562.9) rotate(-90)" fill="#1a1a1a">H47</text>
<text transform="translate(395.5 1562.9) rotate(-90)" fill="#1a1a1a">B14</text>
<text transform="translate(414.4 1562.9) rotate(-90)" fill="#1a1a1a">A3</text>
<text transform="translate(433.3 1562.9) rotate(-90)" fill="#1a1a1a">D28</text>
<text transform="translate(452.3 1562.9) rotate(-90)" fill="#1a1a1a">D30</text>
<text transform="translate(471.2 1562.9) rotate(-90)" fill="#1a1a1a">F36</text>
<text transform="translate(490.1 1562.9) rotate(-90)" fill="#1a1a1a">B13</text>
<text transform="translate(509.1 1562.9) rotate(-90)" fill="#1a1a1a">A4</text>
<text transform="translate(528 1562.9) rotate(-90)" fill="#1a1a1a">D26</text>
<text transform="translate(546.9 1562.9) rotate(-90)" fill="#1a1a1a">B17</text>
<text transform="translate(565.9 1562.9) rotate(-90)" fill="#1a1a1a">B15</text>
<text transform="translate(584.8 1562.9) rotate(-90)" fill="#1a1a1a">B16</text>
<text transform="translate(603.7 1562.9) rotate(-90)" fill="#1a1a1a">D27</text>
<text transform="translate(622.7 1562.9) rotate(-90)" fill="#f01818">A7</text>
<text transform="translate(641.6 1562.9) rotate(-90)" fill="#f01818">C23</text>
<text transform="translate(660.6 1562.9) rotate(-90)" fill="#f01818">C20</text>
<text transform="translate(679.5 1562.9) rotate(-90)" fill="#f01818">C22</text>
<text transform="translate(698.4 1562.9) rotate(-90)" fill="#f01818">B12</text>
<text transform="translate(717.4 1562.9) rotate(-90)" fill="#f01818">C21</text>
<text transform="translate(736.3 1562.9) rotate(-90)" fill="#f01818">B11</text>
<text transform="translate(755.2 1562.9) rotate(-90)" fill="#f01818">A10</text>
<text transform="translate(774.2 1562.9) rotate(-90)" fill="#f01818">A8</text>
<text transform="translate(793.1 1562.9) rotate(-90)" fill="#f01818">PO1</text>
</g>
<text x="0.6" y="1076.6" font-family="'Liberation Sans',sans-serif" font-weight="bold" font-size="29.6" fill="#000">E</text>
<text transform="translate(40.8 1349.0) rotate(-90)" font-family="'Liberation Serif','DejaVu Serif',serif" font-size="43.2" fill="#231f20" xml:space="preserve"><tspan>Z</tspan><tspan font-size="25.6" dy="14.7">CTi</tspan><tspan dy="-14.7"> (m)</tspan></text><line x1="181.9" y1="1480.1" x2="218.4" y2="1480.1" stroke="#231f20" stroke-width="2.9"/><text x="219.0" y="1495.1" font-family="'Liberation Serif','DejaVu Serif',serif" font-size="43.2" fill="#231f20" xml:space="preserve"><tspan>Z</tspan><tspan font-size="25.6" dy="14.7">CT20</tspan></text><line x1="346.1" y1="1481.4" x2="382.2" y2="1481.4" stroke="#a24baa" stroke-width="2.3"/><text x="381.4" y="1495.1" font-family="'Liberation Serif','DejaVu Serif',serif" font-size="43.2" fill="#231f20" xml:space="preserve"><tspan>Z</tspan><tspan font-size="25.6" dy="14.7">CT6</tspan></text>
</g>
<g id="panelF">
<clipPath id="clipF"><rect x="994.8" y="1079.8" width="646.1" height="438"/></clipPath>
<g clip-path="url(#clipF)" fill="none" stroke-linejoin="miter" stroke-miterlimit="4" stroke-linecap="butt">
<polyline points="995.8,1088.1 1014.7,1090.1 1033.7,1089.1 1052.6,1089.7 1071.6,1090.1 1090.5,1090.1 1109.4,1090.7 1128.4,1090.1 1147.3,1089.5 1166.2,1091.1 1185.2,1089.5 1204.1,1093.1 1223.1,1088.5 1242,1091.1 1260.9,1091.7 1279.9,1092.5 1298.8,1093.5 1317.8,1089.1 1336.7,1097.7 1355.6,1089.5 1374.6,1090.1 1393.5,1097.5 1412.4,1093.1 1431.4,1093.7 1450.3,1091.1 1469.3,1091.1 1488.2,1091.7 1507.1,1089.5 1526.1,1093.7 1545,1092.1 1563.9,1089.1 1582.9,1093.7 1601.8,1089.5 1620.8,1092.7 1639.7,1091.1" stroke="#262626" stroke-width="0.78"/>
<polyline points="995.8,1089.5 1014.7,1091.4 1033.7,1090.4 1052.6,1090.3 1071.6,1091.3 1090.5,1091.1 1109.4,1092.1 1128.4,1091.1 1147.3,1091 1166.2,1092.6 1185.2,1090.8 1204.1,1093.4 1223.1,1089.2 1242,1092.3 1260.9,1092.6 1279.9,1093.7 1298.8,1094.8 1317.8,1089.8 1336.7,1098.9 1355.6,1091.8 1374.6,1090.9 1393.5,1104.8 1412.4,1095.9 1431.4,1095.9 1450.3,1092.8 1469.3,1100.1 1488.2,1092.7 1507.1,1090.3 1526.1,1094.9 1545,1093.1 1563.9,1090.4 1582.9,1094.4 1601.8,1100.8 1620.8,1106.9 1639.7,1105.1" stroke="#262626" stroke-width="0.78"/>
<polyline points="995.8,1090.9 1014.7,1092.7 1033.7,1091.7 1052.6,1090.9 1071.6,1092.5 1090.5,1092.1 1109.4,1093.5 1128.4,1092.1 1147.3,1092.5 1166.2,1094.1 1185.2,1092.1 1204.1,1093.7 1223.1,1089.9 1242,1093.5 1260.9,1093.5 1279.9,1094.9 1298.8,1096.1 1317.8,1090.5 1336.7,1100.1 1355.6,1094.1 1374.6,1091.7 1393.5,1112.2 1412.4,1098.7 1431.4,1098.1 1450.3,1094.5 1469.3,1109.1 1488.2,1093.7 1507.1,1091.1 1526.1,1096.1 1545,1094.1 1563.9,1091.7 1582.9,1095.1 1601.8,1112.2 1620.8,1121.2 1639.7,1119.2" stroke="#262626" stroke-width="0.78"/>
<polyline points="995.8,1093.5 1014.7,1098.1 1033.7,1098.1 1052.6,1092.5 1071.6,1098.7 1090.5,1094.5 1109.4,1098.1 1128.4,1096.1 1147.3,1098.1 1166.2,1100.5 1185.2,1097.1 1204.1,1096.7 1223.1,1095.1 1242,1101.7 1260.9,1099.1 1279.9,1100.5 1298.8,1102.1 1317.8,1093.1 1336.7,1105.5 1355.6,1101.1 1374.6,1097.1 1393.5,1121.8 1412.4,1104.5 1431.4,1102.1 1450.3,1102.1 1469.3,1122.2 1488.2,1099.7 1507.1,1095.5 1526.1,1103.5 1545,1100.5 1563.9,1101.7 1582.9,1100.1 1601.8,1138.2 1620.8,1159.3 1639.7,1173.4" stroke="#262626" stroke-width="0.78"/>
<polyline points="995.8,1103.1 1014.7,1105.7 1033.7,1106.1 1052.6,1097.1 1071.6,1109.7 1090.5,1099.7 1109.4,1106.1 1128.4,1112.2 1147.3,1104.1 1166.2,1110.1 1185.2,1105.1 1204.1,1108.1 1223.1,1115.2 1242,1109.1 1260.9,1108.1 1279.9,1112.8 1298.8,1111.1 1317.8,1110.1 1336.7,1118.6 1355.6,1113.2 1374.6,1116.6 1393.5,1124.2 1412.4,1115.2 1431.4,1117.8 1450.3,1116.2 1469.3,1130.2 1488.2,1119.8 1507.1,1124.2 1526.1,1121.2 1545,1124.2 1563.9,1129.8 1582.9,1134.2 1601.8,1144.7 1620.8,1168.4 1639.7,1180.4" stroke="#262626" stroke-width="0.78"/>
<polyline points="995.8,1433.4 1014.7,1430 1033.7,1414.7 1052.6,1408.3 1071.6,1439.4 1090.5,1381.6 1109.4,1443.4 1128.4,1439 1147.3,1415.7 1166.2,1456.1 1185.2,1370.5 1204.1,1444.4 1223.1,1430.8 1242,1421.5 1260.9,1444.4 1279.9,1436 1298.8,1455.1 1317.8,1428.3 1336.7,1452.7 1355.6,1433.1 1374.6,1437.3 1393.5,1436.1 1412.4,1429 1431.4,1445.7 1450.3,1438.7 1469.3,1438.7 1488.2,1439.1 1507.1,1457.3 1526.1,1448.1 1545,1471.4 1563.9,1470.8 1582.9,1480.8 1601.8,1448.7 1620.8,1444.1 1639.7,1516" stroke="#262626" stroke-width="0.78"/>
<polyline points="995.8,1196.1 1014.7,1207.9 1033.7,1207.5 1052.6,1211.5 1071.6,1214.9 1090.5,1208.1 1109.4,1233 1128.4,1225 1147.3,1225.2 1166.2,1229.6 1185.2,1234.2 1204.1,1239.6 1223.1,1241 1242,1224.2 1260.9,1236.6 1279.9,1226 1298.8,1224.6 1317.8,1227.8 1336.7,1247.6 1355.6,1240.2 1374.6,1231 1393.5,1232 1412.4,1235.6 1431.4,1232.6 1450.3,1239.6 1469.3,1247 1488.2,1244.2 1507.1,1249.6 1526.1,1252.1 1545,1251.7 1563.9,1264.3 1582.9,1269.7 1601.8,1274 1620.8,1278.7 1639.7,1348" stroke="#2BB7EC" stroke-width="2.15"/>
<polyline points="995.8,1131.2 1014.7,1140.3 1033.7,1139.7 1052.6,1140.3 1071.6,1143.7 1090.5,1135.2 1109.4,1152.3 1128.4,1155.3 1147.3,1151.9 1166.2,1155.9 1185.2,1166.9 1204.1,1161.9 1223.1,1164.3 1242,1159.7 1260.9,1167.4 1279.9,1160.7 1298.8,1158.3 1317.8,1162.5 1336.7,1166.7 1355.6,1169.4 1374.6,1162.7 1393.5,1157.7 1412.4,1165.9 1431.4,1162.3 1450.3,1167.4 1469.3,1172.4 1488.2,1177.4 1507.1,1179 1526.1,1181.4 1545,1183.4 1563.9,1196.1 1582.9,1192.8 1601.8,1197.9 1620.8,1232.6 1639.7,1252.3" stroke="#6BB132" stroke-width="2.15"/>
<polyline points="995.8,1112.2 1014.7,1111.8 1033.7,1111.1 1052.6,1108.7 1071.6,1115.2 1090.5,1106.1 1109.4,1116.6 1128.4,1121.2 1147.3,1114.2 1166.2,1123.8 1185.2,1117.6 1204.1,1120.2 1223.1,1125.8 1242,1121.2 1260.9,1121.2 1279.9,1125.2 1298.8,1126.2 1317.8,1125.2 1336.7,1129.6 1355.6,1129.6 1374.6,1131.2 1393.5,1128.6 1412.4,1127.6 1431.4,1132.6 1450.3,1131.2 1469.3,1136.6 1488.2,1134.8 1507.1,1140.3 1526.1,1140.3 1545,1145.9 1563.9,1146.7 1582.9,1149.7 1601.8,1152.7 1620.8,1181 1639.7,1191" stroke="#EDAE1F" stroke-width="2.15"/>
<polyline points="995.8,1118.8 1014.7,1120.2 1033.7,1116.6 1052.6,1119.2 1071.6,1124.6 1090.5,1116.6 1109.4,1126.6 1128.4,1134.2 1147.3,1125.2 1166.2,1132.8 1185.2,1134.6 1204.1,1133.2 1223.1,1136.8 1242,1134.2 1260.9,1137.8 1279.9,1136.6 1298.8,1138.2 1317.8,1137 1336.7,1140.7 1355.6,1141.3 1374.6,1143.9 1393.5,1136.2 1412.4,1141.3 1431.4,1145.7 1450.3,1145.3 1469.3,1150.3 1488.2,1147.3 1507.1,1152.3 1526.1,1156.3 1545,1157.9 1563.9,1157.7 1582.9,1163.3 1601.8,1166.9 1620.8,1199.5 1639.7,1213.1" stroke="#231f20" stroke-width="3.2"/>
</g>
<rect x="995.8" y="1080.3" width="643.9" height="437" fill="none" stroke="#3a3a3a" stroke-width="1.6"/>
<path d="M995.8 1080.3h7.3M1639.7 1080.3h-7.3M995.8 1167.7h7.3M1639.7 1167.7h-7.3M995.8 1255.1h7.3M1639.7 1255.1h-7.3M995.8 1342.5h7.3M1639.7 1342.5h-7.3M995.8 1429.9h7.3M1639.7 1429.9h-7.3M995.8 1517.3h7.3M1639.7 1517.3h-7.3M995.8 1517.3v-7.3M995.8 1080.3v7.3M1639.7 1517.3v-7.3M1639.7 1080.3v7.3" stroke="#3a3a3a" stroke-width="1.3" fill="none"/>
<g font-family="'Liberation Serif',serif" font-size="40.5" fill="#231f20" text-anchor="end">
<text transform="translate(983.3 1095.4) scale(0.975 1.045)">0</text>
<text transform="translate(978.5 1182.8) scale(0.975 1.045)">200</text>
<text transform="translate(978.5 1270.2) scale(0.975 1.045)">400</text>
<text transform="translate(978.5 1357.6) scale(0.975 1.045)">600</text>
<text transform="translate(978.5 1445) scale(0.975 1.045)">800</text>
<text transform="translate(976.1 1532.4) scale(0.975 1.045)">1000</text>
</g>
<g font-family="'Liberation Serif',serif" font-size="20.5" text-anchor="start">
<text transform="translate(1001.1 1562.9) rotate(-90)" fill="#1f5fbf">H46</text>
<text transform="translate(1020 1562.9) rotate(-90)" fill="#1f5fbf">F38</text>
<text transform="translate(1039 1562.9) rotate(-90)" fill="#1f5fbf">F37</text>
<text transform="translate(1057.9 1562.9) rotate(-90)" fill="#1f5fbf">TS1</text>
<text transform="translate(1076.9 1562.9) rotate(-90)" fill="#1f5fbf">F39</text>
<text transform="translate(1095.8 1562.9) rotate(-90)" fill="#1f5fbf">B18</text>
<text transform="translate(1114.7 1562.9) rotate(-90)" fill="#1f5fbf">G44</text>
<text transform="translate(1133.7 1562.9) rotate(-90)" fill="#1f5fbf">H48</text>
<text transform="translate(1152.6 1562.9) rotate(-90)" fill="#1f5fbf">A5</text>
<text transform="translate(1171.5 1562.9) rotate(-90)" fill="#1a1a1a">D29</text>
<text transform="translate(1190.5 1562.9) rotate(-90)" fill="#1a1a1a">A6</text>
<text transform="translate(1209.4 1562.9) rotate(-90)" fill="#1a1a1a">A2</text>
<text transform="translate(1228.4 1562.9) rotate(-90)" fill="#1a1a1a">H47</text>
<text transform="translate(1247.3 1562.9) rotate(-90)" fill="#1a1a1a">B14</text>
<text transform="translate(1266.2 1562.9) rotate(-90)" fill="#1a1a1a">A3</text>
<text transform="translate(1285.2 1562.9) rotate(-90)" fill="#1a1a1a">D28</text>
<text transform="translate(1304.1 1562.9) rotate(-90)" fill="#1a1a1a">D30</text>
<text transform="translate(1323 1562.9) rotate(-90)" fill="#1a1a1a">F36</text>
<text transform="translate(1342 1562.9) rotate(-90)" fill="#1a1a1a">B13</text>
<text transform="translate(1360.9 1562.9) rotate(-90)" fill="#1a1a1a">A4</text>
<text transform="translate(1379.9 1562.9) rotate(-90)" fill="#1a1a1a">D26</text>
<text transform="translate(1398.8 1562.9) rotate(-90)" fill="#1a1a1a">B17</text>
<text transform="translate(1417.7 1562.9) rotate(-90)" fill="#1a1a1a">B15</text>
<text transform="translate(1436.7 1562.9) rotate(-90)" fill="#1a1a1a">B16</text>
<text transform="translate(1455.6 1562.9) rotate(-90)" fill="#1a1a1a">D27</text>
<text transform="translate(1474.6 1562.9) rotate(-90)" fill="#f01818">A7</text>
<text transform="translate(1493.5 1562.9) rotate(-90)" fill="#f01818">C23</text>
<text transform="translate(1512.4 1562.9) rotate(-90)" fill="#f01818">C20</text>
<text transform="translate(1531.4 1562.9) rotate(-90)" fill="#f01818">C22</text>
<text transform="translate(1550.3 1562.9) rotate(-90)" fill="#f01818">B12</text>
<text transform="translate(1569.2 1562.9) rotate(-90)" fill="#f01818">C21</text>
<text transform="translate(1588.2 1562.9) rotate(-90)" fill="#f01818">B11</text>
<text transform="translate(1607.1 1562.9) rotate(-90)" fill="#f01818">A10</text>
<text transform="translate(1626.1 1562.9) rotate(-90)" fill="#f01818">A8</text>
<text transform="translate(1645 1562.9) rotate(-90)" fill="#f01818">PO1</text>
</g>
<text x="857.0" y="1076.6" font-family="'Liberation Sans',sans-serif" font-weight="bold" font-size="29.6" fill="#000">F</text>
<text transform="translate(887.2 1347.7) rotate(-90)" font-family="'Liberation Serif','DejaVu Serif',serif" font-size="43.2" fill="#231f20" xml:space="preserve"><tspan>Z</tspan><tspan font-size="25.6" dy="14.7">σ0i</tspan><tspan dy="-14.7"> (m)</tspan></text><line x1="1049.2" y1="1480.1" x2="1081.4" y2="1480.1" stroke="#231f20" stroke-width="2.9"/><text x="1084.0" y="1495.1" font-family="'Liberation Serif','DejaVu Serif',serif" font-size="43.2" fill="#231f20" xml:space="preserve"><tspan>Z</tspan><tspan font-size="25.6" dy="14.7">σ026</tspan></text>
</g>
</svg>
</body></html>
